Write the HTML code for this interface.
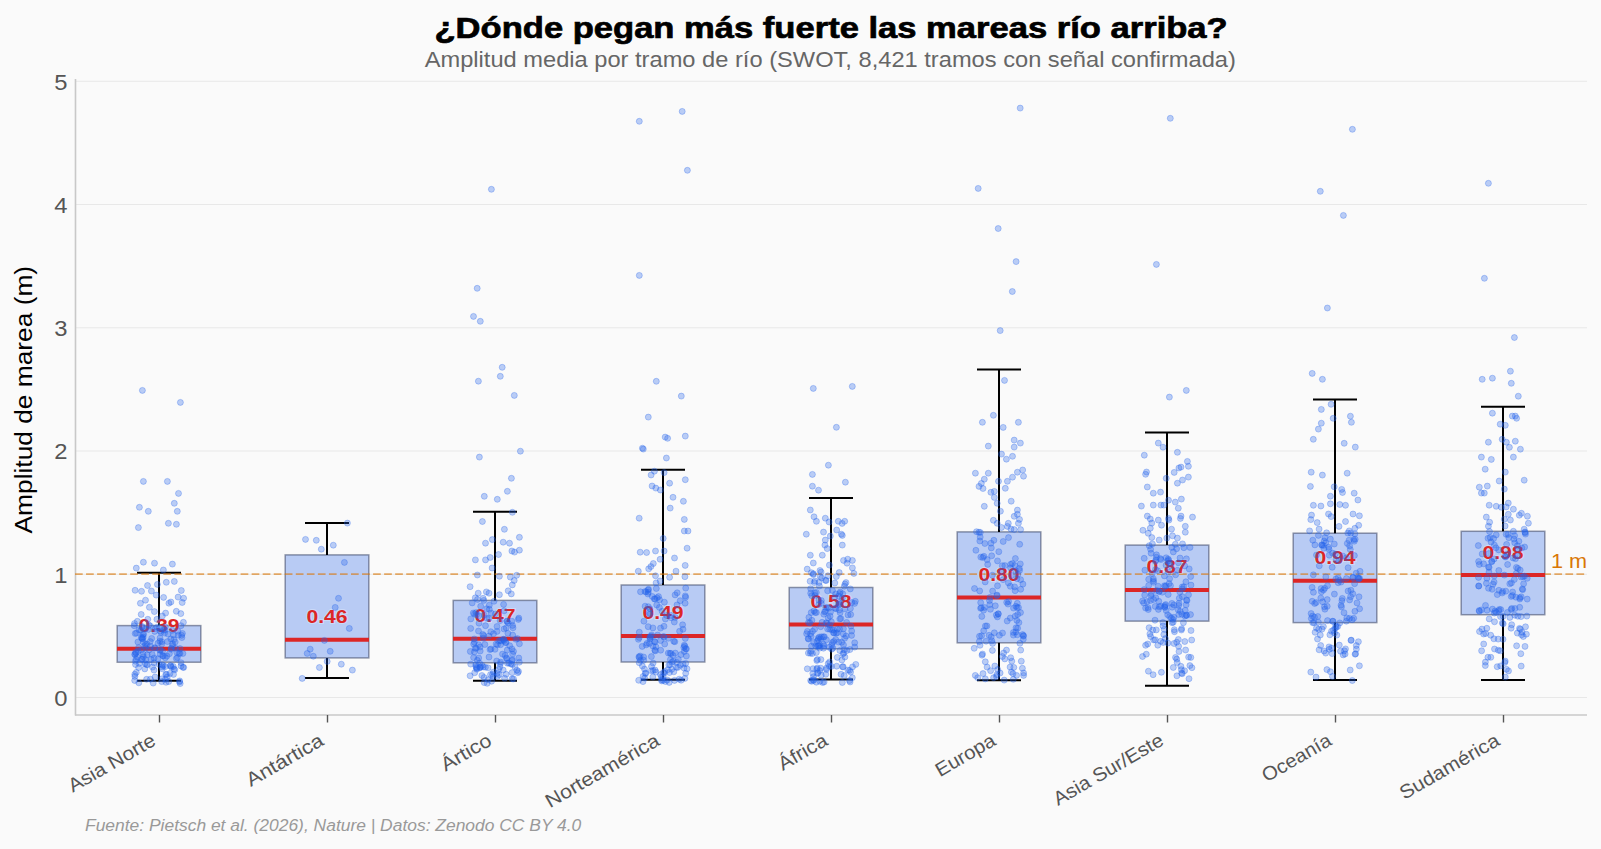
<!DOCTYPE html><html><head><meta charset="utf-8"><style>html,body{margin:0;padding:0;background:#fafafa;overflow:hidden}svg{display:block}</style></head><body><svg width="1601" height="849" viewBox="0 0 1601 849">
<rect x="0" y="0" width="1601" height="849" fill="#fafafa"/>
<line x1="75" y1="697.5" x2="1587" y2="697.5" stroke="#e8e8e8" stroke-width="1"/>
<line x1="75" y1="574.25" x2="1587" y2="574.25" stroke="#e8e8e8" stroke-width="1"/>
<line x1="75" y1="451.0" x2="1587" y2="451.0" stroke="#e8e8e8" stroke-width="1"/>
<line x1="75" y1="327.75" x2="1587" y2="327.75" stroke="#e8e8e8" stroke-width="1"/>
<line x1="75" y1="204.5" x2="1587" y2="204.5" stroke="#e8e8e8" stroke-width="1"/>
<line x1="75" y1="81.25" x2="1587" y2="81.25" stroke="#e8e8e8" stroke-width="1"/>
<line x1="75.5" y1="79" x2="75.5" y2="715.5" stroke="#c8c8c8" stroke-width="1.6"/>
<line x1="75" y1="715" x2="1587" y2="715" stroke="#c8c8c8" stroke-width="1.6"/>
<text x="67.50" y="705.80" text-anchor="end" font-family="Liberation Sans" font-size="21.45" font-weight="normal" font-style="normal" fill="#555"  textLength="13.25" lengthAdjust="spacingAndGlyphs">0</text>
<text x="67.50" y="582.55" text-anchor="end" font-family="Liberation Sans" font-size="21.45" font-weight="normal" font-style="normal" fill="#555"  textLength="13.25" lengthAdjust="spacingAndGlyphs">1</text>
<text x="67.50" y="459.30" text-anchor="end" font-family="Liberation Sans" font-size="21.45" font-weight="normal" font-style="normal" fill="#555"  textLength="13.25" lengthAdjust="spacingAndGlyphs">2</text>
<text x="67.50" y="336.05" text-anchor="end" font-family="Liberation Sans" font-size="21.45" font-weight="normal" font-style="normal" fill="#555"  textLength="13.25" lengthAdjust="spacingAndGlyphs">3</text>
<text x="67.50" y="212.80" text-anchor="end" font-family="Liberation Sans" font-size="21.45" font-weight="normal" font-style="normal" fill="#555"  textLength="13.25" lengthAdjust="spacingAndGlyphs">4</text>
<text x="67.50" y="89.55" text-anchor="end" font-family="Liberation Sans" font-size="21.45" font-weight="normal" font-style="normal" fill="#555"  textLength="13.25" lengthAdjust="spacingAndGlyphs">5</text>
<text x="1551.00" y="567.90" text-anchor="start" font-family="Liberation Sans" font-size="19.31" font-weight="normal" font-style="normal" fill="#d97706"  textLength="36.15" lengthAdjust="spacingAndGlyphs">1 m</text>
<rect x="117.2" y="625.6" width="83.6" height="36.60000000000002" fill="#b8cbf4" stroke="#46506e" stroke-opacity="0.6" stroke-width="1.5"/>
<line x1="159.5" y1="715" x2="159.5" y2="722.5" stroke="#555" stroke-width="1.4"/>
<text transform="translate(157,744.2) rotate(-30)" text-anchor="end" font-family="Liberation Sans" font-size="19.31" font-weight="normal" font-style="normal" fill="#555"  textLength="97.35" lengthAdjust="spacingAndGlyphs">Asia Norte</text>
<rect x="285.2" y="554.9" width="83.6" height="103.0" fill="#b8cbf4" stroke="#46506e" stroke-opacity="0.6" stroke-width="1.5"/>
<line x1="327.5" y1="715" x2="327.5" y2="722.5" stroke="#555" stroke-width="1.4"/>
<text transform="translate(325,744.2) rotate(-30)" text-anchor="end" font-family="Liberation Sans" font-size="19.31" font-weight="normal" font-style="normal" fill="#555"  textLength="85.62" lengthAdjust="spacingAndGlyphs">Antártica</text>
<rect x="453.2" y="600.4" width="83.6" height="62.39999999999998" fill="#b8cbf4" stroke="#46506e" stroke-opacity="0.6" stroke-width="1.5"/>
<line x1="495.5" y1="715" x2="495.5" y2="722.5" stroke="#555" stroke-width="1.4"/>
<text transform="translate(493,744.2) rotate(-30)" text-anchor="end" font-family="Liberation Sans" font-size="19.31" font-weight="normal" font-style="normal" fill="#555"  textLength="54.88" lengthAdjust="spacingAndGlyphs">Ártico</text>
<rect x="621.2" y="585.0" width="83.6" height="77.0" fill="#b8cbf4" stroke="#46506e" stroke-opacity="0.6" stroke-width="1.5"/>
<line x1="663.5" y1="715" x2="663.5" y2="722.5" stroke="#555" stroke-width="1.4"/>
<text transform="translate(661,744.2) rotate(-30)" text-anchor="end" font-family="Liberation Sans" font-size="19.31" font-weight="normal" font-style="normal" fill="#555"  textLength="128.10" lengthAdjust="spacingAndGlyphs">Norteamérica</text>
<rect x="789.2" y="587.5" width="83.6" height="61.299999999999955" fill="#b8cbf4" stroke="#46506e" stroke-opacity="0.6" stroke-width="1.5"/>
<line x1="831.5" y1="715" x2="831.5" y2="722.5" stroke="#555" stroke-width="1.4"/>
<text transform="translate(829,744.2) rotate(-30)" text-anchor="end" font-family="Liberation Sans" font-size="19.31" font-weight="normal" font-style="normal" fill="#555"  textLength="53.48" lengthAdjust="spacingAndGlyphs">África</text>
<rect x="957.2" y="531.9" width="83.6" height="110.89999999999998" fill="#b8cbf4" stroke="#46506e" stroke-opacity="0.6" stroke-width="1.5"/>
<line x1="999.5" y1="715" x2="999.5" y2="722.5" stroke="#555" stroke-width="1.4"/>
<text transform="translate(997,744.2) rotate(-30)" text-anchor="end" font-family="Liberation Sans" font-size="19.31" font-weight="normal" font-style="normal" fill="#555"  textLength="65.89" lengthAdjust="spacingAndGlyphs">Europa</text>
<rect x="1125.2" y="545.1" width="83.6" height="76.0" fill="#b8cbf4" stroke="#46506e" stroke-opacity="0.6" stroke-width="1.5"/>
<line x1="1167.5" y1="715" x2="1167.5" y2="722.5" stroke="#555" stroke-width="1.4"/>
<text transform="translate(1165,744.2) rotate(-30)" text-anchor="end" font-family="Liberation Sans" font-size="19.31" font-weight="normal" font-style="normal" fill="#555"  textLength="123.57" lengthAdjust="spacingAndGlyphs">Asia Sur/Este</text>
<rect x="1293.2" y="533.2" width="83.6" height="89.39999999999998" fill="#b8cbf4" stroke="#46506e" stroke-opacity="0.6" stroke-width="1.5"/>
<line x1="1335.5" y1="715" x2="1335.5" y2="722.5" stroke="#555" stroke-width="1.4"/>
<text transform="translate(1333,744.2) rotate(-30)" text-anchor="end" font-family="Liberation Sans" font-size="19.31" font-weight="normal" font-style="normal" fill="#555"  textLength="76.68" lengthAdjust="spacingAndGlyphs">Oceanía</text>
<rect x="1461.2" y="531.3" width="83.6" height="83.40000000000009" fill="#b8cbf4" stroke="#46506e" stroke-opacity="0.6" stroke-width="1.5"/>
<line x1="1503.5" y1="715" x2="1503.5" y2="722.5" stroke="#555" stroke-width="1.4"/>
<text transform="translate(1501,744.2) rotate(-30)" text-anchor="end" font-family="Liberation Sans" font-size="19.31" font-weight="normal" font-style="normal" fill="#555"  textLength="111.69" lengthAdjust="spacingAndGlyphs">Sudamérica</text>
<line x1="159" y1="625.6" x2="159" y2="572.7" stroke="#000" stroke-width="2"/>
<line x1="159" y1="662.2" x2="159" y2="680.8" stroke="#000" stroke-width="2"/>
<line x1="137" y1="572.7" x2="181" y2="572.7" stroke="#000" stroke-width="2"/>
<line x1="137" y1="680.8" x2="181" y2="680.8" stroke="#000" stroke-width="2"/>
<line x1="327" y1="554.9" x2="327" y2="522.9" stroke="#000" stroke-width="2"/>
<line x1="327" y1="657.9" x2="327" y2="677.9" stroke="#000" stroke-width="2"/>
<line x1="305" y1="522.9" x2="349" y2="522.9" stroke="#000" stroke-width="2"/>
<line x1="305" y1="677.9" x2="349" y2="677.9" stroke="#000" stroke-width="2"/>
<line x1="495" y1="600.4" x2="495" y2="511.8" stroke="#000" stroke-width="2"/>
<line x1="495" y1="662.8" x2="495" y2="680.7" stroke="#000" stroke-width="2"/>
<line x1="473" y1="511.8" x2="517" y2="511.8" stroke="#000" stroke-width="2"/>
<line x1="473" y1="680.7" x2="517" y2="680.7" stroke="#000" stroke-width="2"/>
<line x1="663" y1="585.0" x2="663" y2="469.7" stroke="#000" stroke-width="2"/>
<line x1="663" y1="662.0" x2="663" y2="679.7" stroke="#000" stroke-width="2"/>
<line x1="641" y1="469.7" x2="685" y2="469.7" stroke="#000" stroke-width="2"/>
<line x1="641" y1="679.7" x2="685" y2="679.7" stroke="#000" stroke-width="2"/>
<line x1="831" y1="587.5" x2="831" y2="497.9" stroke="#000" stroke-width="2"/>
<line x1="831" y1="648.8" x2="831" y2="679.6" stroke="#000" stroke-width="2"/>
<line x1="809" y1="497.9" x2="853" y2="497.9" stroke="#000" stroke-width="2"/>
<line x1="809" y1="679.6" x2="853" y2="679.6" stroke="#000" stroke-width="2"/>
<line x1="999" y1="531.9" x2="999" y2="369.4" stroke="#000" stroke-width="2"/>
<line x1="999" y1="642.8" x2="999" y2="680.2" stroke="#000" stroke-width="2"/>
<line x1="977" y1="369.4" x2="1021" y2="369.4" stroke="#000" stroke-width="2"/>
<line x1="977" y1="680.2" x2="1021" y2="680.2" stroke="#000" stroke-width="2"/>
<line x1="1167" y1="545.1" x2="1167" y2="432.5" stroke="#000" stroke-width="2"/>
<line x1="1167" y1="621.1" x2="1167" y2="685.8" stroke="#000" stroke-width="2"/>
<line x1="1145" y1="432.5" x2="1189" y2="432.5" stroke="#000" stroke-width="2"/>
<line x1="1145" y1="685.8" x2="1189" y2="685.8" stroke="#000" stroke-width="2"/>
<line x1="1335" y1="533.2" x2="1335" y2="399.6" stroke="#000" stroke-width="2"/>
<line x1="1335" y1="622.6" x2="1335" y2="680.0" stroke="#000" stroke-width="2"/>
<line x1="1313" y1="399.6" x2="1357" y2="399.6" stroke="#000" stroke-width="2"/>
<line x1="1313" y1="680.0" x2="1357" y2="680.0" stroke="#000" stroke-width="2"/>
<line x1="1503" y1="531.3" x2="1503" y2="406.8" stroke="#000" stroke-width="2"/>
<line x1="1503" y1="614.7" x2="1503" y2="680.0" stroke="#000" stroke-width="2"/>
<line x1="1481" y1="406.8" x2="1525" y2="406.8" stroke="#000" stroke-width="2"/>
<line x1="1481" y1="680.0" x2="1525" y2="680.0" stroke="#000" stroke-width="2"/>
<line x1="75" y1="574.1" x2="1587" y2="574.1" stroke="#d97706" stroke-opacity="0.6" stroke-width="1.9" stroke-dasharray="7.71 3.33"/>
<line x1="117" y1="648.7" x2="201" y2="648.7" stroke="#dc2626" stroke-width="4"/>
<text x="159.00" y="632.10" text-anchor="middle" font-family="Liberation Sans" font-size="18.00" font-weight="bold" font-style="normal" fill="#dc2626" stroke="#ffffff" stroke-opacity="0.3" stroke-width="2" paint-order="stroke" textLength="41.13" lengthAdjust="spacingAndGlyphs">0.39</text>
<line x1="285" y1="639.7" x2="369" y2="639.7" stroke="#dc2626" stroke-width="4"/>
<text x="327.00" y="623.10" text-anchor="middle" font-family="Liberation Sans" font-size="18.00" font-weight="bold" font-style="normal" fill="#dc2626" stroke="#ffffff" stroke-opacity="0.3" stroke-width="2" paint-order="stroke" textLength="41.13" lengthAdjust="spacingAndGlyphs">0.46</text>
<line x1="453" y1="638.7" x2="537" y2="638.7" stroke="#dc2626" stroke-width="4"/>
<text x="495.00" y="622.10" text-anchor="middle" font-family="Liberation Sans" font-size="18.00" font-weight="bold" font-style="normal" fill="#dc2626" stroke="#ffffff" stroke-opacity="0.3" stroke-width="2" paint-order="stroke" textLength="41.13" lengthAdjust="spacingAndGlyphs">0.47</text>
<line x1="621" y1="635.9" x2="705" y2="635.9" stroke="#dc2626" stroke-width="4"/>
<text x="663.00" y="619.30" text-anchor="middle" font-family="Liberation Sans" font-size="18.00" font-weight="bold" font-style="normal" fill="#dc2626" stroke="#ffffff" stroke-opacity="0.3" stroke-width="2" paint-order="stroke" textLength="41.13" lengthAdjust="spacingAndGlyphs">0.49</text>
<line x1="789" y1="624.5" x2="873" y2="624.5" stroke="#dc2626" stroke-width="4"/>
<text x="831.00" y="607.90" text-anchor="middle" font-family="Liberation Sans" font-size="18.00" font-weight="bold" font-style="normal" fill="#dc2626" stroke="#ffffff" stroke-opacity="0.3" stroke-width="2" paint-order="stroke" textLength="41.13" lengthAdjust="spacingAndGlyphs">0.58</text>
<line x1="957" y1="597.6" x2="1041" y2="597.6" stroke="#dc2626" stroke-width="4"/>
<text x="999.00" y="581.00" text-anchor="middle" font-family="Liberation Sans" font-size="18.00" font-weight="bold" font-style="normal" fill="#dc2626" stroke="#ffffff" stroke-opacity="0.3" stroke-width="2" paint-order="stroke" textLength="41.13" lengthAdjust="spacingAndGlyphs">0.80</text>
<line x1="1125" y1="590.0" x2="1209" y2="590.0" stroke="#dc2626" stroke-width="4"/>
<text x="1167.00" y="573.40" text-anchor="middle" font-family="Liberation Sans" font-size="18.00" font-weight="bold" font-style="normal" fill="#dc2626" stroke="#ffffff" stroke-opacity="0.3" stroke-width="2" paint-order="stroke" textLength="41.13" lengthAdjust="spacingAndGlyphs">0.87</text>
<line x1="1293" y1="580.8" x2="1377" y2="580.8" stroke="#dc2626" stroke-width="4"/>
<text x="1335.00" y="564.20" text-anchor="middle" font-family="Liberation Sans" font-size="18.00" font-weight="bold" font-style="normal" fill="#dc2626" stroke="#ffffff" stroke-opacity="0.3" stroke-width="2" paint-order="stroke" textLength="41.13" lengthAdjust="spacingAndGlyphs">0.94</text>
<line x1="1461" y1="575.1" x2="1545" y2="575.1" stroke="#dc2626" stroke-width="4"/>
<text x="1503.00" y="558.50" text-anchor="middle" font-family="Liberation Sans" font-size="18.00" font-weight="bold" font-style="normal" fill="#dc2626" stroke="#ffffff" stroke-opacity="0.3" stroke-width="2" paint-order="stroke" textLength="41.13" lengthAdjust="spacingAndGlyphs">0.98</text>
<circle cx="142.4" cy="390.4" r="3" fill="#2563eb" fill-opacity="0.3" stroke="#2563eb" stroke-opacity="0.3" stroke-width="1"/>
<circle cx="180.4" cy="402.4" r="3" fill="#2563eb" fill-opacity="0.3" stroke="#2563eb" stroke-opacity="0.3" stroke-width="1"/>
<circle cx="143.4" cy="481.4" r="3" fill="#2563eb" fill-opacity="0.3" stroke="#2563eb" stroke-opacity="0.3" stroke-width="1"/>
<circle cx="167.4" cy="481.4" r="3" fill="#2563eb" fill-opacity="0.3" stroke="#2563eb" stroke-opacity="0.3" stroke-width="1"/>
<circle cx="178.5" cy="493.4" r="3" fill="#2563eb" fill-opacity="0.3" stroke="#2563eb" stroke-opacity="0.3" stroke-width="1"/>
<circle cx="174.3" cy="503.3" r="3" fill="#2563eb" fill-opacity="0.3" stroke="#2563eb" stroke-opacity="0.3" stroke-width="1"/>
<circle cx="139.4" cy="507.3" r="3" fill="#2563eb" fill-opacity="0.3" stroke="#2563eb" stroke-opacity="0.3" stroke-width="1"/>
<circle cx="148.3" cy="511.3" r="3" fill="#2563eb" fill-opacity="0.3" stroke="#2563eb" stroke-opacity="0.3" stroke-width="1"/>
<circle cx="177.3" cy="511.3" r="3" fill="#2563eb" fill-opacity="0.3" stroke="#2563eb" stroke-opacity="0.3" stroke-width="1"/>
<circle cx="138.4" cy="527.6" r="3" fill="#2563eb" fill-opacity="0.3" stroke="#2563eb" stroke-opacity="0.3" stroke-width="1"/>
<circle cx="168.4" cy="523.3" r="3" fill="#2563eb" fill-opacity="0.3" stroke="#2563eb" stroke-opacity="0.3" stroke-width="1"/>
<circle cx="176.4" cy="524.3" r="3" fill="#2563eb" fill-opacity="0.3" stroke="#2563eb" stroke-opacity="0.3" stroke-width="1"/>
<circle cx="143.4" cy="562.2" r="3" fill="#2563eb" fill-opacity="0.3" stroke="#2563eb" stroke-opacity="0.3" stroke-width="1"/>
<circle cx="154.5" cy="563.2" r="3" fill="#2563eb" fill-opacity="0.3" stroke="#2563eb" stroke-opacity="0.3" stroke-width="1"/>
<circle cx="172.4" cy="564.1" r="3" fill="#2563eb" fill-opacity="0.3" stroke="#2563eb" stroke-opacity="0.3" stroke-width="1"/>
<circle cx="136.3" cy="568.1" r="3" fill="#2563eb" fill-opacity="0.3" stroke="#2563eb" stroke-opacity="0.3" stroke-width="1"/>
<circle cx="163.4" cy="570.0" r="3" fill="#2563eb" fill-opacity="0.3" stroke="#2563eb" stroke-opacity="0.3" stroke-width="1"/>
<circle cx="166.3" cy="582.3" r="3" fill="#2563eb" fill-opacity="0.3" stroke="#2563eb" stroke-opacity="0.3" stroke-width="1"/>
<circle cx="174.3" cy="581.4" r="3" fill="#2563eb" fill-opacity="0.3" stroke="#2563eb" stroke-opacity="0.3" stroke-width="1"/>
<circle cx="157.4" cy="584.4" r="3" fill="#2563eb" fill-opacity="0.3" stroke="#2563eb" stroke-opacity="0.3" stroke-width="1"/>
<circle cx="147.5" cy="585.5" r="3" fill="#2563eb" fill-opacity="0.3" stroke="#2563eb" stroke-opacity="0.3" stroke-width="1"/>
<circle cx="135.1" cy="590.3" r="3" fill="#2563eb" fill-opacity="0.3" stroke="#2563eb" stroke-opacity="0.3" stroke-width="1"/>
<circle cx="141.5" cy="591.3" r="3" fill="#2563eb" fill-opacity="0.3" stroke="#2563eb" stroke-opacity="0.3" stroke-width="1"/>
<circle cx="151.4" cy="591.0" r="3" fill="#2563eb" fill-opacity="0.3" stroke="#2563eb" stroke-opacity="0.3" stroke-width="1"/>
<circle cx="181.3" cy="590.5" r="3" fill="#2563eb" fill-opacity="0.3" stroke="#2563eb" stroke-opacity="0.3" stroke-width="1"/>
<circle cx="156.2" cy="595.1" r="3" fill="#2563eb" fill-opacity="0.3" stroke="#2563eb" stroke-opacity="0.3" stroke-width="1"/>
<circle cx="163.6" cy="597.4" r="3" fill="#2563eb" fill-opacity="0.3" stroke="#2563eb" stroke-opacity="0.3" stroke-width="1"/>
<circle cx="145.5" cy="600.2" r="3" fill="#2563eb" fill-opacity="0.3" stroke="#2563eb" stroke-opacity="0.3" stroke-width="1"/>
<circle cx="178.1" cy="597.1" r="3" fill="#2563eb" fill-opacity="0.3" stroke="#2563eb" stroke-opacity="0.3" stroke-width="1"/>
<circle cx="183.6" cy="598.2" r="3" fill="#2563eb" fill-opacity="0.3" stroke="#2563eb" stroke-opacity="0.3" stroke-width="1"/>
<circle cx="140.4" cy="603.3" r="3" fill="#2563eb" fill-opacity="0.3" stroke="#2563eb" stroke-opacity="0.3" stroke-width="1"/>
<circle cx="168.9" cy="603.2" r="3" fill="#2563eb" fill-opacity="0.3" stroke="#2563eb" stroke-opacity="0.3" stroke-width="1"/>
<circle cx="170.9" cy="602.0" r="3" fill="#2563eb" fill-opacity="0.3" stroke="#2563eb" stroke-opacity="0.3" stroke-width="1"/>
<circle cx="182.2" cy="602.5" r="3" fill="#2563eb" fill-opacity="0.3" stroke="#2563eb" stroke-opacity="0.3" stroke-width="1"/>
<circle cx="149.4" cy="607.3" r="3" fill="#2563eb" fill-opacity="0.3" stroke="#2563eb" stroke-opacity="0.3" stroke-width="1"/>
<circle cx="154.4" cy="611.6" r="3" fill="#2563eb" fill-opacity="0.3" stroke="#2563eb" stroke-opacity="0.3" stroke-width="1"/>
<circle cx="176.3" cy="611.3" r="3" fill="#2563eb" fill-opacity="0.3" stroke="#2563eb" stroke-opacity="0.3" stroke-width="1"/>
<circle cx="180.8" cy="613.6" r="3" fill="#2563eb" fill-opacity="0.3" stroke="#2563eb" stroke-opacity="0.3" stroke-width="1"/>
<circle cx="141.2" cy="614.4" r="3" fill="#2563eb" fill-opacity="0.3" stroke="#2563eb" stroke-opacity="0.3" stroke-width="1"/>
<circle cx="165.6" cy="613.1" r="3" fill="#2563eb" fill-opacity="0.3" stroke="#2563eb" stroke-opacity="0.3" stroke-width="1"/>
<circle cx="162.3" cy="616.0" r="3" fill="#2563eb" fill-opacity="0.3" stroke="#2563eb" stroke-opacity="0.3" stroke-width="1"/>
<circle cx="137.4" cy="621.3" r="3" fill="#2563eb" fill-opacity="0.3" stroke="#2563eb" stroke-opacity="0.3" stroke-width="1"/>
<circle cx="183.4" cy="622.3" r="3" fill="#2563eb" fill-opacity="0.3" stroke="#2563eb" stroke-opacity="0.3" stroke-width="1"/>
<circle cx="156.9" cy="619.3" r="3" fill="#2563eb" fill-opacity="0.3" stroke="#2563eb" stroke-opacity="0.3" stroke-width="1"/>
<circle cx="147.8" cy="619.3" r="3" fill="#2563eb" fill-opacity="0.3" stroke="#2563eb" stroke-opacity="0.3" stroke-width="1"/>
<circle cx="134.5" cy="623.5" r="3" fill="#2563eb" fill-opacity="0.3" stroke="#2563eb" stroke-opacity="0.3" stroke-width="1"/>
<circle cx="148.9" cy="625.0" r="3" fill="#2563eb" fill-opacity="0.3" stroke="#2563eb" stroke-opacity="0.3" stroke-width="1"/>
<circle cx="143.7" cy="634.1" r="3" fill="#2563eb" fill-opacity="0.3" stroke="#2563eb" stroke-opacity="0.3" stroke-width="1"/>
<circle cx="142.1" cy="638.7" r="3" fill="#2563eb" fill-opacity="0.3" stroke="#2563eb" stroke-opacity="0.3" stroke-width="1"/>
<circle cx="155.6" cy="628.5" r="3" fill="#2563eb" fill-opacity="0.3" stroke="#2563eb" stroke-opacity="0.3" stroke-width="1"/>
<circle cx="142.7" cy="638.6" r="3" fill="#2563eb" fill-opacity="0.3" stroke="#2563eb" stroke-opacity="0.3" stroke-width="1"/>
<circle cx="151.7" cy="638.4" r="3" fill="#2563eb" fill-opacity="0.3" stroke="#2563eb" stroke-opacity="0.3" stroke-width="1"/>
<circle cx="138.6" cy="647.7" r="3" fill="#2563eb" fill-opacity="0.3" stroke="#2563eb" stroke-opacity="0.3" stroke-width="1"/>
<circle cx="154.6" cy="648.2" r="3" fill="#2563eb" fill-opacity="0.3" stroke="#2563eb" stroke-opacity="0.3" stroke-width="1"/>
<circle cx="141.4" cy="637.2" r="3" fill="#2563eb" fill-opacity="0.3" stroke="#2563eb" stroke-opacity="0.3" stroke-width="1"/>
<circle cx="143.5" cy="642.2" r="3" fill="#2563eb" fill-opacity="0.3" stroke="#2563eb" stroke-opacity="0.3" stroke-width="1"/>
<circle cx="135.2" cy="633.5" r="3" fill="#2563eb" fill-opacity="0.3" stroke="#2563eb" stroke-opacity="0.3" stroke-width="1"/>
<circle cx="182.4" cy="633.4" r="3" fill="#2563eb" fill-opacity="0.3" stroke="#2563eb" stroke-opacity="0.3" stroke-width="1"/>
<circle cx="171.2" cy="648.2" r="3" fill="#2563eb" fill-opacity="0.3" stroke="#2563eb" stroke-opacity="0.3" stroke-width="1"/>
<circle cx="181.0" cy="625.7" r="3" fill="#2563eb" fill-opacity="0.3" stroke="#2563eb" stroke-opacity="0.3" stroke-width="1"/>
<circle cx="172.5" cy="645.7" r="3" fill="#2563eb" fill-opacity="0.3" stroke="#2563eb" stroke-opacity="0.3" stroke-width="1"/>
<circle cx="139.0" cy="629.7" r="3" fill="#2563eb" fill-opacity="0.3" stroke="#2563eb" stroke-opacity="0.3" stroke-width="1"/>
<circle cx="178.3" cy="635.2" r="3" fill="#2563eb" fill-opacity="0.3" stroke="#2563eb" stroke-opacity="0.3" stroke-width="1"/>
<circle cx="170.8" cy="639.0" r="3" fill="#2563eb" fill-opacity="0.3" stroke="#2563eb" stroke-opacity="0.3" stroke-width="1"/>
<circle cx="160.2" cy="631.0" r="3" fill="#2563eb" fill-opacity="0.3" stroke="#2563eb" stroke-opacity="0.3" stroke-width="1"/>
<circle cx="175.2" cy="642.0" r="3" fill="#2563eb" fill-opacity="0.3" stroke="#2563eb" stroke-opacity="0.3" stroke-width="1"/>
<circle cx="145.6" cy="644.2" r="3" fill="#2563eb" fill-opacity="0.3" stroke="#2563eb" stroke-opacity="0.3" stroke-width="1"/>
<circle cx="144.8" cy="645.8" r="3" fill="#2563eb" fill-opacity="0.3" stroke="#2563eb" stroke-opacity="0.3" stroke-width="1"/>
<circle cx="161.8" cy="644.1" r="3" fill="#2563eb" fill-opacity="0.3" stroke="#2563eb" stroke-opacity="0.3" stroke-width="1"/>
<circle cx="163.4" cy="629.9" r="3" fill="#2563eb" fill-opacity="0.3" stroke="#2563eb" stroke-opacity="0.3" stroke-width="1"/>
<circle cx="181.9" cy="637.6" r="3" fill="#2563eb" fill-opacity="0.3" stroke="#2563eb" stroke-opacity="0.3" stroke-width="1"/>
<circle cx="142.2" cy="626.6" r="3" fill="#2563eb" fill-opacity="0.3" stroke="#2563eb" stroke-opacity="0.3" stroke-width="1"/>
<circle cx="175.6" cy="648.3" r="3" fill="#2563eb" fill-opacity="0.3" stroke="#2563eb" stroke-opacity="0.3" stroke-width="1"/>
<circle cx="145.5" cy="629.1" r="3" fill="#2563eb" fill-opacity="0.3" stroke="#2563eb" stroke-opacity="0.3" stroke-width="1"/>
<circle cx="141.8" cy="638.1" r="3" fill="#2563eb" fill-opacity="0.3" stroke="#2563eb" stroke-opacity="0.3" stroke-width="1"/>
<circle cx="136.5" cy="633.1" r="3" fill="#2563eb" fill-opacity="0.3" stroke="#2563eb" stroke-opacity="0.3" stroke-width="1"/>
<circle cx="137.9" cy="642.0" r="3" fill="#2563eb" fill-opacity="0.3" stroke="#2563eb" stroke-opacity="0.3" stroke-width="1"/>
<circle cx="180.0" cy="648.6" r="3" fill="#2563eb" fill-opacity="0.3" stroke="#2563eb" stroke-opacity="0.3" stroke-width="1"/>
<circle cx="172.6" cy="643.8" r="3" fill="#2563eb" fill-opacity="0.3" stroke="#2563eb" stroke-opacity="0.3" stroke-width="1"/>
<circle cx="167.9" cy="634.1" r="3" fill="#2563eb" fill-opacity="0.3" stroke="#2563eb" stroke-opacity="0.3" stroke-width="1"/>
<circle cx="158.0" cy="643.2" r="3" fill="#2563eb" fill-opacity="0.3" stroke="#2563eb" stroke-opacity="0.3" stroke-width="1"/>
<circle cx="165.3" cy="627.0" r="3" fill="#2563eb" fill-opacity="0.3" stroke="#2563eb" stroke-opacity="0.3" stroke-width="1"/>
<circle cx="164.5" cy="633.1" r="3" fill="#2563eb" fill-opacity="0.3" stroke="#2563eb" stroke-opacity="0.3" stroke-width="1"/>
<circle cx="181.6" cy="635.3" r="3" fill="#2563eb" fill-opacity="0.3" stroke="#2563eb" stroke-opacity="0.3" stroke-width="1"/>
<circle cx="172.4" cy="630.3" r="3" fill="#2563eb" fill-opacity="0.3" stroke="#2563eb" stroke-opacity="0.3" stroke-width="1"/>
<circle cx="161.8" cy="641.7" r="3" fill="#2563eb" fill-opacity="0.3" stroke="#2563eb" stroke-opacity="0.3" stroke-width="1"/>
<circle cx="142.2" cy="627.4" r="3" fill="#2563eb" fill-opacity="0.3" stroke="#2563eb" stroke-opacity="0.3" stroke-width="1"/>
<circle cx="145.5" cy="647.9" r="3" fill="#2563eb" fill-opacity="0.3" stroke="#2563eb" stroke-opacity="0.3" stroke-width="1"/>
<circle cx="148.4" cy="629.4" r="3" fill="#2563eb" fill-opacity="0.3" stroke="#2563eb" stroke-opacity="0.3" stroke-width="1"/>
<circle cx="160.0" cy="638.0" r="3" fill="#2563eb" fill-opacity="0.3" stroke="#2563eb" stroke-opacity="0.3" stroke-width="1"/>
<circle cx="134.2" cy="625.7" r="3" fill="#2563eb" fill-opacity="0.3" stroke="#2563eb" stroke-opacity="0.3" stroke-width="1"/>
<circle cx="143.2" cy="637.1" r="3" fill="#2563eb" fill-opacity="0.3" stroke="#2563eb" stroke-opacity="0.3" stroke-width="1"/>
<circle cx="173.9" cy="639.6" r="3" fill="#2563eb" fill-opacity="0.3" stroke="#2563eb" stroke-opacity="0.3" stroke-width="1"/>
<circle cx="159.3" cy="627.8" r="3" fill="#2563eb" fill-opacity="0.3" stroke="#2563eb" stroke-opacity="0.3" stroke-width="1"/>
<circle cx="173.5" cy="635.0" r="3" fill="#2563eb" fill-opacity="0.3" stroke="#2563eb" stroke-opacity="0.3" stroke-width="1"/>
<circle cx="154.8" cy="647.7" r="3" fill="#2563eb" fill-opacity="0.3" stroke="#2563eb" stroke-opacity="0.3" stroke-width="1"/>
<circle cx="177.9" cy="631.2" r="3" fill="#2563eb" fill-opacity="0.3" stroke="#2563eb" stroke-opacity="0.3" stroke-width="1"/>
<circle cx="150.5" cy="626.2" r="3" fill="#2563eb" fill-opacity="0.3" stroke="#2563eb" stroke-opacity="0.3" stroke-width="1"/>
<circle cx="142.9" cy="634.7" r="3" fill="#2563eb" fill-opacity="0.3" stroke="#2563eb" stroke-opacity="0.3" stroke-width="1"/>
<circle cx="159.9" cy="641.3" r="3" fill="#2563eb" fill-opacity="0.3" stroke="#2563eb" stroke-opacity="0.3" stroke-width="1"/>
<circle cx="154.7" cy="631.4" r="3" fill="#2563eb" fill-opacity="0.3" stroke="#2563eb" stroke-opacity="0.3" stroke-width="1"/>
<circle cx="150.2" cy="641.6" r="3" fill="#2563eb" fill-opacity="0.3" stroke="#2563eb" stroke-opacity="0.3" stroke-width="1"/>
<circle cx="157.0" cy="627.2" r="3" fill="#2563eb" fill-opacity="0.3" stroke="#2563eb" stroke-opacity="0.3" stroke-width="1"/>
<circle cx="165.1" cy="630.1" r="3" fill="#2563eb" fill-opacity="0.3" stroke="#2563eb" stroke-opacity="0.3" stroke-width="1"/>
<circle cx="140.8" cy="630.3" r="3" fill="#2563eb" fill-opacity="0.3" stroke="#2563eb" stroke-opacity="0.3" stroke-width="1"/>
<circle cx="150.5" cy="646.3" r="3" fill="#2563eb" fill-opacity="0.3" stroke="#2563eb" stroke-opacity="0.3" stroke-width="1"/>
<circle cx="160.9" cy="632.4" r="3" fill="#2563eb" fill-opacity="0.3" stroke="#2563eb" stroke-opacity="0.3" stroke-width="1"/>
<circle cx="167.5" cy="641.6" r="3" fill="#2563eb" fill-opacity="0.3" stroke="#2563eb" stroke-opacity="0.3" stroke-width="1"/>
<circle cx="147.0" cy="644.0" r="3" fill="#2563eb" fill-opacity="0.3" stroke="#2563eb" stroke-opacity="0.3" stroke-width="1"/>
<circle cx="152.2" cy="654.5" r="3" fill="#2563eb" fill-opacity="0.3" stroke="#2563eb" stroke-opacity="0.3" stroke-width="1"/>
<circle cx="162.7" cy="655.7" r="3" fill="#2563eb" fill-opacity="0.3" stroke="#2563eb" stroke-opacity="0.3" stroke-width="1"/>
<circle cx="137.4" cy="657.2" r="3" fill="#2563eb" fill-opacity="0.3" stroke="#2563eb" stroke-opacity="0.3" stroke-width="1"/>
<circle cx="169.4" cy="653.7" r="3" fill="#2563eb" fill-opacity="0.3" stroke="#2563eb" stroke-opacity="0.3" stroke-width="1"/>
<circle cx="171.3" cy="649.2" r="3" fill="#2563eb" fill-opacity="0.3" stroke="#2563eb" stroke-opacity="0.3" stroke-width="1"/>
<circle cx="154.1" cy="658.0" r="3" fill="#2563eb" fill-opacity="0.3" stroke="#2563eb" stroke-opacity="0.3" stroke-width="1"/>
<circle cx="147.2" cy="654.8" r="3" fill="#2563eb" fill-opacity="0.3" stroke="#2563eb" stroke-opacity="0.3" stroke-width="1"/>
<circle cx="158.0" cy="658.7" r="3" fill="#2563eb" fill-opacity="0.3" stroke="#2563eb" stroke-opacity="0.3" stroke-width="1"/>
<circle cx="135.5" cy="652.3" r="3" fill="#2563eb" fill-opacity="0.3" stroke="#2563eb" stroke-opacity="0.3" stroke-width="1"/>
<circle cx="180.0" cy="653.4" r="3" fill="#2563eb" fill-opacity="0.3" stroke="#2563eb" stroke-opacity="0.3" stroke-width="1"/>
<circle cx="165.3" cy="657.8" r="3" fill="#2563eb" fill-opacity="0.3" stroke="#2563eb" stroke-opacity="0.3" stroke-width="1"/>
<circle cx="135.5" cy="661.3" r="3" fill="#2563eb" fill-opacity="0.3" stroke="#2563eb" stroke-opacity="0.3" stroke-width="1"/>
<circle cx="143.4" cy="656.8" r="3" fill="#2563eb" fill-opacity="0.3" stroke="#2563eb" stroke-opacity="0.3" stroke-width="1"/>
<circle cx="143.1" cy="654.1" r="3" fill="#2563eb" fill-opacity="0.3" stroke="#2563eb" stroke-opacity="0.3" stroke-width="1"/>
<circle cx="179.1" cy="653.4" r="3" fill="#2563eb" fill-opacity="0.3" stroke="#2563eb" stroke-opacity="0.3" stroke-width="1"/>
<circle cx="176.3" cy="658.5" r="3" fill="#2563eb" fill-opacity="0.3" stroke="#2563eb" stroke-opacity="0.3" stroke-width="1"/>
<circle cx="149.0" cy="649.7" r="3" fill="#2563eb" fill-opacity="0.3" stroke="#2563eb" stroke-opacity="0.3" stroke-width="1"/>
<circle cx="136.0" cy="659.3" r="3" fill="#2563eb" fill-opacity="0.3" stroke="#2563eb" stroke-opacity="0.3" stroke-width="1"/>
<circle cx="138.1" cy="651.3" r="3" fill="#2563eb" fill-opacity="0.3" stroke="#2563eb" stroke-opacity="0.3" stroke-width="1"/>
<circle cx="145.6" cy="659.7" r="3" fill="#2563eb" fill-opacity="0.3" stroke="#2563eb" stroke-opacity="0.3" stroke-width="1"/>
<circle cx="134.7" cy="654.4" r="3" fill="#2563eb" fill-opacity="0.3" stroke="#2563eb" stroke-opacity="0.3" stroke-width="1"/>
<circle cx="159.7" cy="650.2" r="3" fill="#2563eb" fill-opacity="0.3" stroke="#2563eb" stroke-opacity="0.3" stroke-width="1"/>
<circle cx="151.1" cy="659.4" r="3" fill="#2563eb" fill-opacity="0.3" stroke="#2563eb" stroke-opacity="0.3" stroke-width="1"/>
<circle cx="136.0" cy="653.0" r="3" fill="#2563eb" fill-opacity="0.3" stroke="#2563eb" stroke-opacity="0.3" stroke-width="1"/>
<circle cx="141.4" cy="650.0" r="3" fill="#2563eb" fill-opacity="0.3" stroke="#2563eb" stroke-opacity="0.3" stroke-width="1"/>
<circle cx="162.5" cy="651.5" r="3" fill="#2563eb" fill-opacity="0.3" stroke="#2563eb" stroke-opacity="0.3" stroke-width="1"/>
<circle cx="182.9" cy="653.5" r="3" fill="#2563eb" fill-opacity="0.3" stroke="#2563eb" stroke-opacity="0.3" stroke-width="1"/>
<circle cx="176.8" cy="652.5" r="3" fill="#2563eb" fill-opacity="0.3" stroke="#2563eb" stroke-opacity="0.3" stroke-width="1"/>
<circle cx="160.4" cy="649.9" r="3" fill="#2563eb" fill-opacity="0.3" stroke="#2563eb" stroke-opacity="0.3" stroke-width="1"/>
<circle cx="166.9" cy="656.1" r="3" fill="#2563eb" fill-opacity="0.3" stroke="#2563eb" stroke-opacity="0.3" stroke-width="1"/>
<circle cx="160.2" cy="654.2" r="3" fill="#2563eb" fill-opacity="0.3" stroke="#2563eb" stroke-opacity="0.3" stroke-width="1"/>
<circle cx="141.6" cy="659.2" r="3" fill="#2563eb" fill-opacity="0.3" stroke="#2563eb" stroke-opacity="0.3" stroke-width="1"/>
<circle cx="163.4" cy="655.9" r="3" fill="#2563eb" fill-opacity="0.3" stroke="#2563eb" stroke-opacity="0.3" stroke-width="1"/>
<circle cx="142.2" cy="659.3" r="3" fill="#2563eb" fill-opacity="0.3" stroke="#2563eb" stroke-opacity="0.3" stroke-width="1"/>
<circle cx="135.2" cy="654.3" r="3" fill="#2563eb" fill-opacity="0.3" stroke="#2563eb" stroke-opacity="0.3" stroke-width="1"/>
<circle cx="177.4" cy="657.6" r="3" fill="#2563eb" fill-opacity="0.3" stroke="#2563eb" stroke-opacity="0.3" stroke-width="1"/>
<circle cx="174.8" cy="669.8" r="3" fill="#2563eb" fill-opacity="0.3" stroke="#2563eb" stroke-opacity="0.3" stroke-width="1"/>
<circle cx="134.9" cy="676.4" r="3" fill="#2563eb" fill-opacity="0.3" stroke="#2563eb" stroke-opacity="0.3" stroke-width="1"/>
<circle cx="136.3" cy="672.4" r="3" fill="#2563eb" fill-opacity="0.3" stroke="#2563eb" stroke-opacity="0.3" stroke-width="1"/>
<circle cx="174.0" cy="669.0" r="3" fill="#2563eb" fill-opacity="0.3" stroke="#2563eb" stroke-opacity="0.3" stroke-width="1"/>
<circle cx="162.3" cy="664.9" r="3" fill="#2563eb" fill-opacity="0.3" stroke="#2563eb" stroke-opacity="0.3" stroke-width="1"/>
<circle cx="139.5" cy="663.4" r="3" fill="#2563eb" fill-opacity="0.3" stroke="#2563eb" stroke-opacity="0.3" stroke-width="1"/>
<circle cx="138.8" cy="682.8" r="3" fill="#2563eb" fill-opacity="0.3" stroke="#2563eb" stroke-opacity="0.3" stroke-width="1"/>
<circle cx="181.0" cy="666.0" r="3" fill="#2563eb" fill-opacity="0.3" stroke="#2563eb" stroke-opacity="0.3" stroke-width="1"/>
<circle cx="144.8" cy="668.9" r="3" fill="#2563eb" fill-opacity="0.3" stroke="#2563eb" stroke-opacity="0.3" stroke-width="1"/>
<circle cx="159.0" cy="664.3" r="3" fill="#2563eb" fill-opacity="0.3" stroke="#2563eb" stroke-opacity="0.3" stroke-width="1"/>
<circle cx="145.0" cy="663.5" r="3" fill="#2563eb" fill-opacity="0.3" stroke="#2563eb" stroke-opacity="0.3" stroke-width="1"/>
<circle cx="171.3" cy="667.0" r="3" fill="#2563eb" fill-opacity="0.3" stroke="#2563eb" stroke-opacity="0.3" stroke-width="1"/>
<circle cx="163.4" cy="665.7" r="3" fill="#2563eb" fill-opacity="0.3" stroke="#2563eb" stroke-opacity="0.3" stroke-width="1"/>
<circle cx="183.7" cy="667.4" r="3" fill="#2563eb" fill-opacity="0.3" stroke="#2563eb" stroke-opacity="0.3" stroke-width="1"/>
<circle cx="180.2" cy="683.6" r="3" fill="#2563eb" fill-opacity="0.3" stroke="#2563eb" stroke-opacity="0.3" stroke-width="1"/>
<circle cx="161.7" cy="681.6" r="3" fill="#2563eb" fill-opacity="0.3" stroke="#2563eb" stroke-opacity="0.3" stroke-width="1"/>
<circle cx="166.0" cy="682.3" r="3" fill="#2563eb" fill-opacity="0.3" stroke="#2563eb" stroke-opacity="0.3" stroke-width="1"/>
<circle cx="170.6" cy="665.6" r="3" fill="#2563eb" fill-opacity="0.3" stroke="#2563eb" stroke-opacity="0.3" stroke-width="1"/>
<circle cx="134.7" cy="680.5" r="3" fill="#2563eb" fill-opacity="0.3" stroke="#2563eb" stroke-opacity="0.3" stroke-width="1"/>
<circle cx="173.2" cy="666.4" r="3" fill="#2563eb" fill-opacity="0.3" stroke="#2563eb" stroke-opacity="0.3" stroke-width="1"/>
<circle cx="162.0" cy="678.8" r="3" fill="#2563eb" fill-opacity="0.3" stroke="#2563eb" stroke-opacity="0.3" stroke-width="1"/>
<circle cx="147.3" cy="664.8" r="3" fill="#2563eb" fill-opacity="0.3" stroke="#2563eb" stroke-opacity="0.3" stroke-width="1"/>
<circle cx="183.0" cy="667.3" r="3" fill="#2563eb" fill-opacity="0.3" stroke="#2563eb" stroke-opacity="0.3" stroke-width="1"/>
<circle cx="152.5" cy="667.1" r="3" fill="#2563eb" fill-opacity="0.3" stroke="#2563eb" stroke-opacity="0.3" stroke-width="1"/>
<circle cx="167.2" cy="677.1" r="3" fill="#2563eb" fill-opacity="0.3" stroke="#2563eb" stroke-opacity="0.3" stroke-width="1"/>
<circle cx="166.5" cy="674.3" r="3" fill="#2563eb" fill-opacity="0.3" stroke="#2563eb" stroke-opacity="0.3" stroke-width="1"/>
<circle cx="179.7" cy="680.9" r="3" fill="#2563eb" fill-opacity="0.3" stroke="#2563eb" stroke-opacity="0.3" stroke-width="1"/>
<circle cx="135.5" cy="664.5" r="3" fill="#2563eb" fill-opacity="0.3" stroke="#2563eb" stroke-opacity="0.3" stroke-width="1"/>
<circle cx="179.5" cy="681.9" r="3" fill="#2563eb" fill-opacity="0.3" stroke="#2563eb" stroke-opacity="0.3" stroke-width="1"/>
<circle cx="154.0" cy="670.1" r="3" fill="#2563eb" fill-opacity="0.3" stroke="#2563eb" stroke-opacity="0.3" stroke-width="1"/>
<circle cx="155.1" cy="677.0" r="3" fill="#2563eb" fill-opacity="0.3" stroke="#2563eb" stroke-opacity="0.3" stroke-width="1"/>
<circle cx="146.5" cy="664.6" r="3" fill="#2563eb" fill-opacity="0.3" stroke="#2563eb" stroke-opacity="0.3" stroke-width="1"/>
<circle cx="162.3" cy="668.8" r="3" fill="#2563eb" fill-opacity="0.3" stroke="#2563eb" stroke-opacity="0.3" stroke-width="1"/>
<circle cx="170.4" cy="665.9" r="3" fill="#2563eb" fill-opacity="0.3" stroke="#2563eb" stroke-opacity="0.3" stroke-width="1"/>
<circle cx="153.2" cy="683.1" r="3" fill="#2563eb" fill-opacity="0.3" stroke="#2563eb" stroke-opacity="0.3" stroke-width="1"/>
<circle cx="165.8" cy="674.5" r="3" fill="#2563eb" fill-opacity="0.3" stroke="#2563eb" stroke-opacity="0.3" stroke-width="1"/>
<circle cx="165.5" cy="679.4" r="3" fill="#2563eb" fill-opacity="0.3" stroke="#2563eb" stroke-opacity="0.3" stroke-width="1"/>
<circle cx="170.0" cy="673.4" r="3" fill="#2563eb" fill-opacity="0.3" stroke="#2563eb" stroke-opacity="0.3" stroke-width="1"/>
<circle cx="181.0" cy="662.7" r="3" fill="#2563eb" fill-opacity="0.3" stroke="#2563eb" stroke-opacity="0.3" stroke-width="1"/>
<circle cx="168.7" cy="681.6" r="3" fill="#2563eb" fill-opacity="0.3" stroke="#2563eb" stroke-opacity="0.3" stroke-width="1"/>
<circle cx="165.3" cy="666.6" r="3" fill="#2563eb" fill-opacity="0.3" stroke="#2563eb" stroke-opacity="0.3" stroke-width="1"/>
<circle cx="153.9" cy="662.8" r="3" fill="#2563eb" fill-opacity="0.3" stroke="#2563eb" stroke-opacity="0.3" stroke-width="1"/>
<circle cx="162.1" cy="666.9" r="3" fill="#2563eb" fill-opacity="0.3" stroke="#2563eb" stroke-opacity="0.3" stroke-width="1"/>
<circle cx="138.6" cy="667.6" r="3" fill="#2563eb" fill-opacity="0.3" stroke="#2563eb" stroke-opacity="0.3" stroke-width="1"/>
<circle cx="146.6" cy="679.3" r="3" fill="#2563eb" fill-opacity="0.3" stroke="#2563eb" stroke-opacity="0.3" stroke-width="1"/>
<circle cx="134.8" cy="674.3" r="3" fill="#2563eb" fill-opacity="0.3" stroke="#2563eb" stroke-opacity="0.3" stroke-width="1"/>
<circle cx="173.5" cy="674.4" r="3" fill="#2563eb" fill-opacity="0.3" stroke="#2563eb" stroke-opacity="0.3" stroke-width="1"/>
<circle cx="150.4" cy="679.2" r="3" fill="#2563eb" fill-opacity="0.3" stroke="#2563eb" stroke-opacity="0.3" stroke-width="1"/>
<circle cx="305.5" cy="539.4" r="3" fill="#2563eb" fill-opacity="0.3" stroke="#2563eb" stroke-opacity="0.3" stroke-width="1"/>
<circle cx="316.3" cy="540.3" r="3" fill="#2563eb" fill-opacity="0.3" stroke="#2563eb" stroke-opacity="0.3" stroke-width="1"/>
<circle cx="321.3" cy="549.2" r="3" fill="#2563eb" fill-opacity="0.3" stroke="#2563eb" stroke-opacity="0.3" stroke-width="1"/>
<circle cx="333.3" cy="545.2" r="3" fill="#2563eb" fill-opacity="0.3" stroke="#2563eb" stroke-opacity="0.3" stroke-width="1"/>
<circle cx="347.4" cy="523.1" r="3" fill="#2563eb" fill-opacity="0.3" stroke="#2563eb" stroke-opacity="0.3" stroke-width="1"/>
<circle cx="344.4" cy="562.4" r="3" fill="#2563eb" fill-opacity="0.3" stroke="#2563eb" stroke-opacity="0.3" stroke-width="1"/>
<circle cx="338.5" cy="598.3" r="3" fill="#2563eb" fill-opacity="0.3" stroke="#2563eb" stroke-opacity="0.3" stroke-width="1"/>
<circle cx="335.2" cy="607.4" r="3" fill="#2563eb" fill-opacity="0.3" stroke="#2563eb" stroke-opacity="0.3" stroke-width="1"/>
<circle cx="349.3" cy="628.4" r="3" fill="#2563eb" fill-opacity="0.3" stroke="#2563eb" stroke-opacity="0.3" stroke-width="1"/>
<circle cx="324.4" cy="640.4" r="3" fill="#2563eb" fill-opacity="0.3" stroke="#2563eb" stroke-opacity="0.3" stroke-width="1"/>
<circle cx="310.2" cy="649.2" r="3" fill="#2563eb" fill-opacity="0.3" stroke="#2563eb" stroke-opacity="0.3" stroke-width="1"/>
<circle cx="307.2" cy="653.4" r="3" fill="#2563eb" fill-opacity="0.3" stroke="#2563eb" stroke-opacity="0.3" stroke-width="1"/>
<circle cx="313.3" cy="656.2" r="3" fill="#2563eb" fill-opacity="0.3" stroke="#2563eb" stroke-opacity="0.3" stroke-width="1"/>
<circle cx="330.2" cy="651.3" r="3" fill="#2563eb" fill-opacity="0.3" stroke="#2563eb" stroke-opacity="0.3" stroke-width="1"/>
<circle cx="327.2" cy="661.4" r="3" fill="#2563eb" fill-opacity="0.3" stroke="#2563eb" stroke-opacity="0.3" stroke-width="1"/>
<circle cx="319.4" cy="667.5" r="3" fill="#2563eb" fill-opacity="0.3" stroke="#2563eb" stroke-opacity="0.3" stroke-width="1"/>
<circle cx="341.3" cy="664.2" r="3" fill="#2563eb" fill-opacity="0.3" stroke="#2563eb" stroke-opacity="0.3" stroke-width="1"/>
<circle cx="352.4" cy="670.1" r="3" fill="#2563eb" fill-opacity="0.3" stroke="#2563eb" stroke-opacity="0.3" stroke-width="1"/>
<circle cx="302.2" cy="678.4" r="3" fill="#2563eb" fill-opacity="0.3" stroke="#2563eb" stroke-opacity="0.3" stroke-width="1"/>
<circle cx="491.4" cy="189.3" r="3" fill="#2563eb" fill-opacity="0.3" stroke="#2563eb" stroke-opacity="0.3" stroke-width="1"/>
<circle cx="477.2" cy="288.3" r="3" fill="#2563eb" fill-opacity="0.3" stroke="#2563eb" stroke-opacity="0.3" stroke-width="1"/>
<circle cx="473.5" cy="316.4" r="3" fill="#2563eb" fill-opacity="0.3" stroke="#2563eb" stroke-opacity="0.3" stroke-width="1"/>
<circle cx="480.3" cy="321.3" r="3" fill="#2563eb" fill-opacity="0.3" stroke="#2563eb" stroke-opacity="0.3" stroke-width="1"/>
<circle cx="502.2" cy="367.3" r="3" fill="#2563eb" fill-opacity="0.3" stroke="#2563eb" stroke-opacity="0.3" stroke-width="1"/>
<circle cx="500.3" cy="376.3" r="3" fill="#2563eb" fill-opacity="0.3" stroke="#2563eb" stroke-opacity="0.3" stroke-width="1"/>
<circle cx="478.4" cy="381.2" r="3" fill="#2563eb" fill-opacity="0.3" stroke="#2563eb" stroke-opacity="0.3" stroke-width="1"/>
<circle cx="514.3" cy="395.4" r="3" fill="#2563eb" fill-opacity="0.3" stroke="#2563eb" stroke-opacity="0.3" stroke-width="1"/>
<circle cx="520.4" cy="451.2" r="3" fill="#2563eb" fill-opacity="0.3" stroke="#2563eb" stroke-opacity="0.3" stroke-width="1"/>
<circle cx="479.4" cy="457.1" r="3" fill="#2563eb" fill-opacity="0.3" stroke="#2563eb" stroke-opacity="0.3" stroke-width="1"/>
<circle cx="511.4" cy="478.3" r="3" fill="#2563eb" fill-opacity="0.3" stroke="#2563eb" stroke-opacity="0.3" stroke-width="1"/>
<circle cx="507.4" cy="491.3" r="3" fill="#2563eb" fill-opacity="0.3" stroke="#2563eb" stroke-opacity="0.3" stroke-width="1"/>
<circle cx="484.3" cy="496.3" r="3" fill="#2563eb" fill-opacity="0.3" stroke="#2563eb" stroke-opacity="0.3" stroke-width="1"/>
<circle cx="497.3" cy="499.3" r="3" fill="#2563eb" fill-opacity="0.3" stroke="#2563eb" stroke-opacity="0.3" stroke-width="1"/>
<circle cx="512.4" cy="512.3" r="3" fill="#2563eb" fill-opacity="0.3" stroke="#2563eb" stroke-opacity="0.3" stroke-width="1"/>
<circle cx="482.4" cy="521.5" r="3" fill="#2563eb" fill-opacity="0.3" stroke="#2563eb" stroke-opacity="0.3" stroke-width="1"/>
<circle cx="504.4" cy="529.3" r="3" fill="#2563eb" fill-opacity="0.3" stroke="#2563eb" stroke-opacity="0.3" stroke-width="1"/>
<circle cx="519.4" cy="537.3" r="3" fill="#2563eb" fill-opacity="0.3" stroke="#2563eb" stroke-opacity="0.3" stroke-width="1"/>
<circle cx="485.5" cy="543.2" r="3" fill="#2563eb" fill-opacity="0.3" stroke="#2563eb" stroke-opacity="0.3" stroke-width="1"/>
<circle cx="492.3" cy="539.6" r="3" fill="#2563eb" fill-opacity="0.3" stroke="#2563eb" stroke-opacity="0.3" stroke-width="1"/>
<circle cx="503.2" cy="542.2" r="3" fill="#2563eb" fill-opacity="0.3" stroke="#2563eb" stroke-opacity="0.3" stroke-width="1"/>
<circle cx="509.5" cy="543.2" r="3" fill="#2563eb" fill-opacity="0.3" stroke="#2563eb" stroke-opacity="0.3" stroke-width="1"/>
<circle cx="511.9" cy="551.0" r="3" fill="#2563eb" fill-opacity="0.3" stroke="#2563eb" stroke-opacity="0.3" stroke-width="1"/>
<circle cx="514.5" cy="552.1" r="3" fill="#2563eb" fill-opacity="0.3" stroke="#2563eb" stroke-opacity="0.3" stroke-width="1"/>
<circle cx="519.4" cy="550.2" r="3" fill="#2563eb" fill-opacity="0.3" stroke="#2563eb" stroke-opacity="0.3" stroke-width="1"/>
<circle cx="498.5" cy="554.5" r="3" fill="#2563eb" fill-opacity="0.3" stroke="#2563eb" stroke-opacity="0.3" stroke-width="1"/>
<circle cx="475.4" cy="559.9" r="3" fill="#2563eb" fill-opacity="0.3" stroke="#2563eb" stroke-opacity="0.3" stroke-width="1"/>
<circle cx="485.5" cy="559.9" r="3" fill="#2563eb" fill-opacity="0.3" stroke="#2563eb" stroke-opacity="0.3" stroke-width="1"/>
<circle cx="490.2" cy="557.5" r="3" fill="#2563eb" fill-opacity="0.3" stroke="#2563eb" stroke-opacity="0.3" stroke-width="1"/>
<circle cx="492.1" cy="568.0" r="3" fill="#2563eb" fill-opacity="0.3" stroke="#2563eb" stroke-opacity="0.3" stroke-width="1"/>
<circle cx="477.4" cy="575.0" r="3" fill="#2563eb" fill-opacity="0.3" stroke="#2563eb" stroke-opacity="0.3" stroke-width="1"/>
<circle cx="499.4" cy="576.3" r="3" fill="#2563eb" fill-opacity="0.3" stroke="#2563eb" stroke-opacity="0.3" stroke-width="1"/>
<circle cx="510.3" cy="577.1" r="3" fill="#2563eb" fill-opacity="0.3" stroke="#2563eb" stroke-opacity="0.3" stroke-width="1"/>
<circle cx="516.7" cy="575.3" r="3" fill="#2563eb" fill-opacity="0.3" stroke="#2563eb" stroke-opacity="0.3" stroke-width="1"/>
<circle cx="514.2" cy="580.5" r="3" fill="#2563eb" fill-opacity="0.3" stroke="#2563eb" stroke-opacity="0.3" stroke-width="1"/>
<circle cx="512.3" cy="584.9" r="3" fill="#2563eb" fill-opacity="0.3" stroke="#2563eb" stroke-opacity="0.3" stroke-width="1"/>
<circle cx="470.1" cy="586.7" r="3" fill="#2563eb" fill-opacity="0.3" stroke="#2563eb" stroke-opacity="0.3" stroke-width="1"/>
<circle cx="478.2" cy="593.2" r="3" fill="#2563eb" fill-opacity="0.3" stroke="#2563eb" stroke-opacity="0.3" stroke-width="1"/>
<circle cx="486.4" cy="591.9" r="3" fill="#2563eb" fill-opacity="0.3" stroke="#2563eb" stroke-opacity="0.3" stroke-width="1"/>
<circle cx="489.0" cy="593.2" r="3" fill="#2563eb" fill-opacity="0.3" stroke="#2563eb" stroke-opacity="0.3" stroke-width="1"/>
<circle cx="499.4" cy="594.7" r="3" fill="#2563eb" fill-opacity="0.3" stroke="#2563eb" stroke-opacity="0.3" stroke-width="1"/>
<circle cx="508.2" cy="590.8" r="3" fill="#2563eb" fill-opacity="0.3" stroke="#2563eb" stroke-opacity="0.3" stroke-width="1"/>
<circle cx="511.3" cy="593.9" r="3" fill="#2563eb" fill-opacity="0.3" stroke="#2563eb" stroke-opacity="0.3" stroke-width="1"/>
<circle cx="475.3" cy="597.8" r="3" fill="#2563eb" fill-opacity="0.3" stroke="#2563eb" stroke-opacity="0.3" stroke-width="1"/>
<circle cx="483.1" cy="598.3" r="3" fill="#2563eb" fill-opacity="0.3" stroke="#2563eb" stroke-opacity="0.3" stroke-width="1"/>
<circle cx="477.5" cy="599.4" r="3" fill="#2563eb" fill-opacity="0.3" stroke="#2563eb" stroke-opacity="0.3" stroke-width="1"/>
<circle cx="483.8" cy="600.4" r="3" fill="#2563eb" fill-opacity="0.3" stroke="#2563eb" stroke-opacity="0.3" stroke-width="1"/>
<circle cx="489.0" cy="618.5" r="3" fill="#2563eb" fill-opacity="0.3" stroke="#2563eb" stroke-opacity="0.3" stroke-width="1"/>
<circle cx="512.5" cy="625.4" r="3" fill="#2563eb" fill-opacity="0.3" stroke="#2563eb" stroke-opacity="0.3" stroke-width="1"/>
<circle cx="518.4" cy="619.4" r="3" fill="#2563eb" fill-opacity="0.3" stroke="#2563eb" stroke-opacity="0.3" stroke-width="1"/>
<circle cx="476.3" cy="612.5" r="3" fill="#2563eb" fill-opacity="0.3" stroke="#2563eb" stroke-opacity="0.3" stroke-width="1"/>
<circle cx="478.9" cy="615.8" r="3" fill="#2563eb" fill-opacity="0.3" stroke="#2563eb" stroke-opacity="0.3" stroke-width="1"/>
<circle cx="483.6" cy="635.6" r="3" fill="#2563eb" fill-opacity="0.3" stroke="#2563eb" stroke-opacity="0.3" stroke-width="1"/>
<circle cx="511.8" cy="621.2" r="3" fill="#2563eb" fill-opacity="0.3" stroke="#2563eb" stroke-opacity="0.3" stroke-width="1"/>
<circle cx="517.4" cy="638.6" r="3" fill="#2563eb" fill-opacity="0.3" stroke="#2563eb" stroke-opacity="0.3" stroke-width="1"/>
<circle cx="500.1" cy="620.5" r="3" fill="#2563eb" fill-opacity="0.3" stroke="#2563eb" stroke-opacity="0.3" stroke-width="1"/>
<circle cx="503.6" cy="604.4" r="3" fill="#2563eb" fill-opacity="0.3" stroke="#2563eb" stroke-opacity="0.3" stroke-width="1"/>
<circle cx="476.5" cy="614.9" r="3" fill="#2563eb" fill-opacity="0.3" stroke="#2563eb" stroke-opacity="0.3" stroke-width="1"/>
<circle cx="491.1" cy="613.1" r="3" fill="#2563eb" fill-opacity="0.3" stroke="#2563eb" stroke-opacity="0.3" stroke-width="1"/>
<circle cx="486.9" cy="618.3" r="3" fill="#2563eb" fill-opacity="0.3" stroke="#2563eb" stroke-opacity="0.3" stroke-width="1"/>
<circle cx="507.9" cy="633.4" r="3" fill="#2563eb" fill-opacity="0.3" stroke="#2563eb" stroke-opacity="0.3" stroke-width="1"/>
<circle cx="482.8" cy="634.4" r="3" fill="#2563eb" fill-opacity="0.3" stroke="#2563eb" stroke-opacity="0.3" stroke-width="1"/>
<circle cx="508.2" cy="623.1" r="3" fill="#2563eb" fill-opacity="0.3" stroke="#2563eb" stroke-opacity="0.3" stroke-width="1"/>
<circle cx="474.5" cy="613.9" r="3" fill="#2563eb" fill-opacity="0.3" stroke="#2563eb" stroke-opacity="0.3" stroke-width="1"/>
<circle cx="488.9" cy="636.0" r="3" fill="#2563eb" fill-opacity="0.3" stroke="#2563eb" stroke-opacity="0.3" stroke-width="1"/>
<circle cx="513.0" cy="627.8" r="3" fill="#2563eb" fill-opacity="0.3" stroke="#2563eb" stroke-opacity="0.3" stroke-width="1"/>
<circle cx="489.3" cy="609.3" r="3" fill="#2563eb" fill-opacity="0.3" stroke="#2563eb" stroke-opacity="0.3" stroke-width="1"/>
<circle cx="518.8" cy="618.1" r="3" fill="#2563eb" fill-opacity="0.3" stroke="#2563eb" stroke-opacity="0.3" stroke-width="1"/>
<circle cx="470.7" cy="628.4" r="3" fill="#2563eb" fill-opacity="0.3" stroke="#2563eb" stroke-opacity="0.3" stroke-width="1"/>
<circle cx="495.4" cy="614.0" r="3" fill="#2563eb" fill-opacity="0.3" stroke="#2563eb" stroke-opacity="0.3" stroke-width="1"/>
<circle cx="512.7" cy="635.1" r="3" fill="#2563eb" fill-opacity="0.3" stroke="#2563eb" stroke-opacity="0.3" stroke-width="1"/>
<circle cx="489.3" cy="605.2" r="3" fill="#2563eb" fill-opacity="0.3" stroke="#2563eb" stroke-opacity="0.3" stroke-width="1"/>
<circle cx="478.5" cy="631.0" r="3" fill="#2563eb" fill-opacity="0.3" stroke="#2563eb" stroke-opacity="0.3" stroke-width="1"/>
<circle cx="494.0" cy="601.3" r="3" fill="#2563eb" fill-opacity="0.3" stroke="#2563eb" stroke-opacity="0.3" stroke-width="1"/>
<circle cx="493.5" cy="633.8" r="3" fill="#2563eb" fill-opacity="0.3" stroke="#2563eb" stroke-opacity="0.3" stroke-width="1"/>
<circle cx="479.0" cy="623.2" r="3" fill="#2563eb" fill-opacity="0.3" stroke="#2563eb" stroke-opacity="0.3" stroke-width="1"/>
<circle cx="472.2" cy="602.9" r="3" fill="#2563eb" fill-opacity="0.3" stroke="#2563eb" stroke-opacity="0.3" stroke-width="1"/>
<circle cx="506.9" cy="621.1" r="3" fill="#2563eb" fill-opacity="0.3" stroke="#2563eb" stroke-opacity="0.3" stroke-width="1"/>
<circle cx="470.8" cy="618.9" r="3" fill="#2563eb" fill-opacity="0.3" stroke="#2563eb" stroke-opacity="0.3" stroke-width="1"/>
<circle cx="485.5" cy="625.7" r="3" fill="#2563eb" fill-opacity="0.3" stroke="#2563eb" stroke-opacity="0.3" stroke-width="1"/>
<circle cx="490.8" cy="631.7" r="3" fill="#2563eb" fill-opacity="0.3" stroke="#2563eb" stroke-opacity="0.3" stroke-width="1"/>
<circle cx="506.2" cy="627.9" r="3" fill="#2563eb" fill-opacity="0.3" stroke="#2563eb" stroke-opacity="0.3" stroke-width="1"/>
<circle cx="507.1" cy="621.5" r="3" fill="#2563eb" fill-opacity="0.3" stroke="#2563eb" stroke-opacity="0.3" stroke-width="1"/>
<circle cx="504.1" cy="610.8" r="3" fill="#2563eb" fill-opacity="0.3" stroke="#2563eb" stroke-opacity="0.3" stroke-width="1"/>
<circle cx="497.1" cy="631.4" r="3" fill="#2563eb" fill-opacity="0.3" stroke="#2563eb" stroke-opacity="0.3" stroke-width="1"/>
<circle cx="483.2" cy="638.2" r="3" fill="#2563eb" fill-opacity="0.3" stroke="#2563eb" stroke-opacity="0.3" stroke-width="1"/>
<circle cx="480.7" cy="606.2" r="3" fill="#2563eb" fill-opacity="0.3" stroke="#2563eb" stroke-opacity="0.3" stroke-width="1"/>
<circle cx="473.3" cy="613.0" r="3" fill="#2563eb" fill-opacity="0.3" stroke="#2563eb" stroke-opacity="0.3" stroke-width="1"/>
<circle cx="497.0" cy="626.5" r="3" fill="#2563eb" fill-opacity="0.3" stroke="#2563eb" stroke-opacity="0.3" stroke-width="1"/>
<circle cx="486.7" cy="608.8" r="3" fill="#2563eb" fill-opacity="0.3" stroke="#2563eb" stroke-opacity="0.3" stroke-width="1"/>
<circle cx="504.0" cy="629.0" r="3" fill="#2563eb" fill-opacity="0.3" stroke="#2563eb" stroke-opacity="0.3" stroke-width="1"/>
<circle cx="484.1" cy="614.9" r="3" fill="#2563eb" fill-opacity="0.3" stroke="#2563eb" stroke-opacity="0.3" stroke-width="1"/>
<circle cx="519.3" cy="662.2" r="3" fill="#2563eb" fill-opacity="0.3" stroke="#2563eb" stroke-opacity="0.3" stroke-width="1"/>
<circle cx="519.4" cy="643.8" r="3" fill="#2563eb" fill-opacity="0.3" stroke="#2563eb" stroke-opacity="0.3" stroke-width="1"/>
<circle cx="473.7" cy="644.1" r="3" fill="#2563eb" fill-opacity="0.3" stroke="#2563eb" stroke-opacity="0.3" stroke-width="1"/>
<circle cx="470.3" cy="651.5" r="3" fill="#2563eb" fill-opacity="0.3" stroke="#2563eb" stroke-opacity="0.3" stroke-width="1"/>
<circle cx="505.1" cy="655.4" r="3" fill="#2563eb" fill-opacity="0.3" stroke="#2563eb" stroke-opacity="0.3" stroke-width="1"/>
<circle cx="480.2" cy="651.0" r="3" fill="#2563eb" fill-opacity="0.3" stroke="#2563eb" stroke-opacity="0.3" stroke-width="1"/>
<circle cx="478.7" cy="644.7" r="3" fill="#2563eb" fill-opacity="0.3" stroke="#2563eb" stroke-opacity="0.3" stroke-width="1"/>
<circle cx="500.6" cy="644.7" r="3" fill="#2563eb" fill-opacity="0.3" stroke="#2563eb" stroke-opacity="0.3" stroke-width="1"/>
<circle cx="473.6" cy="657.6" r="3" fill="#2563eb" fill-opacity="0.3" stroke="#2563eb" stroke-opacity="0.3" stroke-width="1"/>
<circle cx="511.9" cy="648.9" r="3" fill="#2563eb" fill-opacity="0.3" stroke="#2563eb" stroke-opacity="0.3" stroke-width="1"/>
<circle cx="476.2" cy="648.3" r="3" fill="#2563eb" fill-opacity="0.3" stroke="#2563eb" stroke-opacity="0.3" stroke-width="1"/>
<circle cx="480.1" cy="647.0" r="3" fill="#2563eb" fill-opacity="0.3" stroke="#2563eb" stroke-opacity="0.3" stroke-width="1"/>
<circle cx="503.5" cy="639.3" r="3" fill="#2563eb" fill-opacity="0.3" stroke="#2563eb" stroke-opacity="0.3" stroke-width="1"/>
<circle cx="512.1" cy="660.5" r="3" fill="#2563eb" fill-opacity="0.3" stroke="#2563eb" stroke-opacity="0.3" stroke-width="1"/>
<circle cx="501.7" cy="641.0" r="3" fill="#2563eb" fill-opacity="0.3" stroke="#2563eb" stroke-opacity="0.3" stroke-width="1"/>
<circle cx="496.7" cy="661.0" r="3" fill="#2563eb" fill-opacity="0.3" stroke="#2563eb" stroke-opacity="0.3" stroke-width="1"/>
<circle cx="509.7" cy="645.7" r="3" fill="#2563eb" fill-opacity="0.3" stroke="#2563eb" stroke-opacity="0.3" stroke-width="1"/>
<circle cx="477.3" cy="660.3" r="3" fill="#2563eb" fill-opacity="0.3" stroke="#2563eb" stroke-opacity="0.3" stroke-width="1"/>
<circle cx="496.1" cy="644.0" r="3" fill="#2563eb" fill-opacity="0.3" stroke="#2563eb" stroke-opacity="0.3" stroke-width="1"/>
<circle cx="478.7" cy="658.0" r="3" fill="#2563eb" fill-opacity="0.3" stroke="#2563eb" stroke-opacity="0.3" stroke-width="1"/>
<circle cx="502.5" cy="654.1" r="3" fill="#2563eb" fill-opacity="0.3" stroke="#2563eb" stroke-opacity="0.3" stroke-width="1"/>
<circle cx="513.5" cy="651.4" r="3" fill="#2563eb" fill-opacity="0.3" stroke="#2563eb" stroke-opacity="0.3" stroke-width="1"/>
<circle cx="506.5" cy="657.9" r="3" fill="#2563eb" fill-opacity="0.3" stroke="#2563eb" stroke-opacity="0.3" stroke-width="1"/>
<circle cx="506.8" cy="658.7" r="3" fill="#2563eb" fill-opacity="0.3" stroke="#2563eb" stroke-opacity="0.3" stroke-width="1"/>
<circle cx="500.3" cy="640.5" r="3" fill="#2563eb" fill-opacity="0.3" stroke="#2563eb" stroke-opacity="0.3" stroke-width="1"/>
<circle cx="495.0" cy="649.3" r="3" fill="#2563eb" fill-opacity="0.3" stroke="#2563eb" stroke-opacity="0.3" stroke-width="1"/>
<circle cx="489.0" cy="657.1" r="3" fill="#2563eb" fill-opacity="0.3" stroke="#2563eb" stroke-opacity="0.3" stroke-width="1"/>
<circle cx="484.9" cy="644.5" r="3" fill="#2563eb" fill-opacity="0.3" stroke="#2563eb" stroke-opacity="0.3" stroke-width="1"/>
<circle cx="512.6" cy="654.1" r="3" fill="#2563eb" fill-opacity="0.3" stroke="#2563eb" stroke-opacity="0.3" stroke-width="1"/>
<circle cx="500.6" cy="662.1" r="3" fill="#2563eb" fill-opacity="0.3" stroke="#2563eb" stroke-opacity="0.3" stroke-width="1"/>
<circle cx="474.4" cy="652.0" r="3" fill="#2563eb" fill-opacity="0.3" stroke="#2563eb" stroke-opacity="0.3" stroke-width="1"/>
<circle cx="512.4" cy="659.8" r="3" fill="#2563eb" fill-opacity="0.3" stroke="#2563eb" stroke-opacity="0.3" stroke-width="1"/>
<circle cx="518.8" cy="658.0" r="3" fill="#2563eb" fill-opacity="0.3" stroke="#2563eb" stroke-opacity="0.3" stroke-width="1"/>
<circle cx="515.9" cy="639.3" r="3" fill="#2563eb" fill-opacity="0.3" stroke="#2563eb" stroke-opacity="0.3" stroke-width="1"/>
<circle cx="506.0" cy="642.6" r="3" fill="#2563eb" fill-opacity="0.3" stroke="#2563eb" stroke-opacity="0.3" stroke-width="1"/>
<circle cx="507.3" cy="650.0" r="3" fill="#2563eb" fill-opacity="0.3" stroke="#2563eb" stroke-opacity="0.3" stroke-width="1"/>
<circle cx="504.1" cy="640.5" r="3" fill="#2563eb" fill-opacity="0.3" stroke="#2563eb" stroke-opacity="0.3" stroke-width="1"/>
<circle cx="497.5" cy="644.8" r="3" fill="#2563eb" fill-opacity="0.3" stroke="#2563eb" stroke-opacity="0.3" stroke-width="1"/>
<circle cx="491.0" cy="648.9" r="3" fill="#2563eb" fill-opacity="0.3" stroke="#2563eb" stroke-opacity="0.3" stroke-width="1"/>
<circle cx="505.5" cy="642.6" r="3" fill="#2563eb" fill-opacity="0.3" stroke="#2563eb" stroke-opacity="0.3" stroke-width="1"/>
<circle cx="498.7" cy="640.9" r="3" fill="#2563eb" fill-opacity="0.3" stroke="#2563eb" stroke-opacity="0.3" stroke-width="1"/>
<circle cx="503.7" cy="639.3" r="3" fill="#2563eb" fill-opacity="0.3" stroke="#2563eb" stroke-opacity="0.3" stroke-width="1"/>
<circle cx="490.0" cy="649.6" r="3" fill="#2563eb" fill-opacity="0.3" stroke="#2563eb" stroke-opacity="0.3" stroke-width="1"/>
<circle cx="474.4" cy="642.2" r="3" fill="#2563eb" fill-opacity="0.3" stroke="#2563eb" stroke-opacity="0.3" stroke-width="1"/>
<circle cx="475.2" cy="648.2" r="3" fill="#2563eb" fill-opacity="0.3" stroke="#2563eb" stroke-opacity="0.3" stroke-width="1"/>
<circle cx="474.3" cy="639.0" r="3" fill="#2563eb" fill-opacity="0.3" stroke="#2563eb" stroke-opacity="0.3" stroke-width="1"/>
<circle cx="480.1" cy="667.2" r="3" fill="#2563eb" fill-opacity="0.3" stroke="#2563eb" stroke-opacity="0.3" stroke-width="1"/>
<circle cx="507.4" cy="663.2" r="3" fill="#2563eb" fill-opacity="0.3" stroke="#2563eb" stroke-opacity="0.3" stroke-width="1"/>
<circle cx="476.5" cy="667.4" r="3" fill="#2563eb" fill-opacity="0.3" stroke="#2563eb" stroke-opacity="0.3" stroke-width="1"/>
<circle cx="491.6" cy="681.2" r="3" fill="#2563eb" fill-opacity="0.3" stroke="#2563eb" stroke-opacity="0.3" stroke-width="1"/>
<circle cx="518.5" cy="671.4" r="3" fill="#2563eb" fill-opacity="0.3" stroke="#2563eb" stroke-opacity="0.3" stroke-width="1"/>
<circle cx="499.8" cy="667.0" r="3" fill="#2563eb" fill-opacity="0.3" stroke="#2563eb" stroke-opacity="0.3" stroke-width="1"/>
<circle cx="484.1" cy="677.5" r="3" fill="#2563eb" fill-opacity="0.3" stroke="#2563eb" stroke-opacity="0.3" stroke-width="1"/>
<circle cx="485.4" cy="667.2" r="3" fill="#2563eb" fill-opacity="0.3" stroke="#2563eb" stroke-opacity="0.3" stroke-width="1"/>
<circle cx="497.2" cy="673.3" r="3" fill="#2563eb" fill-opacity="0.3" stroke="#2563eb" stroke-opacity="0.3" stroke-width="1"/>
<circle cx="476.8" cy="669.2" r="3" fill="#2563eb" fill-opacity="0.3" stroke="#2563eb" stroke-opacity="0.3" stroke-width="1"/>
<circle cx="483.3" cy="667.0" r="3" fill="#2563eb" fill-opacity="0.3" stroke="#2563eb" stroke-opacity="0.3" stroke-width="1"/>
<circle cx="479.7" cy="667.9" r="3" fill="#2563eb" fill-opacity="0.3" stroke="#2563eb" stroke-opacity="0.3" stroke-width="1"/>
<circle cx="470.7" cy="664.1" r="3" fill="#2563eb" fill-opacity="0.3" stroke="#2563eb" stroke-opacity="0.3" stroke-width="1"/>
<circle cx="488.1" cy="667.8" r="3" fill="#2563eb" fill-opacity="0.3" stroke="#2563eb" stroke-opacity="0.3" stroke-width="1"/>
<circle cx="493.3" cy="676.6" r="3" fill="#2563eb" fill-opacity="0.3" stroke="#2563eb" stroke-opacity="0.3" stroke-width="1"/>
<circle cx="510.8" cy="663.9" r="3" fill="#2563eb" fill-opacity="0.3" stroke="#2563eb" stroke-opacity="0.3" stroke-width="1"/>
<circle cx="476.0" cy="666.6" r="3" fill="#2563eb" fill-opacity="0.3" stroke="#2563eb" stroke-opacity="0.3" stroke-width="1"/>
<circle cx="490.5" cy="674.6" r="3" fill="#2563eb" fill-opacity="0.3" stroke="#2563eb" stroke-opacity="0.3" stroke-width="1"/>
<circle cx="516.9" cy="670.2" r="3" fill="#2563eb" fill-opacity="0.3" stroke="#2563eb" stroke-opacity="0.3" stroke-width="1"/>
<circle cx="488.1" cy="679.7" r="3" fill="#2563eb" fill-opacity="0.3" stroke="#2563eb" stroke-opacity="0.3" stroke-width="1"/>
<circle cx="503.2" cy="670.1" r="3" fill="#2563eb" fill-opacity="0.3" stroke="#2563eb" stroke-opacity="0.3" stroke-width="1"/>
<circle cx="482.2" cy="665.5" r="3" fill="#2563eb" fill-opacity="0.3" stroke="#2563eb" stroke-opacity="0.3" stroke-width="1"/>
<circle cx="479.6" cy="663.2" r="3" fill="#2563eb" fill-opacity="0.3" stroke="#2563eb" stroke-opacity="0.3" stroke-width="1"/>
<circle cx="506.1" cy="674.3" r="3" fill="#2563eb" fill-opacity="0.3" stroke="#2563eb" stroke-opacity="0.3" stroke-width="1"/>
<circle cx="481.9" cy="675.5" r="3" fill="#2563eb" fill-opacity="0.3" stroke="#2563eb" stroke-opacity="0.3" stroke-width="1"/>
<circle cx="484.2" cy="682.6" r="3" fill="#2563eb" fill-opacity="0.3" stroke="#2563eb" stroke-opacity="0.3" stroke-width="1"/>
<circle cx="476.7" cy="668.3" r="3" fill="#2563eb" fill-opacity="0.3" stroke="#2563eb" stroke-opacity="0.3" stroke-width="1"/>
<circle cx="487.2" cy="683.3" r="3" fill="#2563eb" fill-opacity="0.3" stroke="#2563eb" stroke-opacity="0.3" stroke-width="1"/>
<circle cx="500.4" cy="663.7" r="3" fill="#2563eb" fill-opacity="0.3" stroke="#2563eb" stroke-opacity="0.3" stroke-width="1"/>
<circle cx="470.1" cy="675.8" r="3" fill="#2563eb" fill-opacity="0.3" stroke="#2563eb" stroke-opacity="0.3" stroke-width="1"/>
<circle cx="508.9" cy="663.0" r="3" fill="#2563eb" fill-opacity="0.3" stroke="#2563eb" stroke-opacity="0.3" stroke-width="1"/>
<circle cx="493.5" cy="672.0" r="3" fill="#2563eb" fill-opacity="0.3" stroke="#2563eb" stroke-opacity="0.3" stroke-width="1"/>
<circle cx="480.5" cy="667.0" r="3" fill="#2563eb" fill-opacity="0.3" stroke="#2563eb" stroke-opacity="0.3" stroke-width="1"/>
<circle cx="492.5" cy="674.5" r="3" fill="#2563eb" fill-opacity="0.3" stroke="#2563eb" stroke-opacity="0.3" stroke-width="1"/>
<circle cx="497.4" cy="676.4" r="3" fill="#2563eb" fill-opacity="0.3" stroke="#2563eb" stroke-opacity="0.3" stroke-width="1"/>
<circle cx="512.1" cy="672.6" r="3" fill="#2563eb" fill-opacity="0.3" stroke="#2563eb" stroke-opacity="0.3" stroke-width="1"/>
<circle cx="475.8" cy="664.7" r="3" fill="#2563eb" fill-opacity="0.3" stroke="#2563eb" stroke-opacity="0.3" stroke-width="1"/>
<circle cx="512.1" cy="678.8" r="3" fill="#2563eb" fill-opacity="0.3" stroke="#2563eb" stroke-opacity="0.3" stroke-width="1"/>
<circle cx="512.2" cy="664.4" r="3" fill="#2563eb" fill-opacity="0.3" stroke="#2563eb" stroke-opacity="0.3" stroke-width="1"/>
<circle cx="513.5" cy="678.9" r="3" fill="#2563eb" fill-opacity="0.3" stroke="#2563eb" stroke-opacity="0.3" stroke-width="1"/>
<circle cx="474.7" cy="672.7" r="3" fill="#2563eb" fill-opacity="0.3" stroke="#2563eb" stroke-opacity="0.3" stroke-width="1"/>
<circle cx="514.9" cy="666.9" r="3" fill="#2563eb" fill-opacity="0.3" stroke="#2563eb" stroke-opacity="0.3" stroke-width="1"/>
<circle cx="499.2" cy="674.7" r="3" fill="#2563eb" fill-opacity="0.3" stroke="#2563eb" stroke-opacity="0.3" stroke-width="1"/>
<circle cx="498.7" cy="669.5" r="3" fill="#2563eb" fill-opacity="0.3" stroke="#2563eb" stroke-opacity="0.3" stroke-width="1"/>
<circle cx="517.8" cy="672.7" r="3" fill="#2563eb" fill-opacity="0.3" stroke="#2563eb" stroke-opacity="0.3" stroke-width="1"/>
<circle cx="504.6" cy="678.3" r="3" fill="#2563eb" fill-opacity="0.3" stroke="#2563eb" stroke-opacity="0.3" stroke-width="1"/>
<circle cx="682.2" cy="111.4" r="3" fill="#2563eb" fill-opacity="0.3" stroke="#2563eb" stroke-opacity="0.3" stroke-width="1"/>
<circle cx="639.3" cy="121.3" r="3" fill="#2563eb" fill-opacity="0.3" stroke="#2563eb" stroke-opacity="0.3" stroke-width="1"/>
<circle cx="687.4" cy="170.3" r="3" fill="#2563eb" fill-opacity="0.3" stroke="#2563eb" stroke-opacity="0.3" stroke-width="1"/>
<circle cx="639.3" cy="275.4" r="3" fill="#2563eb" fill-opacity="0.3" stroke="#2563eb" stroke-opacity="0.3" stroke-width="1"/>
<circle cx="656.3" cy="381.3" r="3" fill="#2563eb" fill-opacity="0.3" stroke="#2563eb" stroke-opacity="0.3" stroke-width="1"/>
<circle cx="681.3" cy="396.1" r="3" fill="#2563eb" fill-opacity="0.3" stroke="#2563eb" stroke-opacity="0.3" stroke-width="1"/>
<circle cx="648.3" cy="417.1" r="3" fill="#2563eb" fill-opacity="0.3" stroke="#2563eb" stroke-opacity="0.3" stroke-width="1"/>
<circle cx="665.2" cy="437.1" r="3" fill="#2563eb" fill-opacity="0.3" stroke="#2563eb" stroke-opacity="0.3" stroke-width="1"/>
<circle cx="667.6" cy="438.3" r="3" fill="#2563eb" fill-opacity="0.3" stroke="#2563eb" stroke-opacity="0.3" stroke-width="1"/>
<circle cx="685.3" cy="436.1" r="3" fill="#2563eb" fill-opacity="0.3" stroke="#2563eb" stroke-opacity="0.3" stroke-width="1"/>
<circle cx="642.4" cy="448.2" r="3" fill="#2563eb" fill-opacity="0.3" stroke="#2563eb" stroke-opacity="0.3" stroke-width="1"/>
<circle cx="643.3" cy="449.1" r="3" fill="#2563eb" fill-opacity="0.3" stroke="#2563eb" stroke-opacity="0.3" stroke-width="1"/>
<circle cx="666.4" cy="458.0" r="3" fill="#2563eb" fill-opacity="0.3" stroke="#2563eb" stroke-opacity="0.3" stroke-width="1"/>
<circle cx="654.4" cy="471.2" r="3" fill="#2563eb" fill-opacity="0.3" stroke="#2563eb" stroke-opacity="0.3" stroke-width="1"/>
<circle cx="651.1" cy="475.0" r="3" fill="#2563eb" fill-opacity="0.3" stroke="#2563eb" stroke-opacity="0.3" stroke-width="1"/>
<circle cx="664.1" cy="472.6" r="3" fill="#2563eb" fill-opacity="0.3" stroke="#2563eb" stroke-opacity="0.3" stroke-width="1"/>
<circle cx="685.3" cy="479.7" r="3" fill="#2563eb" fill-opacity="0.3" stroke="#2563eb" stroke-opacity="0.3" stroke-width="1"/>
<circle cx="669.6" cy="483.2" r="3" fill="#2563eb" fill-opacity="0.3" stroke="#2563eb" stroke-opacity="0.3" stroke-width="1"/>
<circle cx="652.1" cy="486.0" r="3" fill="#2563eb" fill-opacity="0.3" stroke="#2563eb" stroke-opacity="0.3" stroke-width="1"/>
<circle cx="655.8" cy="488.1" r="3" fill="#2563eb" fill-opacity="0.3" stroke="#2563eb" stroke-opacity="0.3" stroke-width="1"/>
<circle cx="660.4" cy="490.0" r="3" fill="#2563eb" fill-opacity="0.3" stroke="#2563eb" stroke-opacity="0.3" stroke-width="1"/>
<circle cx="683.4" cy="501.3" r="3" fill="#2563eb" fill-opacity="0.3" stroke="#2563eb" stroke-opacity="0.3" stroke-width="1"/>
<circle cx="673.0" cy="497.3" r="3" fill="#2563eb" fill-opacity="0.3" stroke="#2563eb" stroke-opacity="0.3" stroke-width="1"/>
<circle cx="670.2" cy="508.1" r="3" fill="#2563eb" fill-opacity="0.3" stroke="#2563eb" stroke-opacity="0.3" stroke-width="1"/>
<circle cx="639.2" cy="518.2" r="3" fill="#2563eb" fill-opacity="0.3" stroke="#2563eb" stroke-opacity="0.3" stroke-width="1"/>
<circle cx="684.3" cy="519.4" r="3" fill="#2563eb" fill-opacity="0.3" stroke="#2563eb" stroke-opacity="0.3" stroke-width="1"/>
<circle cx="684.3" cy="531.0" r="3" fill="#2563eb" fill-opacity="0.3" stroke="#2563eb" stroke-opacity="0.3" stroke-width="1"/>
<circle cx="688.0" cy="531.0" r="3" fill="#2563eb" fill-opacity="0.3" stroke="#2563eb" stroke-opacity="0.3" stroke-width="1"/>
<circle cx="663.2" cy="538.4" r="3" fill="#2563eb" fill-opacity="0.3" stroke="#2563eb" stroke-opacity="0.3" stroke-width="1"/>
<circle cx="687.1" cy="548.2" r="3" fill="#2563eb" fill-opacity="0.3" stroke="#2563eb" stroke-opacity="0.3" stroke-width="1"/>
<circle cx="640.2" cy="552.2" r="3" fill="#2563eb" fill-opacity="0.3" stroke="#2563eb" stroke-opacity="0.3" stroke-width="1"/>
<circle cx="646.6" cy="552.5" r="3" fill="#2563eb" fill-opacity="0.3" stroke="#2563eb" stroke-opacity="0.3" stroke-width="1"/>
<circle cx="655.5" cy="551.0" r="3" fill="#2563eb" fill-opacity="0.3" stroke="#2563eb" stroke-opacity="0.3" stroke-width="1"/>
<circle cx="664.1" cy="551.0" r="3" fill="#2563eb" fill-opacity="0.3" stroke="#2563eb" stroke-opacity="0.3" stroke-width="1"/>
<circle cx="674.5" cy="558.0" r="3" fill="#2563eb" fill-opacity="0.3" stroke="#2563eb" stroke-opacity="0.3" stroke-width="1"/>
<circle cx="660.1" cy="559.3" r="3" fill="#2563eb" fill-opacity="0.3" stroke="#2563eb" stroke-opacity="0.3" stroke-width="1"/>
<circle cx="653.3" cy="563.5" r="3" fill="#2563eb" fill-opacity="0.3" stroke="#2563eb" stroke-opacity="0.3" stroke-width="1"/>
<circle cx="650.9" cy="566.6" r="3" fill="#2563eb" fill-opacity="0.3" stroke="#2563eb" stroke-opacity="0.3" stroke-width="1"/>
<circle cx="685.2" cy="565.4" r="3" fill="#2563eb" fill-opacity="0.3" stroke="#2563eb" stroke-opacity="0.3" stroke-width="1"/>
<circle cx="638.3" cy="571.2" r="3" fill="#2563eb" fill-opacity="0.3" stroke="#2563eb" stroke-opacity="0.3" stroke-width="1"/>
<circle cx="648.7" cy="568.8" r="3" fill="#2563eb" fill-opacity="0.3" stroke="#2563eb" stroke-opacity="0.3" stroke-width="1"/>
<circle cx="676.0" cy="571.2" r="3" fill="#2563eb" fill-opacity="0.3" stroke="#2563eb" stroke-opacity="0.3" stroke-width="1"/>
<circle cx="655.5" cy="575.8" r="3" fill="#2563eb" fill-opacity="0.3" stroke="#2563eb" stroke-opacity="0.3" stroke-width="1"/>
<circle cx="669.6" cy="577.3" r="3" fill="#2563eb" fill-opacity="0.3" stroke="#2563eb" stroke-opacity="0.3" stroke-width="1"/>
<circle cx="684.9" cy="576.7" r="3" fill="#2563eb" fill-opacity="0.3" stroke="#2563eb" stroke-opacity="0.3" stroke-width="1"/>
<circle cx="656.1" cy="582.9" r="3" fill="#2563eb" fill-opacity="0.3" stroke="#2563eb" stroke-opacity="0.3" stroke-width="1"/>
<circle cx="660.1" cy="581.0" r="3" fill="#2563eb" fill-opacity="0.3" stroke="#2563eb" stroke-opacity="0.3" stroke-width="1"/>
<circle cx="680.2" cy="600.7" r="3" fill="#2563eb" fill-opacity="0.3" stroke="#2563eb" stroke-opacity="0.3" stroke-width="1"/>
<circle cx="664.4" cy="602.2" r="3" fill="#2563eb" fill-opacity="0.3" stroke="#2563eb" stroke-opacity="0.3" stroke-width="1"/>
<circle cx="659.5" cy="599.7" r="3" fill="#2563eb" fill-opacity="0.3" stroke="#2563eb" stroke-opacity="0.3" stroke-width="1"/>
<circle cx="654.3" cy="598.9" r="3" fill="#2563eb" fill-opacity="0.3" stroke="#2563eb" stroke-opacity="0.3" stroke-width="1"/>
<circle cx="671.3" cy="615.5" r="3" fill="#2563eb" fill-opacity="0.3" stroke="#2563eb" stroke-opacity="0.3" stroke-width="1"/>
<circle cx="652.2" cy="596.4" r="3" fill="#2563eb" fill-opacity="0.3" stroke="#2563eb" stroke-opacity="0.3" stroke-width="1"/>
<circle cx="657.0" cy="597.8" r="3" fill="#2563eb" fill-opacity="0.3" stroke="#2563eb" stroke-opacity="0.3" stroke-width="1"/>
<circle cx="656.3" cy="588.5" r="3" fill="#2563eb" fill-opacity="0.3" stroke="#2563eb" stroke-opacity="0.3" stroke-width="1"/>
<circle cx="648.2" cy="626.7" r="3" fill="#2563eb" fill-opacity="0.3" stroke="#2563eb" stroke-opacity="0.3" stroke-width="1"/>
<circle cx="664.0" cy="626.3" r="3" fill="#2563eb" fill-opacity="0.3" stroke="#2563eb" stroke-opacity="0.3" stroke-width="1"/>
<circle cx="674.3" cy="622.0" r="3" fill="#2563eb" fill-opacity="0.3" stroke="#2563eb" stroke-opacity="0.3" stroke-width="1"/>
<circle cx="657.6" cy="635.0" r="3" fill="#2563eb" fill-opacity="0.3" stroke="#2563eb" stroke-opacity="0.3" stroke-width="1"/>
<circle cx="675.1" cy="617.4" r="3" fill="#2563eb" fill-opacity="0.3" stroke="#2563eb" stroke-opacity="0.3" stroke-width="1"/>
<circle cx="639.3" cy="632.2" r="3" fill="#2563eb" fill-opacity="0.3" stroke="#2563eb" stroke-opacity="0.3" stroke-width="1"/>
<circle cx="645.1" cy="606.2" r="3" fill="#2563eb" fill-opacity="0.3" stroke="#2563eb" stroke-opacity="0.3" stroke-width="1"/>
<circle cx="648.3" cy="592.2" r="3" fill="#2563eb" fill-opacity="0.3" stroke="#2563eb" stroke-opacity="0.3" stroke-width="1"/>
<circle cx="655.1" cy="599.0" r="3" fill="#2563eb" fill-opacity="0.3" stroke="#2563eb" stroke-opacity="0.3" stroke-width="1"/>
<circle cx="679.6" cy="631.2" r="3" fill="#2563eb" fill-opacity="0.3" stroke="#2563eb" stroke-opacity="0.3" stroke-width="1"/>
<circle cx="662.1" cy="611.3" r="3" fill="#2563eb" fill-opacity="0.3" stroke="#2563eb" stroke-opacity="0.3" stroke-width="1"/>
<circle cx="648.5" cy="589.2" r="3" fill="#2563eb" fill-opacity="0.3" stroke="#2563eb" stroke-opacity="0.3" stroke-width="1"/>
<circle cx="660.5" cy="628.1" r="3" fill="#2563eb" fill-opacity="0.3" stroke="#2563eb" stroke-opacity="0.3" stroke-width="1"/>
<circle cx="651.5" cy="634.9" r="3" fill="#2563eb" fill-opacity="0.3" stroke="#2563eb" stroke-opacity="0.3" stroke-width="1"/>
<circle cx="640.5" cy="591.8" r="3" fill="#2563eb" fill-opacity="0.3" stroke="#2563eb" stroke-opacity="0.3" stroke-width="1"/>
<circle cx="682.6" cy="624.8" r="3" fill="#2563eb" fill-opacity="0.3" stroke="#2563eb" stroke-opacity="0.3" stroke-width="1"/>
<circle cx="652.9" cy="627.9" r="3" fill="#2563eb" fill-opacity="0.3" stroke="#2563eb" stroke-opacity="0.3" stroke-width="1"/>
<circle cx="658.5" cy="596.6" r="3" fill="#2563eb" fill-opacity="0.3" stroke="#2563eb" stroke-opacity="0.3" stroke-width="1"/>
<circle cx="650.0" cy="608.7" r="3" fill="#2563eb" fill-opacity="0.3" stroke="#2563eb" stroke-opacity="0.3" stroke-width="1"/>
<circle cx="656.7" cy="605.0" r="3" fill="#2563eb" fill-opacity="0.3" stroke="#2563eb" stroke-opacity="0.3" stroke-width="1"/>
<circle cx="648.2" cy="590.0" r="3" fill="#2563eb" fill-opacity="0.3" stroke="#2563eb" stroke-opacity="0.3" stroke-width="1"/>
<circle cx="665.4" cy="619.0" r="3" fill="#2563eb" fill-opacity="0.3" stroke="#2563eb" stroke-opacity="0.3" stroke-width="1"/>
<circle cx="683.0" cy="629.3" r="3" fill="#2563eb" fill-opacity="0.3" stroke="#2563eb" stroke-opacity="0.3" stroke-width="1"/>
<circle cx="685.6" cy="597.2" r="3" fill="#2563eb" fill-opacity="0.3" stroke="#2563eb" stroke-opacity="0.3" stroke-width="1"/>
<circle cx="643.9" cy="621.2" r="3" fill="#2563eb" fill-opacity="0.3" stroke="#2563eb" stroke-opacity="0.3" stroke-width="1"/>
<circle cx="677.2" cy="592.8" r="3" fill="#2563eb" fill-opacity="0.3" stroke="#2563eb" stroke-opacity="0.3" stroke-width="1"/>
<circle cx="649.3" cy="612.7" r="3" fill="#2563eb" fill-opacity="0.3" stroke="#2563eb" stroke-opacity="0.3" stroke-width="1"/>
<circle cx="649.9" cy="614.2" r="3" fill="#2563eb" fill-opacity="0.3" stroke="#2563eb" stroke-opacity="0.3" stroke-width="1"/>
<circle cx="647.9" cy="594.0" r="3" fill="#2563eb" fill-opacity="0.3" stroke="#2563eb" stroke-opacity="0.3" stroke-width="1"/>
<circle cx="648.3" cy="606.7" r="3" fill="#2563eb" fill-opacity="0.3" stroke="#2563eb" stroke-opacity="0.3" stroke-width="1"/>
<circle cx="645.0" cy="591.6" r="3" fill="#2563eb" fill-opacity="0.3" stroke="#2563eb" stroke-opacity="0.3" stroke-width="1"/>
<circle cx="659.4" cy="607.4" r="3" fill="#2563eb" fill-opacity="0.3" stroke="#2563eb" stroke-opacity="0.3" stroke-width="1"/>
<circle cx="677.0" cy="604.9" r="3" fill="#2563eb" fill-opacity="0.3" stroke="#2563eb" stroke-opacity="0.3" stroke-width="1"/>
<circle cx="685.7" cy="588.1" r="3" fill="#2563eb" fill-opacity="0.3" stroke="#2563eb" stroke-opacity="0.3" stroke-width="1"/>
<circle cx="685.3" cy="595.9" r="3" fill="#2563eb" fill-opacity="0.3" stroke="#2563eb" stroke-opacity="0.3" stroke-width="1"/>
<circle cx="685.1" cy="603.2" r="3" fill="#2563eb" fill-opacity="0.3" stroke="#2563eb" stroke-opacity="0.3" stroke-width="1"/>
<circle cx="671.2" cy="617.7" r="3" fill="#2563eb" fill-opacity="0.3" stroke="#2563eb" stroke-opacity="0.3" stroke-width="1"/>
<circle cx="646.0" cy="591.8" r="3" fill="#2563eb" fill-opacity="0.3" stroke="#2563eb" stroke-opacity="0.3" stroke-width="1"/>
<circle cx="666.7" cy="615.5" r="3" fill="#2563eb" fill-opacity="0.3" stroke="#2563eb" stroke-opacity="0.3" stroke-width="1"/>
<circle cx="675.1" cy="594.9" r="3" fill="#2563eb" fill-opacity="0.3" stroke="#2563eb" stroke-opacity="0.3" stroke-width="1"/>
<circle cx="684.8" cy="646.2" r="3" fill="#2563eb" fill-opacity="0.3" stroke="#2563eb" stroke-opacity="0.3" stroke-width="1"/>
<circle cx="660.7" cy="650.2" r="3" fill="#2563eb" fill-opacity="0.3" stroke="#2563eb" stroke-opacity="0.3" stroke-width="1"/>
<circle cx="642.2" cy="646.4" r="3" fill="#2563eb" fill-opacity="0.3" stroke="#2563eb" stroke-opacity="0.3" stroke-width="1"/>
<circle cx="670.0" cy="653.3" r="3" fill="#2563eb" fill-opacity="0.3" stroke="#2563eb" stroke-opacity="0.3" stroke-width="1"/>
<circle cx="670.4" cy="659.5" r="3" fill="#2563eb" fill-opacity="0.3" stroke="#2563eb" stroke-opacity="0.3" stroke-width="1"/>
<circle cx="651.4" cy="656.6" r="3" fill="#2563eb" fill-opacity="0.3" stroke="#2563eb" stroke-opacity="0.3" stroke-width="1"/>
<circle cx="668.3" cy="653.1" r="3" fill="#2563eb" fill-opacity="0.3" stroke="#2563eb" stroke-opacity="0.3" stroke-width="1"/>
<circle cx="647.1" cy="643.3" r="3" fill="#2563eb" fill-opacity="0.3" stroke="#2563eb" stroke-opacity="0.3" stroke-width="1"/>
<circle cx="650.2" cy="637.5" r="3" fill="#2563eb" fill-opacity="0.3" stroke="#2563eb" stroke-opacity="0.3" stroke-width="1"/>
<circle cx="640.4" cy="660.3" r="3" fill="#2563eb" fill-opacity="0.3" stroke="#2563eb" stroke-opacity="0.3" stroke-width="1"/>
<circle cx="664.7" cy="644.0" r="3" fill="#2563eb" fill-opacity="0.3" stroke="#2563eb" stroke-opacity="0.3" stroke-width="1"/>
<circle cx="638.4" cy="639.3" r="3" fill="#2563eb" fill-opacity="0.3" stroke="#2563eb" stroke-opacity="0.3" stroke-width="1"/>
<circle cx="684.3" cy="651.6" r="3" fill="#2563eb" fill-opacity="0.3" stroke="#2563eb" stroke-opacity="0.3" stroke-width="1"/>
<circle cx="639.1" cy="657.4" r="3" fill="#2563eb" fill-opacity="0.3" stroke="#2563eb" stroke-opacity="0.3" stroke-width="1"/>
<circle cx="663.6" cy="636.5" r="3" fill="#2563eb" fill-opacity="0.3" stroke="#2563eb" stroke-opacity="0.3" stroke-width="1"/>
<circle cx="685.3" cy="638.4" r="3" fill="#2563eb" fill-opacity="0.3" stroke="#2563eb" stroke-opacity="0.3" stroke-width="1"/>
<circle cx="652.8" cy="646.0" r="3" fill="#2563eb" fill-opacity="0.3" stroke="#2563eb" stroke-opacity="0.3" stroke-width="1"/>
<circle cx="656.0" cy="647.0" r="3" fill="#2563eb" fill-opacity="0.3" stroke="#2563eb" stroke-opacity="0.3" stroke-width="1"/>
<circle cx="686.4" cy="648.9" r="3" fill="#2563eb" fill-opacity="0.3" stroke="#2563eb" stroke-opacity="0.3" stroke-width="1"/>
<circle cx="654.4" cy="641.5" r="3" fill="#2563eb" fill-opacity="0.3" stroke="#2563eb" stroke-opacity="0.3" stroke-width="1"/>
<circle cx="654.8" cy="650.2" r="3" fill="#2563eb" fill-opacity="0.3" stroke="#2563eb" stroke-opacity="0.3" stroke-width="1"/>
<circle cx="646.2" cy="644.9" r="3" fill="#2563eb" fill-opacity="0.3" stroke="#2563eb" stroke-opacity="0.3" stroke-width="1"/>
<circle cx="668.3" cy="638.3" r="3" fill="#2563eb" fill-opacity="0.3" stroke="#2563eb" stroke-opacity="0.3" stroke-width="1"/>
<circle cx="643.6" cy="657.0" r="3" fill="#2563eb" fill-opacity="0.3" stroke="#2563eb" stroke-opacity="0.3" stroke-width="1"/>
<circle cx="649.4" cy="643.5" r="3" fill="#2563eb" fill-opacity="0.3" stroke="#2563eb" stroke-opacity="0.3" stroke-width="1"/>
<circle cx="673.8" cy="641.3" r="3" fill="#2563eb" fill-opacity="0.3" stroke="#2563eb" stroke-opacity="0.3" stroke-width="1"/>
<circle cx="643.7" cy="660.3" r="3" fill="#2563eb" fill-opacity="0.3" stroke="#2563eb" stroke-opacity="0.3" stroke-width="1"/>
<circle cx="655.3" cy="650.9" r="3" fill="#2563eb" fill-opacity="0.3" stroke="#2563eb" stroke-opacity="0.3" stroke-width="1"/>
<circle cx="684.3" cy="645.2" r="3" fill="#2563eb" fill-opacity="0.3" stroke="#2563eb" stroke-opacity="0.3" stroke-width="1"/>
<circle cx="673.3" cy="661.3" r="3" fill="#2563eb" fill-opacity="0.3" stroke="#2563eb" stroke-opacity="0.3" stroke-width="1"/>
<circle cx="673.0" cy="655.4" r="3" fill="#2563eb" fill-opacity="0.3" stroke="#2563eb" stroke-opacity="0.3" stroke-width="1"/>
<circle cx="651.2" cy="636.1" r="3" fill="#2563eb" fill-opacity="0.3" stroke="#2563eb" stroke-opacity="0.3" stroke-width="1"/>
<circle cx="640.2" cy="656.0" r="3" fill="#2563eb" fill-opacity="0.3" stroke="#2563eb" stroke-opacity="0.3" stroke-width="1"/>
<circle cx="660.5" cy="640.6" r="3" fill="#2563eb" fill-opacity="0.3" stroke="#2563eb" stroke-opacity="0.3" stroke-width="1"/>
<circle cx="675.3" cy="653.1" r="3" fill="#2563eb" fill-opacity="0.3" stroke="#2563eb" stroke-opacity="0.3" stroke-width="1"/>
<circle cx="649.7" cy="637.1" r="3" fill="#2563eb" fill-opacity="0.3" stroke="#2563eb" stroke-opacity="0.3" stroke-width="1"/>
<circle cx="655.0" cy="641.9" r="3" fill="#2563eb" fill-opacity="0.3" stroke="#2563eb" stroke-opacity="0.3" stroke-width="1"/>
<circle cx="681.0" cy="654.6" r="3" fill="#2563eb" fill-opacity="0.3" stroke="#2563eb" stroke-opacity="0.3" stroke-width="1"/>
<circle cx="639.2" cy="637.6" r="3" fill="#2563eb" fill-opacity="0.3" stroke="#2563eb" stroke-opacity="0.3" stroke-width="1"/>
<circle cx="678.3" cy="659.4" r="3" fill="#2563eb" fill-opacity="0.3" stroke="#2563eb" stroke-opacity="0.3" stroke-width="1"/>
<circle cx="683.8" cy="647.5" r="3" fill="#2563eb" fill-opacity="0.3" stroke="#2563eb" stroke-opacity="0.3" stroke-width="1"/>
<circle cx="674.8" cy="641.7" r="3" fill="#2563eb" fill-opacity="0.3" stroke="#2563eb" stroke-opacity="0.3" stroke-width="1"/>
<circle cx="664.1" cy="637.3" r="3" fill="#2563eb" fill-opacity="0.3" stroke="#2563eb" stroke-opacity="0.3" stroke-width="1"/>
<circle cx="650.0" cy="639.1" r="3" fill="#2563eb" fill-opacity="0.3" stroke="#2563eb" stroke-opacity="0.3" stroke-width="1"/>
<circle cx="686.4" cy="656.0" r="3" fill="#2563eb" fill-opacity="0.3" stroke="#2563eb" stroke-opacity="0.3" stroke-width="1"/>
<circle cx="639.0" cy="656.7" r="3" fill="#2563eb" fill-opacity="0.3" stroke="#2563eb" stroke-opacity="0.3" stroke-width="1"/>
<circle cx="685.7" cy="648.7" r="3" fill="#2563eb" fill-opacity="0.3" stroke="#2563eb" stroke-opacity="0.3" stroke-width="1"/>
<circle cx="671.1" cy="653.4" r="3" fill="#2563eb" fill-opacity="0.3" stroke="#2563eb" stroke-opacity="0.3" stroke-width="1"/>
<circle cx="655.0" cy="670.0" r="3" fill="#2563eb" fill-opacity="0.3" stroke="#2563eb" stroke-opacity="0.3" stroke-width="1"/>
<circle cx="673.8" cy="671.8" r="3" fill="#2563eb" fill-opacity="0.3" stroke="#2563eb" stroke-opacity="0.3" stroke-width="1"/>
<circle cx="643.0" cy="681.6" r="3" fill="#2563eb" fill-opacity="0.3" stroke="#2563eb" stroke-opacity="0.3" stroke-width="1"/>
<circle cx="680.3" cy="665.3" r="3" fill="#2563eb" fill-opacity="0.3" stroke="#2563eb" stroke-opacity="0.3" stroke-width="1"/>
<circle cx="644.6" cy="678.1" r="3" fill="#2563eb" fill-opacity="0.3" stroke="#2563eb" stroke-opacity="0.3" stroke-width="1"/>
<circle cx="671.8" cy="669.3" r="3" fill="#2563eb" fill-opacity="0.3" stroke="#2563eb" stroke-opacity="0.3" stroke-width="1"/>
<circle cx="681.1" cy="680.2" r="3" fill="#2563eb" fill-opacity="0.3" stroke="#2563eb" stroke-opacity="0.3" stroke-width="1"/>
<circle cx="651.3" cy="670.8" r="3" fill="#2563eb" fill-opacity="0.3" stroke="#2563eb" stroke-opacity="0.3" stroke-width="1"/>
<circle cx="651.5" cy="666.5" r="3" fill="#2563eb" fill-opacity="0.3" stroke="#2563eb" stroke-opacity="0.3" stroke-width="1"/>
<circle cx="667.7" cy="669.8" r="3" fill="#2563eb" fill-opacity="0.3" stroke="#2563eb" stroke-opacity="0.3" stroke-width="1"/>
<circle cx="653.1" cy="670.6" r="3" fill="#2563eb" fill-opacity="0.3" stroke="#2563eb" stroke-opacity="0.3" stroke-width="1"/>
<circle cx="664.3" cy="673.1" r="3" fill="#2563eb" fill-opacity="0.3" stroke="#2563eb" stroke-opacity="0.3" stroke-width="1"/>
<circle cx="674.5" cy="680.4" r="3" fill="#2563eb" fill-opacity="0.3" stroke="#2563eb" stroke-opacity="0.3" stroke-width="1"/>
<circle cx="669.5" cy="672.5" r="3" fill="#2563eb" fill-opacity="0.3" stroke="#2563eb" stroke-opacity="0.3" stroke-width="1"/>
<circle cx="652.8" cy="677.0" r="3" fill="#2563eb" fill-opacity="0.3" stroke="#2563eb" stroke-opacity="0.3" stroke-width="1"/>
<circle cx="638.7" cy="680.3" r="3" fill="#2563eb" fill-opacity="0.3" stroke="#2563eb" stroke-opacity="0.3" stroke-width="1"/>
<circle cx="661.7" cy="680.9" r="3" fill="#2563eb" fill-opacity="0.3" stroke="#2563eb" stroke-opacity="0.3" stroke-width="1"/>
<circle cx="685.7" cy="673.3" r="3" fill="#2563eb" fill-opacity="0.3" stroke="#2563eb" stroke-opacity="0.3" stroke-width="1"/>
<circle cx="642.4" cy="666.1" r="3" fill="#2563eb" fill-opacity="0.3" stroke="#2563eb" stroke-opacity="0.3" stroke-width="1"/>
<circle cx="665.4" cy="681.5" r="3" fill="#2563eb" fill-opacity="0.3" stroke="#2563eb" stroke-opacity="0.3" stroke-width="1"/>
<circle cx="663.3" cy="672.5" r="3" fill="#2563eb" fill-opacity="0.3" stroke="#2563eb" stroke-opacity="0.3" stroke-width="1"/>
<circle cx="669.2" cy="682.4" r="3" fill="#2563eb" fill-opacity="0.3" stroke="#2563eb" stroke-opacity="0.3" stroke-width="1"/>
<circle cx="670.1" cy="664.7" r="3" fill="#2563eb" fill-opacity="0.3" stroke="#2563eb" stroke-opacity="0.3" stroke-width="1"/>
<circle cx="645.5" cy="672.9" r="3" fill="#2563eb" fill-opacity="0.3" stroke="#2563eb" stroke-opacity="0.3" stroke-width="1"/>
<circle cx="653.1" cy="663.1" r="3" fill="#2563eb" fill-opacity="0.3" stroke="#2563eb" stroke-opacity="0.3" stroke-width="1"/>
<circle cx="661.6" cy="679.7" r="3" fill="#2563eb" fill-opacity="0.3" stroke="#2563eb" stroke-opacity="0.3" stroke-width="1"/>
<circle cx="676.8" cy="662.4" r="3" fill="#2563eb" fill-opacity="0.3" stroke="#2563eb" stroke-opacity="0.3" stroke-width="1"/>
<circle cx="639.2" cy="662.7" r="3" fill="#2563eb" fill-opacity="0.3" stroke="#2563eb" stroke-opacity="0.3" stroke-width="1"/>
<circle cx="679.2" cy="679.2" r="3" fill="#2563eb" fill-opacity="0.3" stroke="#2563eb" stroke-opacity="0.3" stroke-width="1"/>
<circle cx="645.6" cy="673.6" r="3" fill="#2563eb" fill-opacity="0.3" stroke="#2563eb" stroke-opacity="0.3" stroke-width="1"/>
<circle cx="687.0" cy="668.8" r="3" fill="#2563eb" fill-opacity="0.3" stroke="#2563eb" stroke-opacity="0.3" stroke-width="1"/>
<circle cx="663.3" cy="680.3" r="3" fill="#2563eb" fill-opacity="0.3" stroke="#2563eb" stroke-opacity="0.3" stroke-width="1"/>
<circle cx="676.4" cy="667.3" r="3" fill="#2563eb" fill-opacity="0.3" stroke="#2563eb" stroke-opacity="0.3" stroke-width="1"/>
<circle cx="643.1" cy="676.4" r="3" fill="#2563eb" fill-opacity="0.3" stroke="#2563eb" stroke-opacity="0.3" stroke-width="1"/>
<circle cx="684.0" cy="668.0" r="3" fill="#2563eb" fill-opacity="0.3" stroke="#2563eb" stroke-opacity="0.3" stroke-width="1"/>
<circle cx="664.9" cy="671.4" r="3" fill="#2563eb" fill-opacity="0.3" stroke="#2563eb" stroke-opacity="0.3" stroke-width="1"/>
<circle cx="667.3" cy="680.0" r="3" fill="#2563eb" fill-opacity="0.3" stroke="#2563eb" stroke-opacity="0.3" stroke-width="1"/>
<circle cx="677.9" cy="667.4" r="3" fill="#2563eb" fill-opacity="0.3" stroke="#2563eb" stroke-opacity="0.3" stroke-width="1"/>
<circle cx="656.1" cy="672.1" r="3" fill="#2563eb" fill-opacity="0.3" stroke="#2563eb" stroke-opacity="0.3" stroke-width="1"/>
<circle cx="660.4" cy="674.5" r="3" fill="#2563eb" fill-opacity="0.3" stroke="#2563eb" stroke-opacity="0.3" stroke-width="1"/>
<circle cx="683.1" cy="664.0" r="3" fill="#2563eb" fill-opacity="0.3" stroke="#2563eb" stroke-opacity="0.3" stroke-width="1"/>
<circle cx="661.4" cy="677.1" r="3" fill="#2563eb" fill-opacity="0.3" stroke="#2563eb" stroke-opacity="0.3" stroke-width="1"/>
<circle cx="671.9" cy="662.2" r="3" fill="#2563eb" fill-opacity="0.3" stroke="#2563eb" stroke-opacity="0.3" stroke-width="1"/>
<circle cx="663.1" cy="676.9" r="3" fill="#2563eb" fill-opacity="0.3" stroke="#2563eb" stroke-opacity="0.3" stroke-width="1"/>
<circle cx="685.7" cy="663.4" r="3" fill="#2563eb" fill-opacity="0.3" stroke="#2563eb" stroke-opacity="0.3" stroke-width="1"/>
<circle cx="644.5" cy="669.1" r="3" fill="#2563eb" fill-opacity="0.3" stroke="#2563eb" stroke-opacity="0.3" stroke-width="1"/>
<circle cx="668.8" cy="665.0" r="3" fill="#2563eb" fill-opacity="0.3" stroke="#2563eb" stroke-opacity="0.3" stroke-width="1"/>
<circle cx="684.9" cy="678.4" r="3" fill="#2563eb" fill-opacity="0.3" stroke="#2563eb" stroke-opacity="0.3" stroke-width="1"/>
<circle cx="813.3" cy="388.4" r="3" fill="#2563eb" fill-opacity="0.3" stroke="#2563eb" stroke-opacity="0.3" stroke-width="1"/>
<circle cx="852.3" cy="386.4" r="3" fill="#2563eb" fill-opacity="0.3" stroke="#2563eb" stroke-opacity="0.3" stroke-width="1"/>
<circle cx="836.4" cy="427.3" r="3" fill="#2563eb" fill-opacity="0.3" stroke="#2563eb" stroke-opacity="0.3" stroke-width="1"/>
<circle cx="828.4" cy="465.2" r="3" fill="#2563eb" fill-opacity="0.3" stroke="#2563eb" stroke-opacity="0.3" stroke-width="1"/>
<circle cx="812.4" cy="474.4" r="3" fill="#2563eb" fill-opacity="0.3" stroke="#2563eb" stroke-opacity="0.3" stroke-width="1"/>
<circle cx="845.4" cy="482.2" r="3" fill="#2563eb" fill-opacity="0.3" stroke="#2563eb" stroke-opacity="0.3" stroke-width="1"/>
<circle cx="812.4" cy="486.2" r="3" fill="#2563eb" fill-opacity="0.3" stroke="#2563eb" stroke-opacity="0.3" stroke-width="1"/>
<circle cx="818.5" cy="490.2" r="3" fill="#2563eb" fill-opacity="0.3" stroke="#2563eb" stroke-opacity="0.3" stroke-width="1"/>
<circle cx="810.3" cy="510.0" r="3" fill="#2563eb" fill-opacity="0.3" stroke="#2563eb" stroke-opacity="0.3" stroke-width="1"/>
<circle cx="814.0" cy="516.8" r="3" fill="#2563eb" fill-opacity="0.3" stroke="#2563eb" stroke-opacity="0.3" stroke-width="1"/>
<circle cx="816.4" cy="521.3" r="3" fill="#2563eb" fill-opacity="0.3" stroke="#2563eb" stroke-opacity="0.3" stroke-width="1"/>
<circle cx="825.3" cy="518.2" r="3" fill="#2563eb" fill-opacity="0.3" stroke="#2563eb" stroke-opacity="0.3" stroke-width="1"/>
<circle cx="829.1" cy="522.0" r="3" fill="#2563eb" fill-opacity="0.3" stroke="#2563eb" stroke-opacity="0.3" stroke-width="1"/>
<circle cx="838.3" cy="521.3" r="3" fill="#2563eb" fill-opacity="0.3" stroke="#2563eb" stroke-opacity="0.3" stroke-width="1"/>
<circle cx="842.1" cy="523.4" r="3" fill="#2563eb" fill-opacity="0.3" stroke="#2563eb" stroke-opacity="0.3" stroke-width="1"/>
<circle cx="844.7" cy="521.3" r="3" fill="#2563eb" fill-opacity="0.3" stroke="#2563eb" stroke-opacity="0.3" stroke-width="1"/>
<circle cx="806.3" cy="534.2" r="3" fill="#2563eb" fill-opacity="0.3" stroke="#2563eb" stroke-opacity="0.3" stroke-width="1"/>
<circle cx="823.5" cy="532.1" r="3" fill="#2563eb" fill-opacity="0.3" stroke="#2563eb" stroke-opacity="0.3" stroke-width="1"/>
<circle cx="836.7" cy="530.0" r="3" fill="#2563eb" fill-opacity="0.3" stroke="#2563eb" stroke-opacity="0.3" stroke-width="1"/>
<circle cx="830.3" cy="536.1" r="3" fill="#2563eb" fill-opacity="0.3" stroke="#2563eb" stroke-opacity="0.3" stroke-width="1"/>
<circle cx="841.4" cy="534.2" r="3" fill="#2563eb" fill-opacity="0.3" stroke="#2563eb" stroke-opacity="0.3" stroke-width="1"/>
<circle cx="842.3" cy="535.4" r="3" fill="#2563eb" fill-opacity="0.3" stroke="#2563eb" stroke-opacity="0.3" stroke-width="1"/>
<circle cx="825.3" cy="540.1" r="3" fill="#2563eb" fill-opacity="0.3" stroke="#2563eb" stroke-opacity="0.3" stroke-width="1"/>
<circle cx="824.9" cy="545.1" r="3" fill="#2563eb" fill-opacity="0.3" stroke="#2563eb" stroke-opacity="0.3" stroke-width="1"/>
<circle cx="827.2" cy="548.6" r="3" fill="#2563eb" fill-opacity="0.3" stroke="#2563eb" stroke-opacity="0.3" stroke-width="1"/>
<circle cx="842.3" cy="545.1" r="3" fill="#2563eb" fill-opacity="0.3" stroke="#2563eb" stroke-opacity="0.3" stroke-width="1"/>
<circle cx="810.3" cy="555.2" r="3" fill="#2563eb" fill-opacity="0.3" stroke="#2563eb" stroke-opacity="0.3" stroke-width="1"/>
<circle cx="822.3" cy="555.2" r="3" fill="#2563eb" fill-opacity="0.3" stroke="#2563eb" stroke-opacity="0.3" stroke-width="1"/>
<circle cx="813.3" cy="563.0" r="3" fill="#2563eb" fill-opacity="0.3" stroke="#2563eb" stroke-opacity="0.3" stroke-width="1"/>
<circle cx="829.4" cy="565.1" r="3" fill="#2563eb" fill-opacity="0.3" stroke="#2563eb" stroke-opacity="0.3" stroke-width="1"/>
<circle cx="843.5" cy="560.4" r="3" fill="#2563eb" fill-opacity="0.3" stroke="#2563eb" stroke-opacity="0.3" stroke-width="1"/>
<circle cx="847.7" cy="559.2" r="3" fill="#2563eb" fill-opacity="0.3" stroke="#2563eb" stroke-opacity="0.3" stroke-width="1"/>
<circle cx="852.4" cy="560.4" r="3" fill="#2563eb" fill-opacity="0.3" stroke="#2563eb" stroke-opacity="0.3" stroke-width="1"/>
<circle cx="847.0" cy="563.2" r="3" fill="#2563eb" fill-opacity="0.3" stroke="#2563eb" stroke-opacity="0.3" stroke-width="1"/>
<circle cx="807.2" cy="569.1" r="3" fill="#2563eb" fill-opacity="0.3" stroke="#2563eb" stroke-opacity="0.3" stroke-width="1"/>
<circle cx="852.4" cy="567.9" r="3" fill="#2563eb" fill-opacity="0.3" stroke="#2563eb" stroke-opacity="0.3" stroke-width="1"/>
<circle cx="813.4" cy="573.7" r="3" fill="#2563eb" fill-opacity="0.3" stroke="#2563eb" stroke-opacity="0.3" stroke-width="1"/>
<circle cx="839.2" cy="572.5" r="3" fill="#2563eb" fill-opacity="0.3" stroke="#2563eb" stroke-opacity="0.3" stroke-width="1"/>
<circle cx="821.1" cy="572.1" r="3" fill="#2563eb" fill-opacity="0.3" stroke="#2563eb" stroke-opacity="0.3" stroke-width="1"/>
<circle cx="826.1" cy="580.6" r="3" fill="#2563eb" fill-opacity="0.3" stroke="#2563eb" stroke-opacity="0.3" stroke-width="1"/>
<circle cx="813.3" cy="574.6" r="3" fill="#2563eb" fill-opacity="0.3" stroke="#2563eb" stroke-opacity="0.3" stroke-width="1"/>
<circle cx="820.0" cy="570.5" r="3" fill="#2563eb" fill-opacity="0.3" stroke="#2563eb" stroke-opacity="0.3" stroke-width="1"/>
<circle cx="810.1" cy="581.3" r="3" fill="#2563eb" fill-opacity="0.3" stroke="#2563eb" stroke-opacity="0.3" stroke-width="1"/>
<circle cx="811.4" cy="572.7" r="3" fill="#2563eb" fill-opacity="0.3" stroke="#2563eb" stroke-opacity="0.3" stroke-width="1"/>
<circle cx="836.3" cy="576.6" r="3" fill="#2563eb" fill-opacity="0.3" stroke="#2563eb" stroke-opacity="0.3" stroke-width="1"/>
<circle cx="819.4" cy="586.0" r="3" fill="#2563eb" fill-opacity="0.3" stroke="#2563eb" stroke-opacity="0.3" stroke-width="1"/>
<circle cx="845.0" cy="584.0" r="3" fill="#2563eb" fill-opacity="0.3" stroke="#2563eb" stroke-opacity="0.3" stroke-width="1"/>
<circle cx="834.8" cy="583.0" r="3" fill="#2563eb" fill-opacity="0.3" stroke="#2563eb" stroke-opacity="0.3" stroke-width="1"/>
<circle cx="853.9" cy="573.4" r="3" fill="#2563eb" fill-opacity="0.3" stroke="#2563eb" stroke-opacity="0.3" stroke-width="1"/>
<circle cx="825.5" cy="580.3" r="3" fill="#2563eb" fill-opacity="0.3" stroke="#2563eb" stroke-opacity="0.3" stroke-width="1"/>
<circle cx="820.2" cy="576.7" r="3" fill="#2563eb" fill-opacity="0.3" stroke="#2563eb" stroke-opacity="0.3" stroke-width="1"/>
<circle cx="814.3" cy="582.6" r="3" fill="#2563eb" fill-opacity="0.3" stroke="#2563eb" stroke-opacity="0.3" stroke-width="1"/>
<circle cx="846.0" cy="582.6" r="3" fill="#2563eb" fill-opacity="0.3" stroke="#2563eb" stroke-opacity="0.3" stroke-width="1"/>
<circle cx="827.9" cy="575.8" r="3" fill="#2563eb" fill-opacity="0.3" stroke="#2563eb" stroke-opacity="0.3" stroke-width="1"/>
<circle cx="821.7" cy="578.0" r="3" fill="#2563eb" fill-opacity="0.3" stroke="#2563eb" stroke-opacity="0.3" stroke-width="1"/>
<circle cx="819.1" cy="582.5" r="3" fill="#2563eb" fill-opacity="0.3" stroke="#2563eb" stroke-opacity="0.3" stroke-width="1"/>
<circle cx="844.3" cy="586.2" r="3" fill="#2563eb" fill-opacity="0.3" stroke="#2563eb" stroke-opacity="0.3" stroke-width="1"/>
<circle cx="814.9" cy="581.0" r="3" fill="#2563eb" fill-opacity="0.3" stroke="#2563eb" stroke-opacity="0.3" stroke-width="1"/>
<circle cx="840.1" cy="612.7" r="3" fill="#2563eb" fill-opacity="0.3" stroke="#2563eb" stroke-opacity="0.3" stroke-width="1"/>
<circle cx="811.2" cy="612.6" r="3" fill="#2563eb" fill-opacity="0.3" stroke="#2563eb" stroke-opacity="0.3" stroke-width="1"/>
<circle cx="839.7" cy="593.6" r="3" fill="#2563eb" fill-opacity="0.3" stroke="#2563eb" stroke-opacity="0.3" stroke-width="1"/>
<circle cx="835.2" cy="608.2" r="3" fill="#2563eb" fill-opacity="0.3" stroke="#2563eb" stroke-opacity="0.3" stroke-width="1"/>
<circle cx="831.3" cy="621.8" r="3" fill="#2563eb" fill-opacity="0.3" stroke="#2563eb" stroke-opacity="0.3" stroke-width="1"/>
<circle cx="822.1" cy="622.3" r="3" fill="#2563eb" fill-opacity="0.3" stroke="#2563eb" stroke-opacity="0.3" stroke-width="1"/>
<circle cx="850.3" cy="588.9" r="3" fill="#2563eb" fill-opacity="0.3" stroke="#2563eb" stroke-opacity="0.3" stroke-width="1"/>
<circle cx="810.7" cy="593.2" r="3" fill="#2563eb" fill-opacity="0.3" stroke="#2563eb" stroke-opacity="0.3" stroke-width="1"/>
<circle cx="850.7" cy="614.6" r="3" fill="#2563eb" fill-opacity="0.3" stroke="#2563eb" stroke-opacity="0.3" stroke-width="1"/>
<circle cx="810.7" cy="588.7" r="3" fill="#2563eb" fill-opacity="0.3" stroke="#2563eb" stroke-opacity="0.3" stroke-width="1"/>
<circle cx="835.7" cy="593.9" r="3" fill="#2563eb" fill-opacity="0.3" stroke="#2563eb" stroke-opacity="0.3" stroke-width="1"/>
<circle cx="809.9" cy="622.9" r="3" fill="#2563eb" fill-opacity="0.3" stroke="#2563eb" stroke-opacity="0.3" stroke-width="1"/>
<circle cx="814.0" cy="610.9" r="3" fill="#2563eb" fill-opacity="0.3" stroke="#2563eb" stroke-opacity="0.3" stroke-width="1"/>
<circle cx="846.6" cy="622.4" r="3" fill="#2563eb" fill-opacity="0.3" stroke="#2563eb" stroke-opacity="0.3" stroke-width="1"/>
<circle cx="842.7" cy="593.7" r="3" fill="#2563eb" fill-opacity="0.3" stroke="#2563eb" stroke-opacity="0.3" stroke-width="1"/>
<circle cx="855.3" cy="601.3" r="3" fill="#2563eb" fill-opacity="0.3" stroke="#2563eb" stroke-opacity="0.3" stroke-width="1"/>
<circle cx="839.3" cy="610.0" r="3" fill="#2563eb" fill-opacity="0.3" stroke="#2563eb" stroke-opacity="0.3" stroke-width="1"/>
<circle cx="848.0" cy="614.9" r="3" fill="#2563eb" fill-opacity="0.3" stroke="#2563eb" stroke-opacity="0.3" stroke-width="1"/>
<circle cx="814.8" cy="592.9" r="3" fill="#2563eb" fill-opacity="0.3" stroke="#2563eb" stroke-opacity="0.3" stroke-width="1"/>
<circle cx="828.2" cy="617.9" r="3" fill="#2563eb" fill-opacity="0.3" stroke="#2563eb" stroke-opacity="0.3" stroke-width="1"/>
<circle cx="851.8" cy="602.6" r="3" fill="#2563eb" fill-opacity="0.3" stroke="#2563eb" stroke-opacity="0.3" stroke-width="1"/>
<circle cx="832.4" cy="590.4" r="3" fill="#2563eb" fill-opacity="0.3" stroke="#2563eb" stroke-opacity="0.3" stroke-width="1"/>
<circle cx="840.1" cy="603.9" r="3" fill="#2563eb" fill-opacity="0.3" stroke="#2563eb" stroke-opacity="0.3" stroke-width="1"/>
<circle cx="823.8" cy="614.2" r="3" fill="#2563eb" fill-opacity="0.3" stroke="#2563eb" stroke-opacity="0.3" stroke-width="1"/>
<circle cx="814.8" cy="595.5" r="3" fill="#2563eb" fill-opacity="0.3" stroke="#2563eb" stroke-opacity="0.3" stroke-width="1"/>
<circle cx="840.2" cy="592.1" r="3" fill="#2563eb" fill-opacity="0.3" stroke="#2563eb" stroke-opacity="0.3" stroke-width="1"/>
<circle cx="818.9" cy="600.1" r="3" fill="#2563eb" fill-opacity="0.3" stroke="#2563eb" stroke-opacity="0.3" stroke-width="1"/>
<circle cx="825.7" cy="607.5" r="3" fill="#2563eb" fill-opacity="0.3" stroke="#2563eb" stroke-opacity="0.3" stroke-width="1"/>
<circle cx="834.7" cy="597.0" r="3" fill="#2563eb" fill-opacity="0.3" stroke="#2563eb" stroke-opacity="0.3" stroke-width="1"/>
<circle cx="808.9" cy="617.4" r="3" fill="#2563eb" fill-opacity="0.3" stroke="#2563eb" stroke-opacity="0.3" stroke-width="1"/>
<circle cx="825.5" cy="611.3" r="3" fill="#2563eb" fill-opacity="0.3" stroke="#2563eb" stroke-opacity="0.3" stroke-width="1"/>
<circle cx="821.3" cy="603.3" r="3" fill="#2563eb" fill-opacity="0.3" stroke="#2563eb" stroke-opacity="0.3" stroke-width="1"/>
<circle cx="815.2" cy="612.5" r="3" fill="#2563eb" fill-opacity="0.3" stroke="#2563eb" stroke-opacity="0.3" stroke-width="1"/>
<circle cx="827.6" cy="590.8" r="3" fill="#2563eb" fill-opacity="0.3" stroke="#2563eb" stroke-opacity="0.3" stroke-width="1"/>
<circle cx="824.6" cy="611.9" r="3" fill="#2563eb" fill-opacity="0.3" stroke="#2563eb" stroke-opacity="0.3" stroke-width="1"/>
<circle cx="811.9" cy="620.3" r="3" fill="#2563eb" fill-opacity="0.3" stroke="#2563eb" stroke-opacity="0.3" stroke-width="1"/>
<circle cx="826.2" cy="622.8" r="3" fill="#2563eb" fill-opacity="0.3" stroke="#2563eb" stroke-opacity="0.3" stroke-width="1"/>
<circle cx="811.8" cy="595.7" r="3" fill="#2563eb" fill-opacity="0.3" stroke="#2563eb" stroke-opacity="0.3" stroke-width="1"/>
<circle cx="842.4" cy="598.0" r="3" fill="#2563eb" fill-opacity="0.3" stroke="#2563eb" stroke-opacity="0.3" stroke-width="1"/>
<circle cx="840.9" cy="618.6" r="3" fill="#2563eb" fill-opacity="0.3" stroke="#2563eb" stroke-opacity="0.3" stroke-width="1"/>
<circle cx="845.0" cy="608.9" r="3" fill="#2563eb" fill-opacity="0.3" stroke="#2563eb" stroke-opacity="0.3" stroke-width="1"/>
<circle cx="827.5" cy="607.5" r="3" fill="#2563eb" fill-opacity="0.3" stroke="#2563eb" stroke-opacity="0.3" stroke-width="1"/>
<circle cx="850.4" cy="608.5" r="3" fill="#2563eb" fill-opacity="0.3" stroke="#2563eb" stroke-opacity="0.3" stroke-width="1"/>
<circle cx="827.0" cy="623.4" r="3" fill="#2563eb" fill-opacity="0.3" stroke="#2563eb" stroke-opacity="0.3" stroke-width="1"/>
<circle cx="835.9" cy="608.7" r="3" fill="#2563eb" fill-opacity="0.3" stroke="#2563eb" stroke-opacity="0.3" stroke-width="1"/>
<circle cx="816.4" cy="612.6" r="3" fill="#2563eb" fill-opacity="0.3" stroke="#2563eb" stroke-opacity="0.3" stroke-width="1"/>
<circle cx="816.3" cy="592.4" r="3" fill="#2563eb" fill-opacity="0.3" stroke="#2563eb" stroke-opacity="0.3" stroke-width="1"/>
<circle cx="818.8" cy="604.6" r="3" fill="#2563eb" fill-opacity="0.3" stroke="#2563eb" stroke-opacity="0.3" stroke-width="1"/>
<circle cx="830.1" cy="616.2" r="3" fill="#2563eb" fill-opacity="0.3" stroke="#2563eb" stroke-opacity="0.3" stroke-width="1"/>
<circle cx="839.8" cy="618.9" r="3" fill="#2563eb" fill-opacity="0.3" stroke="#2563eb" stroke-opacity="0.3" stroke-width="1"/>
<circle cx="829.1" cy="608.1" r="3" fill="#2563eb" fill-opacity="0.3" stroke="#2563eb" stroke-opacity="0.3" stroke-width="1"/>
<circle cx="830.5" cy="612.0" r="3" fill="#2563eb" fill-opacity="0.3" stroke="#2563eb" stroke-opacity="0.3" stroke-width="1"/>
<circle cx="821.3" cy="600.5" r="3" fill="#2563eb" fill-opacity="0.3" stroke="#2563eb" stroke-opacity="0.3" stroke-width="1"/>
<circle cx="839.0" cy="602.4" r="3" fill="#2563eb" fill-opacity="0.3" stroke="#2563eb" stroke-opacity="0.3" stroke-width="1"/>
<circle cx="808.5" cy="622.6" r="3" fill="#2563eb" fill-opacity="0.3" stroke="#2563eb" stroke-opacity="0.3" stroke-width="1"/>
<circle cx="838.8" cy="596.1" r="3" fill="#2563eb" fill-opacity="0.3" stroke="#2563eb" stroke-opacity="0.3" stroke-width="1"/>
<circle cx="838.5" cy="604.4" r="3" fill="#2563eb" fill-opacity="0.3" stroke="#2563eb" stroke-opacity="0.3" stroke-width="1"/>
<circle cx="854.6" cy="603.4" r="3" fill="#2563eb" fill-opacity="0.3" stroke="#2563eb" stroke-opacity="0.3" stroke-width="1"/>
<circle cx="811.5" cy="646.1" r="3" fill="#2563eb" fill-opacity="0.3" stroke="#2563eb" stroke-opacity="0.3" stroke-width="1"/>
<circle cx="812.5" cy="631.3" r="3" fill="#2563eb" fill-opacity="0.3" stroke="#2563eb" stroke-opacity="0.3" stroke-width="1"/>
<circle cx="821.5" cy="636.7" r="3" fill="#2563eb" fill-opacity="0.3" stroke="#2563eb" stroke-opacity="0.3" stroke-width="1"/>
<circle cx="813.7" cy="642.4" r="3" fill="#2563eb" fill-opacity="0.3" stroke="#2563eb" stroke-opacity="0.3" stroke-width="1"/>
<circle cx="833.4" cy="629.9" r="3" fill="#2563eb" fill-opacity="0.3" stroke="#2563eb" stroke-opacity="0.3" stroke-width="1"/>
<circle cx="819.7" cy="644.9" r="3" fill="#2563eb" fill-opacity="0.3" stroke="#2563eb" stroke-opacity="0.3" stroke-width="1"/>
<circle cx="824.3" cy="636.8" r="3" fill="#2563eb" fill-opacity="0.3" stroke="#2563eb" stroke-opacity="0.3" stroke-width="1"/>
<circle cx="808.2" cy="638.5" r="3" fill="#2563eb" fill-opacity="0.3" stroke="#2563eb" stroke-opacity="0.3" stroke-width="1"/>
<circle cx="843.3" cy="634.0" r="3" fill="#2563eb" fill-opacity="0.3" stroke="#2563eb" stroke-opacity="0.3" stroke-width="1"/>
<circle cx="818.2" cy="638.2" r="3" fill="#2563eb" fill-opacity="0.3" stroke="#2563eb" stroke-opacity="0.3" stroke-width="1"/>
<circle cx="817.7" cy="646.3" r="3" fill="#2563eb" fill-opacity="0.3" stroke="#2563eb" stroke-opacity="0.3" stroke-width="1"/>
<circle cx="807.4" cy="631.4" r="3" fill="#2563eb" fill-opacity="0.3" stroke="#2563eb" stroke-opacity="0.3" stroke-width="1"/>
<circle cx="831.5" cy="629.6" r="3" fill="#2563eb" fill-opacity="0.3" stroke="#2563eb" stroke-opacity="0.3" stroke-width="1"/>
<circle cx="843.5" cy="644.9" r="3" fill="#2563eb" fill-opacity="0.3" stroke="#2563eb" stroke-opacity="0.3" stroke-width="1"/>
<circle cx="854.7" cy="642.8" r="3" fill="#2563eb" fill-opacity="0.3" stroke="#2563eb" stroke-opacity="0.3" stroke-width="1"/>
<circle cx="819.1" cy="646.1" r="3" fill="#2563eb" fill-opacity="0.3" stroke="#2563eb" stroke-opacity="0.3" stroke-width="1"/>
<circle cx="826.4" cy="639.8" r="3" fill="#2563eb" fill-opacity="0.3" stroke="#2563eb" stroke-opacity="0.3" stroke-width="1"/>
<circle cx="851.6" cy="635.4" r="3" fill="#2563eb" fill-opacity="0.3" stroke="#2563eb" stroke-opacity="0.3" stroke-width="1"/>
<circle cx="806.6" cy="633.7" r="3" fill="#2563eb" fill-opacity="0.3" stroke="#2563eb" stroke-opacity="0.3" stroke-width="1"/>
<circle cx="832.9" cy="648.2" r="3" fill="#2563eb" fill-opacity="0.3" stroke="#2563eb" stroke-opacity="0.3" stroke-width="1"/>
<circle cx="823.3" cy="644.3" r="3" fill="#2563eb" fill-opacity="0.3" stroke="#2563eb" stroke-opacity="0.3" stroke-width="1"/>
<circle cx="815.7" cy="646.0" r="3" fill="#2563eb" fill-opacity="0.3" stroke="#2563eb" stroke-opacity="0.3" stroke-width="1"/>
<circle cx="827.6" cy="628.9" r="3" fill="#2563eb" fill-opacity="0.3" stroke="#2563eb" stroke-opacity="0.3" stroke-width="1"/>
<circle cx="837.4" cy="632.7" r="3" fill="#2563eb" fill-opacity="0.3" stroke="#2563eb" stroke-opacity="0.3" stroke-width="1"/>
<circle cx="823.5" cy="636.9" r="3" fill="#2563eb" fill-opacity="0.3" stroke="#2563eb" stroke-opacity="0.3" stroke-width="1"/>
<circle cx="844.7" cy="638.3" r="3" fill="#2563eb" fill-opacity="0.3" stroke="#2563eb" stroke-opacity="0.3" stroke-width="1"/>
<circle cx="818.4" cy="639.6" r="3" fill="#2563eb" fill-opacity="0.3" stroke="#2563eb" stroke-opacity="0.3" stroke-width="1"/>
<circle cx="811.1" cy="636.4" r="3" fill="#2563eb" fill-opacity="0.3" stroke="#2563eb" stroke-opacity="0.3" stroke-width="1"/>
<circle cx="835.7" cy="639.6" r="3" fill="#2563eb" fill-opacity="0.3" stroke="#2563eb" stroke-opacity="0.3" stroke-width="1"/>
<circle cx="841.7" cy="642.3" r="3" fill="#2563eb" fill-opacity="0.3" stroke="#2563eb" stroke-opacity="0.3" stroke-width="1"/>
<circle cx="846.2" cy="636.0" r="3" fill="#2563eb" fill-opacity="0.3" stroke="#2563eb" stroke-opacity="0.3" stroke-width="1"/>
<circle cx="833.7" cy="641.5" r="3" fill="#2563eb" fill-opacity="0.3" stroke="#2563eb" stroke-opacity="0.3" stroke-width="1"/>
<circle cx="833.4" cy="632.7" r="3" fill="#2563eb" fill-opacity="0.3" stroke="#2563eb" stroke-opacity="0.3" stroke-width="1"/>
<circle cx="850.9" cy="626.1" r="3" fill="#2563eb" fill-opacity="0.3" stroke="#2563eb" stroke-opacity="0.3" stroke-width="1"/>
<circle cx="843.4" cy="628.8" r="3" fill="#2563eb" fill-opacity="0.3" stroke="#2563eb" stroke-opacity="0.3" stroke-width="1"/>
<circle cx="839.6" cy="629.1" r="3" fill="#2563eb" fill-opacity="0.3" stroke="#2563eb" stroke-opacity="0.3" stroke-width="1"/>
<circle cx="819.4" cy="637.1" r="3" fill="#2563eb" fill-opacity="0.3" stroke="#2563eb" stroke-opacity="0.3" stroke-width="1"/>
<circle cx="819.8" cy="648.1" r="3" fill="#2563eb" fill-opacity="0.3" stroke="#2563eb" stroke-opacity="0.3" stroke-width="1"/>
<circle cx="810.5" cy="633.8" r="3" fill="#2563eb" fill-opacity="0.3" stroke="#2563eb" stroke-opacity="0.3" stroke-width="1"/>
<circle cx="838.6" cy="642.1" r="3" fill="#2563eb" fill-opacity="0.3" stroke="#2563eb" stroke-opacity="0.3" stroke-width="1"/>
<circle cx="854.7" cy="647.1" r="3" fill="#2563eb" fill-opacity="0.3" stroke="#2563eb" stroke-opacity="0.3" stroke-width="1"/>
<circle cx="829.8" cy="624.9" r="3" fill="#2563eb" fill-opacity="0.3" stroke="#2563eb" stroke-opacity="0.3" stroke-width="1"/>
<circle cx="829.2" cy="647.3" r="3" fill="#2563eb" fill-opacity="0.3" stroke="#2563eb" stroke-opacity="0.3" stroke-width="1"/>
<circle cx="823.5" cy="648.2" r="3" fill="#2563eb" fill-opacity="0.3" stroke="#2563eb" stroke-opacity="0.3" stroke-width="1"/>
<circle cx="834.1" cy="632.9" r="3" fill="#2563eb" fill-opacity="0.3" stroke="#2563eb" stroke-opacity="0.3" stroke-width="1"/>
<circle cx="820.7" cy="626.7" r="3" fill="#2563eb" fill-opacity="0.3" stroke="#2563eb" stroke-opacity="0.3" stroke-width="1"/>
<circle cx="818.4" cy="645.7" r="3" fill="#2563eb" fill-opacity="0.3" stroke="#2563eb" stroke-opacity="0.3" stroke-width="1"/>
<circle cx="832.4" cy="642.5" r="3" fill="#2563eb" fill-opacity="0.3" stroke="#2563eb" stroke-opacity="0.3" stroke-width="1"/>
<circle cx="808.5" cy="639.0" r="3" fill="#2563eb" fill-opacity="0.3" stroke="#2563eb" stroke-opacity="0.3" stroke-width="1"/>
<circle cx="829.7" cy="629.2" r="3" fill="#2563eb" fill-opacity="0.3" stroke="#2563eb" stroke-opacity="0.3" stroke-width="1"/>
<circle cx="814.6" cy="629.2" r="3" fill="#2563eb" fill-opacity="0.3" stroke="#2563eb" stroke-opacity="0.3" stroke-width="1"/>
<circle cx="817.1" cy="641.1" r="3" fill="#2563eb" fill-opacity="0.3" stroke="#2563eb" stroke-opacity="0.3" stroke-width="1"/>
<circle cx="851.7" cy="631.0" r="3" fill="#2563eb" fill-opacity="0.3" stroke="#2563eb" stroke-opacity="0.3" stroke-width="1"/>
<circle cx="823.9" cy="645.9" r="3" fill="#2563eb" fill-opacity="0.3" stroke="#2563eb" stroke-opacity="0.3" stroke-width="1"/>
<circle cx="831.8" cy="644.8" r="3" fill="#2563eb" fill-opacity="0.3" stroke="#2563eb" stroke-opacity="0.3" stroke-width="1"/>
<circle cx="837.2" cy="629.2" r="3" fill="#2563eb" fill-opacity="0.3" stroke="#2563eb" stroke-opacity="0.3" stroke-width="1"/>
<circle cx="836.2" cy="633.2" r="3" fill="#2563eb" fill-opacity="0.3" stroke="#2563eb" stroke-opacity="0.3" stroke-width="1"/>
<circle cx="820.6" cy="638.7" r="3" fill="#2563eb" fill-opacity="0.3" stroke="#2563eb" stroke-opacity="0.3" stroke-width="1"/>
<circle cx="813.5" cy="676.8" r="3" fill="#2563eb" fill-opacity="0.3" stroke="#2563eb" stroke-opacity="0.3" stroke-width="1"/>
<circle cx="839.9" cy="650.6" r="3" fill="#2563eb" fill-opacity="0.3" stroke="#2563eb" stroke-opacity="0.3" stroke-width="1"/>
<circle cx="825.8" cy="674.3" r="3" fill="#2563eb" fill-opacity="0.3" stroke="#2563eb" stroke-opacity="0.3" stroke-width="1"/>
<circle cx="810.7" cy="651.2" r="3" fill="#2563eb" fill-opacity="0.3" stroke="#2563eb" stroke-opacity="0.3" stroke-width="1"/>
<circle cx="843.8" cy="653.2" r="3" fill="#2563eb" fill-opacity="0.3" stroke="#2563eb" stroke-opacity="0.3" stroke-width="1"/>
<circle cx="824.1" cy="682.0" r="3" fill="#2563eb" fill-opacity="0.3" stroke="#2563eb" stroke-opacity="0.3" stroke-width="1"/>
<circle cx="847.9" cy="670.1" r="3" fill="#2563eb" fill-opacity="0.3" stroke="#2563eb" stroke-opacity="0.3" stroke-width="1"/>
<circle cx="811.6" cy="681.3" r="3" fill="#2563eb" fill-opacity="0.3" stroke="#2563eb" stroke-opacity="0.3" stroke-width="1"/>
<circle cx="813.6" cy="679.8" r="3" fill="#2563eb" fill-opacity="0.3" stroke="#2563eb" stroke-opacity="0.3" stroke-width="1"/>
<circle cx="810.7" cy="680.6" r="3" fill="#2563eb" fill-opacity="0.3" stroke="#2563eb" stroke-opacity="0.3" stroke-width="1"/>
<circle cx="821.2" cy="675.2" r="3" fill="#2563eb" fill-opacity="0.3" stroke="#2563eb" stroke-opacity="0.3" stroke-width="1"/>
<circle cx="842.3" cy="682.5" r="3" fill="#2563eb" fill-opacity="0.3" stroke="#2563eb" stroke-opacity="0.3" stroke-width="1"/>
<circle cx="850.1" cy="682.0" r="3" fill="#2563eb" fill-opacity="0.3" stroke="#2563eb" stroke-opacity="0.3" stroke-width="1"/>
<circle cx="831.7" cy="649.2" r="3" fill="#2563eb" fill-opacity="0.3" stroke="#2563eb" stroke-opacity="0.3" stroke-width="1"/>
<circle cx="844.2" cy="675.6" r="3" fill="#2563eb" fill-opacity="0.3" stroke="#2563eb" stroke-opacity="0.3" stroke-width="1"/>
<circle cx="849.6" cy="670.4" r="3" fill="#2563eb" fill-opacity="0.3" stroke="#2563eb" stroke-opacity="0.3" stroke-width="1"/>
<circle cx="819.9" cy="681.3" r="3" fill="#2563eb" fill-opacity="0.3" stroke="#2563eb" stroke-opacity="0.3" stroke-width="1"/>
<circle cx="816.8" cy="660.5" r="3" fill="#2563eb" fill-opacity="0.3" stroke="#2563eb" stroke-opacity="0.3" stroke-width="1"/>
<circle cx="816.3" cy="682.2" r="3" fill="#2563eb" fill-opacity="0.3" stroke="#2563eb" stroke-opacity="0.3" stroke-width="1"/>
<circle cx="818.0" cy="672.7" r="3" fill="#2563eb" fill-opacity="0.3" stroke="#2563eb" stroke-opacity="0.3" stroke-width="1"/>
<circle cx="816.8" cy="669.2" r="3" fill="#2563eb" fill-opacity="0.3" stroke="#2563eb" stroke-opacity="0.3" stroke-width="1"/>
<circle cx="808.4" cy="653.0" r="3" fill="#2563eb" fill-opacity="0.3" stroke="#2563eb" stroke-opacity="0.3" stroke-width="1"/>
<circle cx="841.9" cy="660.0" r="3" fill="#2563eb" fill-opacity="0.3" stroke="#2563eb" stroke-opacity="0.3" stroke-width="1"/>
<circle cx="844.0" cy="649.7" r="3" fill="#2563eb" fill-opacity="0.3" stroke="#2563eb" stroke-opacity="0.3" stroke-width="1"/>
<circle cx="843.2" cy="666.8" r="3" fill="#2563eb" fill-opacity="0.3" stroke="#2563eb" stroke-opacity="0.3" stroke-width="1"/>
<circle cx="831.3" cy="666.4" r="3" fill="#2563eb" fill-opacity="0.3" stroke="#2563eb" stroke-opacity="0.3" stroke-width="1"/>
<circle cx="846.8" cy="650.5" r="3" fill="#2563eb" fill-opacity="0.3" stroke="#2563eb" stroke-opacity="0.3" stroke-width="1"/>
<circle cx="813.5" cy="680.5" r="3" fill="#2563eb" fill-opacity="0.3" stroke="#2563eb" stroke-opacity="0.3" stroke-width="1"/>
<circle cx="817.3" cy="668.0" r="3" fill="#2563eb" fill-opacity="0.3" stroke="#2563eb" stroke-opacity="0.3" stroke-width="1"/>
<circle cx="842.5" cy="666.8" r="3" fill="#2563eb" fill-opacity="0.3" stroke="#2563eb" stroke-opacity="0.3" stroke-width="1"/>
<circle cx="822.6" cy="682.5" r="3" fill="#2563eb" fill-opacity="0.3" stroke="#2563eb" stroke-opacity="0.3" stroke-width="1"/>
<circle cx="855.8" cy="664.4" r="3" fill="#2563eb" fill-opacity="0.3" stroke="#2563eb" stroke-opacity="0.3" stroke-width="1"/>
<circle cx="820.9" cy="659.6" r="3" fill="#2563eb" fill-opacity="0.3" stroke="#2563eb" stroke-opacity="0.3" stroke-width="1"/>
<circle cx="849.9" cy="649.6" r="3" fill="#2563eb" fill-opacity="0.3" stroke="#2563eb" stroke-opacity="0.3" stroke-width="1"/>
<circle cx="826.5" cy="669.5" r="3" fill="#2563eb" fill-opacity="0.3" stroke="#2563eb" stroke-opacity="0.3" stroke-width="1"/>
<circle cx="852.3" cy="677.7" r="3" fill="#2563eb" fill-opacity="0.3" stroke="#2563eb" stroke-opacity="0.3" stroke-width="1"/>
<circle cx="836.7" cy="666.2" r="3" fill="#2563eb" fill-opacity="0.3" stroke="#2563eb" stroke-opacity="0.3" stroke-width="1"/>
<circle cx="828.2" cy="663.6" r="3" fill="#2563eb" fill-opacity="0.3" stroke="#2563eb" stroke-opacity="0.3" stroke-width="1"/>
<circle cx="837.3" cy="657.4" r="3" fill="#2563eb" fill-opacity="0.3" stroke="#2563eb" stroke-opacity="0.3" stroke-width="1"/>
<circle cx="849.5" cy="680.6" r="3" fill="#2563eb" fill-opacity="0.3" stroke="#2563eb" stroke-opacity="0.3" stroke-width="1"/>
<circle cx="813.0" cy="668.7" r="3" fill="#2563eb" fill-opacity="0.3" stroke="#2563eb" stroke-opacity="0.3" stroke-width="1"/>
<circle cx="829.7" cy="661.9" r="3" fill="#2563eb" fill-opacity="0.3" stroke="#2563eb" stroke-opacity="0.3" stroke-width="1"/>
<circle cx="820.8" cy="668.2" r="3" fill="#2563eb" fill-opacity="0.3" stroke="#2563eb" stroke-opacity="0.3" stroke-width="1"/>
<circle cx="812.8" cy="673.4" r="3" fill="#2563eb" fill-opacity="0.3" stroke="#2563eb" stroke-opacity="0.3" stroke-width="1"/>
<circle cx="842.9" cy="653.7" r="3" fill="#2563eb" fill-opacity="0.3" stroke="#2563eb" stroke-opacity="0.3" stroke-width="1"/>
<circle cx="850.6" cy="672.0" r="3" fill="#2563eb" fill-opacity="0.3" stroke="#2563eb" stroke-opacity="0.3" stroke-width="1"/>
<circle cx="816.3" cy="652.6" r="3" fill="#2563eb" fill-opacity="0.3" stroke="#2563eb" stroke-opacity="0.3" stroke-width="1"/>
<circle cx="829.5" cy="666.2" r="3" fill="#2563eb" fill-opacity="0.3" stroke="#2563eb" stroke-opacity="0.3" stroke-width="1"/>
<circle cx="844.9" cy="657.0" r="3" fill="#2563eb" fill-opacity="0.3" stroke="#2563eb" stroke-opacity="0.3" stroke-width="1"/>
<circle cx="826.5" cy="668.1" r="3" fill="#2563eb" fill-opacity="0.3" stroke="#2563eb" stroke-opacity="0.3" stroke-width="1"/>
<circle cx="852.5" cy="666.9" r="3" fill="#2563eb" fill-opacity="0.3" stroke="#2563eb" stroke-opacity="0.3" stroke-width="1"/>
<circle cx="817.4" cy="659.5" r="3" fill="#2563eb" fill-opacity="0.3" stroke="#2563eb" stroke-opacity="0.3" stroke-width="1"/>
<circle cx="817.3" cy="673.4" r="3" fill="#2563eb" fill-opacity="0.3" stroke="#2563eb" stroke-opacity="0.3" stroke-width="1"/>
<circle cx="810.4" cy="653.3" r="3" fill="#2563eb" fill-opacity="0.3" stroke="#2563eb" stroke-opacity="0.3" stroke-width="1"/>
<circle cx="807.3" cy="668.8" r="3" fill="#2563eb" fill-opacity="0.3" stroke="#2563eb" stroke-opacity="0.3" stroke-width="1"/>
<circle cx="812.4" cy="653.5" r="3" fill="#2563eb" fill-opacity="0.3" stroke="#2563eb" stroke-opacity="0.3" stroke-width="1"/>
<circle cx="819.8" cy="670.6" r="3" fill="#2563eb" fill-opacity="0.3" stroke="#2563eb" stroke-opacity="0.3" stroke-width="1"/>
<circle cx="841.0" cy="674.3" r="3" fill="#2563eb" fill-opacity="0.3" stroke="#2563eb" stroke-opacity="0.3" stroke-width="1"/>
<circle cx="1020.2" cy="108.1" r="3" fill="#2563eb" fill-opacity="0.3" stroke="#2563eb" stroke-opacity="0.3" stroke-width="1"/>
<circle cx="978.2" cy="188.4" r="3" fill="#2563eb" fill-opacity="0.3" stroke="#2563eb" stroke-opacity="0.3" stroke-width="1"/>
<circle cx="998.2" cy="228.5" r="3" fill="#2563eb" fill-opacity="0.3" stroke="#2563eb" stroke-opacity="0.3" stroke-width="1"/>
<circle cx="1016.1" cy="261.6" r="3" fill="#2563eb" fill-opacity="0.3" stroke="#2563eb" stroke-opacity="0.3" stroke-width="1"/>
<circle cx="1012.3" cy="291.5" r="3" fill="#2563eb" fill-opacity="0.3" stroke="#2563eb" stroke-opacity="0.3" stroke-width="1"/>
<circle cx="1000.2" cy="330.6" r="3" fill="#2563eb" fill-opacity="0.3" stroke="#2563eb" stroke-opacity="0.3" stroke-width="1"/>
<circle cx="1004.5" cy="380.4" r="3" fill="#2563eb" fill-opacity="0.3" stroke="#2563eb" stroke-opacity="0.3" stroke-width="1"/>
<circle cx="993.4" cy="415.3" r="3" fill="#2563eb" fill-opacity="0.3" stroke="#2563eb" stroke-opacity="0.3" stroke-width="1"/>
<circle cx="982.4" cy="422.3" r="3" fill="#2563eb" fill-opacity="0.3" stroke="#2563eb" stroke-opacity="0.3" stroke-width="1"/>
<circle cx="1018.4" cy="422.3" r="3" fill="#2563eb" fill-opacity="0.3" stroke="#2563eb" stroke-opacity="0.3" stroke-width="1"/>
<circle cx="1003.2" cy="427.4" r="3" fill="#2563eb" fill-opacity="0.3" stroke="#2563eb" stroke-opacity="0.3" stroke-width="1"/>
<circle cx="1014.2" cy="440.1" r="3" fill="#2563eb" fill-opacity="0.3" stroke="#2563eb" stroke-opacity="0.3" stroke-width="1"/>
<circle cx="1020.4" cy="443.1" r="3" fill="#2563eb" fill-opacity="0.3" stroke="#2563eb" stroke-opacity="0.3" stroke-width="1"/>
<circle cx="988.3" cy="446.1" r="3" fill="#2563eb" fill-opacity="0.3" stroke="#2563eb" stroke-opacity="0.3" stroke-width="1"/>
<circle cx="1014.2" cy="447.1" r="3" fill="#2563eb" fill-opacity="0.3" stroke="#2563eb" stroke-opacity="0.3" stroke-width="1"/>
<circle cx="1001.5" cy="454.1" r="3" fill="#2563eb" fill-opacity="0.3" stroke="#2563eb" stroke-opacity="0.3" stroke-width="1"/>
<circle cx="1006.4" cy="459.2" r="3" fill="#2563eb" fill-opacity="0.3" stroke="#2563eb" stroke-opacity="0.3" stroke-width="1"/>
<circle cx="1012.5" cy="456.3" r="3" fill="#2563eb" fill-opacity="0.3" stroke="#2563eb" stroke-opacity="0.3" stroke-width="1"/>
<circle cx="975.4" cy="473.2" r="3" fill="#2563eb" fill-opacity="0.3" stroke="#2563eb" stroke-opacity="0.3" stroke-width="1"/>
<circle cx="988.3" cy="473.2" r="3" fill="#2563eb" fill-opacity="0.3" stroke="#2563eb" stroke-opacity="0.3" stroke-width="1"/>
<circle cx="1017.4" cy="472.2" r="3" fill="#2563eb" fill-opacity="0.3" stroke="#2563eb" stroke-opacity="0.3" stroke-width="1"/>
<circle cx="1022.7" cy="470.0" r="3" fill="#2563eb" fill-opacity="0.3" stroke="#2563eb" stroke-opacity="0.3" stroke-width="1"/>
<circle cx="1023.5" cy="476.2" r="3" fill="#2563eb" fill-opacity="0.3" stroke="#2563eb" stroke-opacity="0.3" stroke-width="1"/>
<circle cx="1012.5" cy="477.2" r="3" fill="#2563eb" fill-opacity="0.3" stroke="#2563eb" stroke-opacity="0.3" stroke-width="1"/>
<circle cx="984.3" cy="479.2" r="3" fill="#2563eb" fill-opacity="0.3" stroke="#2563eb" stroke-opacity="0.3" stroke-width="1"/>
<circle cx="1007.4" cy="481.3" r="3" fill="#2563eb" fill-opacity="0.3" stroke="#2563eb" stroke-opacity="0.3" stroke-width="1"/>
<circle cx="998.5" cy="481.3" r="3" fill="#2563eb" fill-opacity="0.3" stroke="#2563eb" stroke-opacity="0.3" stroke-width="1"/>
<circle cx="981.3" cy="483.4" r="3" fill="#2563eb" fill-opacity="0.3" stroke="#2563eb" stroke-opacity="0.3" stroke-width="1"/>
<circle cx="979.0" cy="486.4" r="3" fill="#2563eb" fill-opacity="0.3" stroke="#2563eb" stroke-opacity="0.3" stroke-width="1"/>
<circle cx="983.0" cy="488.5" r="3" fill="#2563eb" fill-opacity="0.3" stroke="#2563eb" stroke-opacity="0.3" stroke-width="1"/>
<circle cx="1005.3" cy="488.3" r="3" fill="#2563eb" fill-opacity="0.3" stroke="#2563eb" stroke-opacity="0.3" stroke-width="1"/>
<circle cx="990.9" cy="492.3" r="3" fill="#2563eb" fill-opacity="0.3" stroke="#2563eb" stroke-opacity="0.3" stroke-width="1"/>
<circle cx="994.3" cy="491.4" r="3" fill="#2563eb" fill-opacity="0.3" stroke="#2563eb" stroke-opacity="0.3" stroke-width="1"/>
<circle cx="994.3" cy="497.4" r="3" fill="#2563eb" fill-opacity="0.3" stroke="#2563eb" stroke-opacity="0.3" stroke-width="1"/>
<circle cx="1011.2" cy="501.2" r="3" fill="#2563eb" fill-opacity="0.3" stroke="#2563eb" stroke-opacity="0.3" stroke-width="1"/>
<circle cx="997.2" cy="503.3" r="3" fill="#2563eb" fill-opacity="0.3" stroke="#2563eb" stroke-opacity="0.3" stroke-width="1"/>
<circle cx="984.3" cy="506.3" r="3" fill="#2563eb" fill-opacity="0.3" stroke="#2563eb" stroke-opacity="0.3" stroke-width="1"/>
<circle cx="1000.4" cy="511.2" r="3" fill="#2563eb" fill-opacity="0.3" stroke="#2563eb" stroke-opacity="0.3" stroke-width="1"/>
<circle cx="1017.4" cy="510.1" r="3" fill="#2563eb" fill-opacity="0.3" stroke="#2563eb" stroke-opacity="0.3" stroke-width="1"/>
<circle cx="1014.2" cy="516.3" r="3" fill="#2563eb" fill-opacity="0.3" stroke="#2563eb" stroke-opacity="0.3" stroke-width="1"/>
<circle cx="1017.4" cy="514.3" r="3" fill="#2563eb" fill-opacity="0.3" stroke="#2563eb" stroke-opacity="0.3" stroke-width="1"/>
<circle cx="1019.5" cy="519.4" r="3" fill="#2563eb" fill-opacity="0.3" stroke="#2563eb" stroke-opacity="0.3" stroke-width="1"/>
<circle cx="1018.4" cy="523.3" r="3" fill="#2563eb" fill-opacity="0.3" stroke="#2563eb" stroke-opacity="0.3" stroke-width="1"/>
<circle cx="993.4" cy="520.3" r="3" fill="#2563eb" fill-opacity="0.3" stroke="#2563eb" stroke-opacity="0.3" stroke-width="1"/>
<circle cx="997.2" cy="523.3" r="3" fill="#2563eb" fill-opacity="0.3" stroke="#2563eb" stroke-opacity="0.3" stroke-width="1"/>
<circle cx="1008.3" cy="523.3" r="3" fill="#2563eb" fill-opacity="0.3" stroke="#2563eb" stroke-opacity="0.3" stroke-width="1"/>
<circle cx="1001.5" cy="527.5" r="3" fill="#2563eb" fill-opacity="0.3" stroke="#2563eb" stroke-opacity="0.3" stroke-width="1"/>
<circle cx="1007.4" cy="526.4" r="3" fill="#2563eb" fill-opacity="0.3" stroke="#2563eb" stroke-opacity="0.3" stroke-width="1"/>
<circle cx="1011.0" cy="529.0" r="3" fill="#2563eb" fill-opacity="0.3" stroke="#2563eb" stroke-opacity="0.3" stroke-width="1"/>
<circle cx="1014.2" cy="529.6" r="3" fill="#2563eb" fill-opacity="0.3" stroke="#2563eb" stroke-opacity="0.3" stroke-width="1"/>
<circle cx="1020.6" cy="529.6" r="3" fill="#2563eb" fill-opacity="0.3" stroke="#2563eb" stroke-opacity="0.3" stroke-width="1"/>
<circle cx="976.5" cy="531.7" r="3" fill="#2563eb" fill-opacity="0.3" stroke="#2563eb" stroke-opacity="0.3" stroke-width="1"/>
<circle cx="974.2" cy="648.3" r="3" fill="#2563eb" fill-opacity="0.3" stroke="#2563eb" stroke-opacity="0.3" stroke-width="1"/>
<circle cx="980.0" cy="645.3" r="3" fill="#2563eb" fill-opacity="0.3" stroke="#2563eb" stroke-opacity="0.3" stroke-width="1"/>
<circle cx="992.4" cy="650.4" r="3" fill="#2563eb" fill-opacity="0.3" stroke="#2563eb" stroke-opacity="0.3" stroke-width="1"/>
<circle cx="1006.5" cy="650.1" r="3" fill="#2563eb" fill-opacity="0.3" stroke="#2563eb" stroke-opacity="0.3" stroke-width="1"/>
<circle cx="1003.6" cy="653.0" r="3" fill="#2563eb" fill-opacity="0.3" stroke="#2563eb" stroke-opacity="0.3" stroke-width="1"/>
<circle cx="1002.4" cy="656.5" r="3" fill="#2563eb" fill-opacity="0.3" stroke="#2563eb" stroke-opacity="0.3" stroke-width="1"/>
<circle cx="1004.8" cy="658.9" r="3" fill="#2563eb" fill-opacity="0.3" stroke="#2563eb" stroke-opacity="0.3" stroke-width="1"/>
<circle cx="1010.7" cy="657.7" r="3" fill="#2563eb" fill-opacity="0.3" stroke="#2563eb" stroke-opacity="0.3" stroke-width="1"/>
<circle cx="1011.8" cy="661.2" r="3" fill="#2563eb" fill-opacity="0.3" stroke="#2563eb" stroke-opacity="0.3" stroke-width="1"/>
<circle cx="1020.7" cy="650.1" r="3" fill="#2563eb" fill-opacity="0.3" stroke="#2563eb" stroke-opacity="0.3" stroke-width="1"/>
<circle cx="1021.3" cy="661.2" r="3" fill="#2563eb" fill-opacity="0.3" stroke="#2563eb" stroke-opacity="0.3" stroke-width="1"/>
<circle cx="985.3" cy="661.8" r="3" fill="#2563eb" fill-opacity="0.3" stroke="#2563eb" stroke-opacity="0.3" stroke-width="1"/>
<circle cx="987.1" cy="667.1" r="3" fill="#2563eb" fill-opacity="0.3" stroke="#2563eb" stroke-opacity="0.3" stroke-width="1"/>
<circle cx="990.6" cy="670.7" r="3" fill="#2563eb" fill-opacity="0.3" stroke="#2563eb" stroke-opacity="0.3" stroke-width="1"/>
<circle cx="994.8" cy="666.0" r="3" fill="#2563eb" fill-opacity="0.3" stroke="#2563eb" stroke-opacity="0.3" stroke-width="1"/>
<circle cx="997.7" cy="669.5" r="3" fill="#2563eb" fill-opacity="0.3" stroke="#2563eb" stroke-opacity="0.3" stroke-width="1"/>
<circle cx="1000.1" cy="673.0" r="3" fill="#2563eb" fill-opacity="0.3" stroke="#2563eb" stroke-opacity="0.3" stroke-width="1"/>
<circle cx="1010.1" cy="667.1" r="3" fill="#2563eb" fill-opacity="0.3" stroke="#2563eb" stroke-opacity="0.3" stroke-width="1"/>
<circle cx="1013.0" cy="673.6" r="3" fill="#2563eb" fill-opacity="0.3" stroke="#2563eb" stroke-opacity="0.3" stroke-width="1"/>
<circle cx="1016.6" cy="675.4" r="3" fill="#2563eb" fill-opacity="0.3" stroke="#2563eb" stroke-opacity="0.3" stroke-width="1"/>
<circle cx="1022.4" cy="668.3" r="3" fill="#2563eb" fill-opacity="0.3" stroke="#2563eb" stroke-opacity="0.3" stroke-width="1"/>
<circle cx="1023.6" cy="673.0" r="3" fill="#2563eb" fill-opacity="0.3" stroke="#2563eb" stroke-opacity="0.3" stroke-width="1"/>
<circle cx="1023.6" cy="675.4" r="3" fill="#2563eb" fill-opacity="0.3" stroke="#2563eb" stroke-opacity="0.3" stroke-width="1"/>
<circle cx="975.3" cy="675.4" r="3" fill="#2563eb" fill-opacity="0.3" stroke="#2563eb" stroke-opacity="0.3" stroke-width="1"/>
<circle cx="977.7" cy="677.7" r="3" fill="#2563eb" fill-opacity="0.3" stroke="#2563eb" stroke-opacity="0.3" stroke-width="1"/>
<circle cx="983.0" cy="673.6" r="3" fill="#2563eb" fill-opacity="0.3" stroke="#2563eb" stroke-opacity="0.3" stroke-width="1"/>
<circle cx="985.3" cy="678.9" r="3" fill="#2563eb" fill-opacity="0.3" stroke="#2563eb" stroke-opacity="0.3" stroke-width="1"/>
<circle cx="993.6" cy="677.7" r="3" fill="#2563eb" fill-opacity="0.3" stroke="#2563eb" stroke-opacity="0.3" stroke-width="1"/>
<circle cx="1004.2" cy="680.1" r="3" fill="#2563eb" fill-opacity="0.3" stroke="#2563eb" stroke-opacity="0.3" stroke-width="1"/>
<circle cx="996.5" cy="676.6" r="3" fill="#2563eb" fill-opacity="0.3" stroke="#2563eb" stroke-opacity="0.3" stroke-width="1"/>
<circle cx="991.7" cy="555.8" r="3" fill="#2563eb" fill-opacity="0.3" stroke="#2563eb" stroke-opacity="0.3" stroke-width="1"/>
<circle cx="1004.9" cy="565.6" r="3" fill="#2563eb" fill-opacity="0.3" stroke="#2563eb" stroke-opacity="0.3" stroke-width="1"/>
<circle cx="1010.3" cy="586.3" r="3" fill="#2563eb" fill-opacity="0.3" stroke="#2563eb" stroke-opacity="0.3" stroke-width="1"/>
<circle cx="987.7" cy="564.4" r="3" fill="#2563eb" fill-opacity="0.3" stroke="#2563eb" stroke-opacity="0.3" stroke-width="1"/>
<circle cx="1012.3" cy="563.6" r="3" fill="#2563eb" fill-opacity="0.3" stroke="#2563eb" stroke-opacity="0.3" stroke-width="1"/>
<circle cx="1016.9" cy="578.7" r="3" fill="#2563eb" fill-opacity="0.3" stroke="#2563eb" stroke-opacity="0.3" stroke-width="1"/>
<circle cx="985.2" cy="581.9" r="3" fill="#2563eb" fill-opacity="0.3" stroke="#2563eb" stroke-opacity="0.3" stroke-width="1"/>
<circle cx="996.7" cy="595.7" r="3" fill="#2563eb" fill-opacity="0.3" stroke="#2563eb" stroke-opacity="0.3" stroke-width="1"/>
<circle cx="997.5" cy="560.9" r="3" fill="#2563eb" fill-opacity="0.3" stroke="#2563eb" stroke-opacity="0.3" stroke-width="1"/>
<circle cx="1010.6" cy="567.9" r="3" fill="#2563eb" fill-opacity="0.3" stroke="#2563eb" stroke-opacity="0.3" stroke-width="1"/>
<circle cx="980.3" cy="532.4" r="3" fill="#2563eb" fill-opacity="0.3" stroke="#2563eb" stroke-opacity="0.3" stroke-width="1"/>
<circle cx="997.5" cy="585.8" r="3" fill="#2563eb" fill-opacity="0.3" stroke="#2563eb" stroke-opacity="0.3" stroke-width="1"/>
<circle cx="1002.3" cy="565.7" r="3" fill="#2563eb" fill-opacity="0.3" stroke="#2563eb" stroke-opacity="0.3" stroke-width="1"/>
<circle cx="1014.6" cy="586.9" r="3" fill="#2563eb" fill-opacity="0.3" stroke="#2563eb" stroke-opacity="0.3" stroke-width="1"/>
<circle cx="1020.6" cy="579.7" r="3" fill="#2563eb" fill-opacity="0.3" stroke="#2563eb" stroke-opacity="0.3" stroke-width="1"/>
<circle cx="998.8" cy="551.7" r="3" fill="#2563eb" fill-opacity="0.3" stroke="#2563eb" stroke-opacity="0.3" stroke-width="1"/>
<circle cx="983.9" cy="556.3" r="3" fill="#2563eb" fill-opacity="0.3" stroke="#2563eb" stroke-opacity="0.3" stroke-width="1"/>
<circle cx="1015.1" cy="590.7" r="3" fill="#2563eb" fill-opacity="0.3" stroke="#2563eb" stroke-opacity="0.3" stroke-width="1"/>
<circle cx="984.9" cy="543.5" r="3" fill="#2563eb" fill-opacity="0.3" stroke="#2563eb" stroke-opacity="0.3" stroke-width="1"/>
<circle cx="1015.4" cy="558.5" r="3" fill="#2563eb" fill-opacity="0.3" stroke="#2563eb" stroke-opacity="0.3" stroke-width="1"/>
<circle cx="980.8" cy="557.1" r="3" fill="#2563eb" fill-opacity="0.3" stroke="#2563eb" stroke-opacity="0.3" stroke-width="1"/>
<circle cx="982.8" cy="557.5" r="3" fill="#2563eb" fill-opacity="0.3" stroke="#2563eb" stroke-opacity="0.3" stroke-width="1"/>
<circle cx="1001.3" cy="572.1" r="3" fill="#2563eb" fill-opacity="0.3" stroke="#2563eb" stroke-opacity="0.3" stroke-width="1"/>
<circle cx="1019.7" cy="544.3" r="3" fill="#2563eb" fill-opacity="0.3" stroke="#2563eb" stroke-opacity="0.3" stroke-width="1"/>
<circle cx="992.6" cy="591.1" r="3" fill="#2563eb" fill-opacity="0.3" stroke="#2563eb" stroke-opacity="0.3" stroke-width="1"/>
<circle cx="1019.3" cy="568.4" r="3" fill="#2563eb" fill-opacity="0.3" stroke="#2563eb" stroke-opacity="0.3" stroke-width="1"/>
<circle cx="997.1" cy="595.1" r="3" fill="#2563eb" fill-opacity="0.3" stroke="#2563eb" stroke-opacity="0.3" stroke-width="1"/>
<circle cx="1020.3" cy="563.9" r="3" fill="#2563eb" fill-opacity="0.3" stroke="#2563eb" stroke-opacity="0.3" stroke-width="1"/>
<circle cx="993.9" cy="540.3" r="3" fill="#2563eb" fill-opacity="0.3" stroke="#2563eb" stroke-opacity="0.3" stroke-width="1"/>
<circle cx="975.9" cy="550.3" r="3" fill="#2563eb" fill-opacity="0.3" stroke="#2563eb" stroke-opacity="0.3" stroke-width="1"/>
<circle cx="974.5" cy="588.5" r="3" fill="#2563eb" fill-opacity="0.3" stroke="#2563eb" stroke-opacity="0.3" stroke-width="1"/>
<circle cx="991.3" cy="547.9" r="3" fill="#2563eb" fill-opacity="0.3" stroke="#2563eb" stroke-opacity="0.3" stroke-width="1"/>
<circle cx="980.2" cy="537.1" r="3" fill="#2563eb" fill-opacity="0.3" stroke="#2563eb" stroke-opacity="0.3" stroke-width="1"/>
<circle cx="1020.7" cy="589.3" r="3" fill="#2563eb" fill-opacity="0.3" stroke="#2563eb" stroke-opacity="0.3" stroke-width="1"/>
<circle cx="979.7" cy="590.9" r="3" fill="#2563eb" fill-opacity="0.3" stroke="#2563eb" stroke-opacity="0.3" stroke-width="1"/>
<circle cx="1011.4" cy="575.4" r="3" fill="#2563eb" fill-opacity="0.3" stroke="#2563eb" stroke-opacity="0.3" stroke-width="1"/>
<circle cx="992.3" cy="575.2" r="3" fill="#2563eb" fill-opacity="0.3" stroke="#2563eb" stroke-opacity="0.3" stroke-width="1"/>
<circle cx="979.8" cy="541.0" r="3" fill="#2563eb" fill-opacity="0.3" stroke="#2563eb" stroke-opacity="0.3" stroke-width="1"/>
<circle cx="1003.1" cy="579.6" r="3" fill="#2563eb" fill-opacity="0.3" stroke="#2563eb" stroke-opacity="0.3" stroke-width="1"/>
<circle cx="1022.9" cy="584.1" r="3" fill="#2563eb" fill-opacity="0.3" stroke="#2563eb" stroke-opacity="0.3" stroke-width="1"/>
<circle cx="1019.6" cy="570.4" r="3" fill="#2563eb" fill-opacity="0.3" stroke="#2563eb" stroke-opacity="0.3" stroke-width="1"/>
<circle cx="1015.6" cy="570.7" r="3" fill="#2563eb" fill-opacity="0.3" stroke="#2563eb" stroke-opacity="0.3" stroke-width="1"/>
<circle cx="1014.9" cy="565.5" r="3" fill="#2563eb" fill-opacity="0.3" stroke="#2563eb" stroke-opacity="0.3" stroke-width="1"/>
<circle cx="1008.5" cy="537.6" r="3" fill="#2563eb" fill-opacity="0.3" stroke="#2563eb" stroke-opacity="0.3" stroke-width="1"/>
<circle cx="990.9" cy="543.2" r="3" fill="#2563eb" fill-opacity="0.3" stroke="#2563eb" stroke-opacity="0.3" stroke-width="1"/>
<circle cx="1010.7" cy="564.3" r="3" fill="#2563eb" fill-opacity="0.3" stroke="#2563eb" stroke-opacity="0.3" stroke-width="1"/>
<circle cx="990.0" cy="597.4" r="3" fill="#2563eb" fill-opacity="0.3" stroke="#2563eb" stroke-opacity="0.3" stroke-width="1"/>
<circle cx="1003.2" cy="541.5" r="3" fill="#2563eb" fill-opacity="0.3" stroke="#2563eb" stroke-opacity="0.3" stroke-width="1"/>
<circle cx="1017.8" cy="574.3" r="3" fill="#2563eb" fill-opacity="0.3" stroke="#2563eb" stroke-opacity="0.3" stroke-width="1"/>
<circle cx="978.9" cy="532.2" r="3" fill="#2563eb" fill-opacity="0.3" stroke="#2563eb" stroke-opacity="0.3" stroke-width="1"/>
<circle cx="1008.4" cy="582.9" r="3" fill="#2563eb" fill-opacity="0.3" stroke="#2563eb" stroke-opacity="0.3" stroke-width="1"/>
<circle cx="987.1" cy="559.6" r="3" fill="#2563eb" fill-opacity="0.3" stroke="#2563eb" stroke-opacity="0.3" stroke-width="1"/>
<circle cx="1023.5" cy="635.6" r="3" fill="#2563eb" fill-opacity="0.3" stroke="#2563eb" stroke-opacity="0.3" stroke-width="1"/>
<circle cx="985.4" cy="626.0" r="3" fill="#2563eb" fill-opacity="0.3" stroke="#2563eb" stroke-opacity="0.3" stroke-width="1"/>
<circle cx="989.1" cy="635.3" r="3" fill="#2563eb" fill-opacity="0.3" stroke="#2563eb" stroke-opacity="0.3" stroke-width="1"/>
<circle cx="996.3" cy="615.1" r="3" fill="#2563eb" fill-opacity="0.3" stroke="#2563eb" stroke-opacity="0.3" stroke-width="1"/>
<circle cx="980.6" cy="608.3" r="3" fill="#2563eb" fill-opacity="0.3" stroke="#2563eb" stroke-opacity="0.3" stroke-width="1"/>
<circle cx="1002.5" cy="633.0" r="3" fill="#2563eb" fill-opacity="0.3" stroke="#2563eb" stroke-opacity="0.3" stroke-width="1"/>
<circle cx="979.5" cy="636.3" r="3" fill="#2563eb" fill-opacity="0.3" stroke="#2563eb" stroke-opacity="0.3" stroke-width="1"/>
<circle cx="981.8" cy="616.4" r="3" fill="#2563eb" fill-opacity="0.3" stroke="#2563eb" stroke-opacity="0.3" stroke-width="1"/>
<circle cx="1010.3" cy="618.0" r="3" fill="#2563eb" fill-opacity="0.3" stroke="#2563eb" stroke-opacity="0.3" stroke-width="1"/>
<circle cx="999.4" cy="635.3" r="3" fill="#2563eb" fill-opacity="0.3" stroke="#2563eb" stroke-opacity="0.3" stroke-width="1"/>
<circle cx="983.7" cy="630.8" r="3" fill="#2563eb" fill-opacity="0.3" stroke="#2563eb" stroke-opacity="0.3" stroke-width="1"/>
<circle cx="998.3" cy="613.9" r="3" fill="#2563eb" fill-opacity="0.3" stroke="#2563eb" stroke-opacity="0.3" stroke-width="1"/>
<circle cx="1022.6" cy="634.6" r="3" fill="#2563eb" fill-opacity="0.3" stroke="#2563eb" stroke-opacity="0.3" stroke-width="1"/>
<circle cx="1020.5" cy="612.6" r="3" fill="#2563eb" fill-opacity="0.3" stroke="#2563eb" stroke-opacity="0.3" stroke-width="1"/>
<circle cx="1018.5" cy="607.6" r="3" fill="#2563eb" fill-opacity="0.3" stroke="#2563eb" stroke-opacity="0.3" stroke-width="1"/>
<circle cx="983.6" cy="610.2" r="3" fill="#2563eb" fill-opacity="0.3" stroke="#2563eb" stroke-opacity="0.3" stroke-width="1"/>
<circle cx="984.4" cy="607.4" r="3" fill="#2563eb" fill-opacity="0.3" stroke="#2563eb" stroke-opacity="0.3" stroke-width="1"/>
<circle cx="1016.8" cy="620.4" r="3" fill="#2563eb" fill-opacity="0.3" stroke="#2563eb" stroke-opacity="0.3" stroke-width="1"/>
<circle cx="1013.4" cy="635.1" r="3" fill="#2563eb" fill-opacity="0.3" stroke="#2563eb" stroke-opacity="0.3" stroke-width="1"/>
<circle cx="1017.1" cy="607.6" r="3" fill="#2563eb" fill-opacity="0.3" stroke="#2563eb" stroke-opacity="0.3" stroke-width="1"/>
<circle cx="986.1" cy="641.2" r="3" fill="#2563eb" fill-opacity="0.3" stroke="#2563eb" stroke-opacity="0.3" stroke-width="1"/>
<circle cx="1015.9" cy="606.3" r="3" fill="#2563eb" fill-opacity="0.3" stroke="#2563eb" stroke-opacity="0.3" stroke-width="1"/>
<circle cx="990.4" cy="609.3" r="3" fill="#2563eb" fill-opacity="0.3" stroke="#2563eb" stroke-opacity="0.3" stroke-width="1"/>
<circle cx="979.3" cy="641.5" r="3" fill="#2563eb" fill-opacity="0.3" stroke="#2563eb" stroke-opacity="0.3" stroke-width="1"/>
<circle cx="989.8" cy="604.6" r="3" fill="#2563eb" fill-opacity="0.3" stroke="#2563eb" stroke-opacity="0.3" stroke-width="1"/>
<circle cx="997.4" cy="616.9" r="3" fill="#2563eb" fill-opacity="0.3" stroke="#2563eb" stroke-opacity="0.3" stroke-width="1"/>
<circle cx="1017.6" cy="628.2" r="3" fill="#2563eb" fill-opacity="0.3" stroke="#2563eb" stroke-opacity="0.3" stroke-width="1"/>
<circle cx="1016.0" cy="627.8" r="3" fill="#2563eb" fill-opacity="0.3" stroke="#2563eb" stroke-opacity="0.3" stroke-width="1"/>
<circle cx="1013.5" cy="608.1" r="3" fill="#2563eb" fill-opacity="0.3" stroke="#2563eb" stroke-opacity="0.3" stroke-width="1"/>
<circle cx="981.3" cy="607.7" r="3" fill="#2563eb" fill-opacity="0.3" stroke="#2563eb" stroke-opacity="0.3" stroke-width="1"/>
<circle cx="1006.7" cy="602.3" r="3" fill="#2563eb" fill-opacity="0.3" stroke="#2563eb" stroke-opacity="0.3" stroke-width="1"/>
<circle cx="994.3" cy="632.8" r="3" fill="#2563eb" fill-opacity="0.3" stroke="#2563eb" stroke-opacity="0.3" stroke-width="1"/>
<circle cx="1017.3" cy="603.3" r="3" fill="#2563eb" fill-opacity="0.3" stroke="#2563eb" stroke-opacity="0.3" stroke-width="1"/>
<circle cx="1008.0" cy="604.1" r="3" fill="#2563eb" fill-opacity="0.3" stroke="#2563eb" stroke-opacity="0.3" stroke-width="1"/>
<circle cx="980.7" cy="602.6" r="3" fill="#2563eb" fill-opacity="0.3" stroke="#2563eb" stroke-opacity="0.3" stroke-width="1"/>
<circle cx="1018.9" cy="622.6" r="3" fill="#2563eb" fill-opacity="0.3" stroke="#2563eb" stroke-opacity="0.3" stroke-width="1"/>
<circle cx="1017.3" cy="634.8" r="3" fill="#2563eb" fill-opacity="0.3" stroke="#2563eb" stroke-opacity="0.3" stroke-width="1"/>
<circle cx="981.6" cy="635.8" r="3" fill="#2563eb" fill-opacity="0.3" stroke="#2563eb" stroke-opacity="0.3" stroke-width="1"/>
<circle cx="1017.7" cy="614.5" r="3" fill="#2563eb" fill-opacity="0.3" stroke="#2563eb" stroke-opacity="0.3" stroke-width="1"/>
<circle cx="1013.4" cy="632.4" r="3" fill="#2563eb" fill-opacity="0.3" stroke="#2563eb" stroke-opacity="0.3" stroke-width="1"/>
<circle cx="1023.3" cy="639.2" r="3" fill="#2563eb" fill-opacity="0.3" stroke="#2563eb" stroke-opacity="0.3" stroke-width="1"/>
<circle cx="998.2" cy="613.8" r="3" fill="#2563eb" fill-opacity="0.3" stroke="#2563eb" stroke-opacity="0.3" stroke-width="1"/>
<circle cx="986.9" cy="625.9" r="3" fill="#2563eb" fill-opacity="0.3" stroke="#2563eb" stroke-opacity="0.3" stroke-width="1"/>
<circle cx="991.9" cy="640.9" r="3" fill="#2563eb" fill-opacity="0.3" stroke="#2563eb" stroke-opacity="0.3" stroke-width="1"/>
<circle cx="1007.2" cy="621.0" r="3" fill="#2563eb" fill-opacity="0.3" stroke="#2563eb" stroke-opacity="0.3" stroke-width="1"/>
<circle cx="989.5" cy="600.6" r="3" fill="#2563eb" fill-opacity="0.3" stroke="#2563eb" stroke-opacity="0.3" stroke-width="1"/>
<circle cx="995.3" cy="605.8" r="3" fill="#2563eb" fill-opacity="0.3" stroke="#2563eb" stroke-opacity="0.3" stroke-width="1"/>
<circle cx="1008.6" cy="601.6" r="3" fill="#2563eb" fill-opacity="0.3" stroke="#2563eb" stroke-opacity="0.3" stroke-width="1"/>
<circle cx="1023.4" cy="636.1" r="3" fill="#2563eb" fill-opacity="0.3" stroke="#2563eb" stroke-opacity="0.3" stroke-width="1"/>
<circle cx="1015.2" cy="616.2" r="3" fill="#2563eb" fill-opacity="0.3" stroke="#2563eb" stroke-opacity="0.3" stroke-width="1"/>
<circle cx="991.2" cy="636.9" r="3" fill="#2563eb" fill-opacity="0.3" stroke="#2563eb" stroke-opacity="0.3" stroke-width="1"/>
<circle cx="1015.8" cy="632.0" r="3" fill="#2563eb" fill-opacity="0.3" stroke="#2563eb" stroke-opacity="0.3" stroke-width="1"/>
<circle cx="1019.9" cy="643.3" r="3" fill="#2563eb" fill-opacity="0.3" stroke="#2563eb" stroke-opacity="0.3" stroke-width="1"/>
<circle cx="1013.3" cy="679.3" r="3" fill="#2563eb" fill-opacity="0.3" stroke="#2563eb" stroke-opacity="0.3" stroke-width="1"/>
<circle cx="982.0" cy="655.2" r="3" fill="#2563eb" fill-opacity="0.3" stroke="#2563eb" stroke-opacity="0.3" stroke-width="1"/>
<circle cx="992.6" cy="643.4" r="3" fill="#2563eb" fill-opacity="0.3" stroke="#2563eb" stroke-opacity="0.3" stroke-width="1"/>
<circle cx="1013.8" cy="667.4" r="3" fill="#2563eb" fill-opacity="0.3" stroke="#2563eb" stroke-opacity="0.3" stroke-width="1"/>
<circle cx="1011.4" cy="672.1" r="3" fill="#2563eb" fill-opacity="0.3" stroke="#2563eb" stroke-opacity="0.3" stroke-width="1"/>
<circle cx="996.9" cy="674.7" r="3" fill="#2563eb" fill-opacity="0.3" stroke="#2563eb" stroke-opacity="0.3" stroke-width="1"/>
<circle cx="982.5" cy="654.0" r="3" fill="#2563eb" fill-opacity="0.3" stroke="#2563eb" stroke-opacity="0.3" stroke-width="1"/>
<circle cx="1170.3" cy="118.3" r="3" fill="#2563eb" fill-opacity="0.3" stroke="#2563eb" stroke-opacity="0.3" stroke-width="1"/>
<circle cx="1156.4" cy="264.4" r="3" fill="#2563eb" fill-opacity="0.3" stroke="#2563eb" stroke-opacity="0.3" stroke-width="1"/>
<circle cx="1186.3" cy="390.4" r="3" fill="#2563eb" fill-opacity="0.3" stroke="#2563eb" stroke-opacity="0.3" stroke-width="1"/>
<circle cx="1169.4" cy="397.1" r="3" fill="#2563eb" fill-opacity="0.3" stroke="#2563eb" stroke-opacity="0.3" stroke-width="1"/>
<circle cx="1158.3" cy="443.1" r="3" fill="#2563eb" fill-opacity="0.3" stroke="#2563eb" stroke-opacity="0.3" stroke-width="1"/>
<circle cx="1163.0" cy="447.2" r="3" fill="#2563eb" fill-opacity="0.3" stroke="#2563eb" stroke-opacity="0.3" stroke-width="1"/>
<circle cx="1144.3" cy="455.2" r="3" fill="#2563eb" fill-opacity="0.3" stroke="#2563eb" stroke-opacity="0.3" stroke-width="1"/>
<circle cx="1177.4" cy="452.3" r="3" fill="#2563eb" fill-opacity="0.3" stroke="#2563eb" stroke-opacity="0.3" stroke-width="1"/>
<circle cx="1187.4" cy="461.4" r="3" fill="#2563eb" fill-opacity="0.3" stroke="#2563eb" stroke-opacity="0.3" stroke-width="1"/>
<circle cx="1188.4" cy="466.3" r="3" fill="#2563eb" fill-opacity="0.3" stroke="#2563eb" stroke-opacity="0.3" stroke-width="1"/>
<circle cx="1178.9" cy="468.0" r="3" fill="#2563eb" fill-opacity="0.3" stroke="#2563eb" stroke-opacity="0.3" stroke-width="1"/>
<circle cx="1181.0" cy="467.1" r="3" fill="#2563eb" fill-opacity="0.3" stroke="#2563eb" stroke-opacity="0.3" stroke-width="1"/>
<circle cx="1174.2" cy="472.4" r="3" fill="#2563eb" fill-opacity="0.3" stroke="#2563eb" stroke-opacity="0.3" stroke-width="1"/>
<circle cx="1146.5" cy="472.0" r="3" fill="#2563eb" fill-opacity="0.3" stroke="#2563eb" stroke-opacity="0.3" stroke-width="1"/>
<circle cx="1145.6" cy="474.3" r="3" fill="#2563eb" fill-opacity="0.3" stroke="#2563eb" stroke-opacity="0.3" stroke-width="1"/>
<circle cx="1166.2" cy="478.3" r="3" fill="#2563eb" fill-opacity="0.3" stroke="#2563eb" stroke-opacity="0.3" stroke-width="1"/>
<circle cx="1188.4" cy="477.1" r="3" fill="#2563eb" fill-opacity="0.3" stroke="#2563eb" stroke-opacity="0.3" stroke-width="1"/>
<circle cx="1182.5" cy="480.0" r="3" fill="#2563eb" fill-opacity="0.3" stroke="#2563eb" stroke-opacity="0.3" stroke-width="1"/>
<circle cx="1177.4" cy="483.2" r="3" fill="#2563eb" fill-opacity="0.3" stroke="#2563eb" stroke-opacity="0.3" stroke-width="1"/>
<circle cx="1147.3" cy="487.0" r="3" fill="#2563eb" fill-opacity="0.3" stroke="#2563eb" stroke-opacity="0.3" stroke-width="1"/>
<circle cx="1153.3" cy="493.2" r="3" fill="#2563eb" fill-opacity="0.3" stroke="#2563eb" stroke-opacity="0.3" stroke-width="1"/>
<circle cx="1160.5" cy="492.1" r="3" fill="#2563eb" fill-opacity="0.3" stroke="#2563eb" stroke-opacity="0.3" stroke-width="1"/>
<circle cx="1168.5" cy="500.2" r="3" fill="#2563eb" fill-opacity="0.3" stroke="#2563eb" stroke-opacity="0.3" stroke-width="1"/>
<circle cx="1181.4" cy="499.1" r="3" fill="#2563eb" fill-opacity="0.3" stroke="#2563eb" stroke-opacity="0.3" stroke-width="1"/>
<circle cx="1175.3" cy="502.1" r="3" fill="#2563eb" fill-opacity="0.3" stroke="#2563eb" stroke-opacity="0.3" stroke-width="1"/>
<circle cx="1141.4" cy="506.1" r="3" fill="#2563eb" fill-opacity="0.3" stroke="#2563eb" stroke-opacity="0.3" stroke-width="1"/>
<circle cx="1153.3" cy="505.1" r="3" fill="#2563eb" fill-opacity="0.3" stroke="#2563eb" stroke-opacity="0.3" stroke-width="1"/>
<circle cx="1160.9" cy="505.1" r="3" fill="#2563eb" fill-opacity="0.3" stroke="#2563eb" stroke-opacity="0.3" stroke-width="1"/>
<circle cx="1163.9" cy="505.1" r="3" fill="#2563eb" fill-opacity="0.3" stroke="#2563eb" stroke-opacity="0.3" stroke-width="1"/>
<circle cx="1178.3" cy="508.2" r="3" fill="#2563eb" fill-opacity="0.3" stroke="#2563eb" stroke-opacity="0.3" stroke-width="1"/>
<circle cx="1147.3" cy="516.1" r="3" fill="#2563eb" fill-opacity="0.3" stroke="#2563eb" stroke-opacity="0.3" stroke-width="1"/>
<circle cx="1150.3" cy="519.0" r="3" fill="#2563eb" fill-opacity="0.3" stroke="#2563eb" stroke-opacity="0.3" stroke-width="1"/>
<circle cx="1158.3" cy="520.1" r="3" fill="#2563eb" fill-opacity="0.3" stroke="#2563eb" stroke-opacity="0.3" stroke-width="1"/>
<circle cx="1168.5" cy="518.4" r="3" fill="#2563eb" fill-opacity="0.3" stroke="#2563eb" stroke-opacity="0.3" stroke-width="1"/>
<circle cx="1168.9" cy="520.1" r="3" fill="#2563eb" fill-opacity="0.3" stroke="#2563eb" stroke-opacity="0.3" stroke-width="1"/>
<circle cx="1181.0" cy="516.1" r="3" fill="#2563eb" fill-opacity="0.3" stroke="#2563eb" stroke-opacity="0.3" stroke-width="1"/>
<circle cx="1180.4" cy="518.4" r="3" fill="#2563eb" fill-opacity="0.3" stroke="#2563eb" stroke-opacity="0.3" stroke-width="1"/>
<circle cx="1192.5" cy="517.1" r="3" fill="#2563eb" fill-opacity="0.3" stroke="#2563eb" stroke-opacity="0.3" stroke-width="1"/>
<circle cx="1151.8" cy="523.1" r="3" fill="#2563eb" fill-opacity="0.3" stroke="#2563eb" stroke-opacity="0.3" stroke-width="1"/>
<circle cx="1161.5" cy="525.2" r="3" fill="#2563eb" fill-opacity="0.3" stroke="#2563eb" stroke-opacity="0.3" stroke-width="1"/>
<circle cx="1150.3" cy="528.2" r="3" fill="#2563eb" fill-opacity="0.3" stroke="#2563eb" stroke-opacity="0.3" stroke-width="1"/>
<circle cx="1142.9" cy="530.3" r="3" fill="#2563eb" fill-opacity="0.3" stroke="#2563eb" stroke-opacity="0.3" stroke-width="1"/>
<circle cx="1171.5" cy="529.2" r="3" fill="#2563eb" fill-opacity="0.3" stroke="#2563eb" stroke-opacity="0.3" stroke-width="1"/>
<circle cx="1185.3" cy="526.3" r="3" fill="#2563eb" fill-opacity="0.3" stroke="#2563eb" stroke-opacity="0.3" stroke-width="1"/>
<circle cx="1148.2" cy="533.3" r="3" fill="#2563eb" fill-opacity="0.3" stroke="#2563eb" stroke-opacity="0.3" stroke-width="1"/>
<circle cx="1185.3" cy="532.2" r="3" fill="#2563eb" fill-opacity="0.3" stroke="#2563eb" stroke-opacity="0.3" stroke-width="1"/>
<circle cx="1151.8" cy="537.5" r="3" fill="#2563eb" fill-opacity="0.3" stroke="#2563eb" stroke-opacity="0.3" stroke-width="1"/>
<circle cx="1159.2" cy="540.0" r="3" fill="#2563eb" fill-opacity="0.3" stroke="#2563eb" stroke-opacity="0.3" stroke-width="1"/>
<circle cx="1166.8" cy="538.1" r="3" fill="#2563eb" fill-opacity="0.3" stroke="#2563eb" stroke-opacity="0.3" stroke-width="1"/>
<circle cx="1177.4" cy="538.1" r="3" fill="#2563eb" fill-opacity="0.3" stroke="#2563eb" stroke-opacity="0.3" stroke-width="1"/>
<circle cx="1172.5" cy="535.8" r="3" fill="#2563eb" fill-opacity="0.3" stroke="#2563eb" stroke-opacity="0.3" stroke-width="1"/>
<circle cx="1152.4" cy="543.9" r="3" fill="#2563eb" fill-opacity="0.3" stroke="#2563eb" stroke-opacity="0.3" stroke-width="1"/>
<circle cx="1175.3" cy="544.3" r="3" fill="#2563eb" fill-opacity="0.3" stroke="#2563eb" stroke-opacity="0.3" stroke-width="1"/>
<circle cx="1182.5" cy="543.9" r="3" fill="#2563eb" fill-opacity="0.3" stroke="#2563eb" stroke-opacity="0.3" stroke-width="1"/>
<circle cx="1157.7" cy="570.8" r="3" fill="#2563eb" fill-opacity="0.3" stroke="#2563eb" stroke-opacity="0.3" stroke-width="1"/>
<circle cx="1184.7" cy="565.9" r="3" fill="#2563eb" fill-opacity="0.3" stroke="#2563eb" stroke-opacity="0.3" stroke-width="1"/>
<circle cx="1183.9" cy="547.7" r="3" fill="#2563eb" fill-opacity="0.3" stroke="#2563eb" stroke-opacity="0.3" stroke-width="1"/>
<circle cx="1183.8" cy="586.8" r="3" fill="#2563eb" fill-opacity="0.3" stroke="#2563eb" stroke-opacity="0.3" stroke-width="1"/>
<circle cx="1150.6" cy="549.3" r="3" fill="#2563eb" fill-opacity="0.3" stroke="#2563eb" stroke-opacity="0.3" stroke-width="1"/>
<circle cx="1148.7" cy="579.3" r="3" fill="#2563eb" fill-opacity="0.3" stroke="#2563eb" stroke-opacity="0.3" stroke-width="1"/>
<circle cx="1161.0" cy="559.6" r="3" fill="#2563eb" fill-opacity="0.3" stroke="#2563eb" stroke-opacity="0.3" stroke-width="1"/>
<circle cx="1171.0" cy="566.0" r="3" fill="#2563eb" fill-opacity="0.3" stroke="#2563eb" stroke-opacity="0.3" stroke-width="1"/>
<circle cx="1155.4" cy="561.4" r="3" fill="#2563eb" fill-opacity="0.3" stroke="#2563eb" stroke-opacity="0.3" stroke-width="1"/>
<circle cx="1155.9" cy="560.1" r="3" fill="#2563eb" fill-opacity="0.3" stroke="#2563eb" stroke-opacity="0.3" stroke-width="1"/>
<circle cx="1153.6" cy="582.3" r="3" fill="#2563eb" fill-opacity="0.3" stroke="#2563eb" stroke-opacity="0.3" stroke-width="1"/>
<circle cx="1180.0" cy="558.0" r="3" fill="#2563eb" fill-opacity="0.3" stroke="#2563eb" stroke-opacity="0.3" stroke-width="1"/>
<circle cx="1169.6" cy="578.7" r="3" fill="#2563eb" fill-opacity="0.3" stroke="#2563eb" stroke-opacity="0.3" stroke-width="1"/>
<circle cx="1166.1" cy="585.7" r="3" fill="#2563eb" fill-opacity="0.3" stroke="#2563eb" stroke-opacity="0.3" stroke-width="1"/>
<circle cx="1167.6" cy="560.9" r="3" fill="#2563eb" fill-opacity="0.3" stroke="#2563eb" stroke-opacity="0.3" stroke-width="1"/>
<circle cx="1189.2" cy="568.9" r="3" fill="#2563eb" fill-opacity="0.3" stroke="#2563eb" stroke-opacity="0.3" stroke-width="1"/>
<circle cx="1170.5" cy="585.7" r="3" fill="#2563eb" fill-opacity="0.3" stroke="#2563eb" stroke-opacity="0.3" stroke-width="1"/>
<circle cx="1156.5" cy="554.8" r="3" fill="#2563eb" fill-opacity="0.3" stroke="#2563eb" stroke-opacity="0.3" stroke-width="1"/>
<circle cx="1173.3" cy="551.9" r="3" fill="#2563eb" fill-opacity="0.3" stroke="#2563eb" stroke-opacity="0.3" stroke-width="1"/>
<circle cx="1168.7" cy="560.2" r="3" fill="#2563eb" fill-opacity="0.3" stroke="#2563eb" stroke-opacity="0.3" stroke-width="1"/>
<circle cx="1190.7" cy="576.6" r="3" fill="#2563eb" fill-opacity="0.3" stroke="#2563eb" stroke-opacity="0.3" stroke-width="1"/>
<circle cx="1160.4" cy="558.6" r="3" fill="#2563eb" fill-opacity="0.3" stroke="#2563eb" stroke-opacity="0.3" stroke-width="1"/>
<circle cx="1148.7" cy="585.4" r="3" fill="#2563eb" fill-opacity="0.3" stroke="#2563eb" stroke-opacity="0.3" stroke-width="1"/>
<circle cx="1152.1" cy="573.6" r="3" fill="#2563eb" fill-opacity="0.3" stroke="#2563eb" stroke-opacity="0.3" stroke-width="1"/>
<circle cx="1178.3" cy="562.7" r="3" fill="#2563eb" fill-opacity="0.3" stroke="#2563eb" stroke-opacity="0.3" stroke-width="1"/>
<circle cx="1182.2" cy="586.9" r="3" fill="#2563eb" fill-opacity="0.3" stroke="#2563eb" stroke-opacity="0.3" stroke-width="1"/>
<circle cx="1168.3" cy="572.0" r="3" fill="#2563eb" fill-opacity="0.3" stroke="#2563eb" stroke-opacity="0.3" stroke-width="1"/>
<circle cx="1155.6" cy="569.4" r="3" fill="#2563eb" fill-opacity="0.3" stroke="#2563eb" stroke-opacity="0.3" stroke-width="1"/>
<circle cx="1177.4" cy="570.3" r="3" fill="#2563eb" fill-opacity="0.3" stroke="#2563eb" stroke-opacity="0.3" stroke-width="1"/>
<circle cx="1191.0" cy="585.1" r="3" fill="#2563eb" fill-opacity="0.3" stroke="#2563eb" stroke-opacity="0.3" stroke-width="1"/>
<circle cx="1186.4" cy="558.8" r="3" fill="#2563eb" fill-opacity="0.3" stroke="#2563eb" stroke-opacity="0.3" stroke-width="1"/>
<circle cx="1144.9" cy="570.2" r="3" fill="#2563eb" fill-opacity="0.3" stroke="#2563eb" stroke-opacity="0.3" stroke-width="1"/>
<circle cx="1144.2" cy="558.3" r="3" fill="#2563eb" fill-opacity="0.3" stroke="#2563eb" stroke-opacity="0.3" stroke-width="1"/>
<circle cx="1185.9" cy="581.8" r="3" fill="#2563eb" fill-opacity="0.3" stroke="#2563eb" stroke-opacity="0.3" stroke-width="1"/>
<circle cx="1153.4" cy="578.9" r="3" fill="#2563eb" fill-opacity="0.3" stroke="#2563eb" stroke-opacity="0.3" stroke-width="1"/>
<circle cx="1158.1" cy="586.2" r="3" fill="#2563eb" fill-opacity="0.3" stroke="#2563eb" stroke-opacity="0.3" stroke-width="1"/>
<circle cx="1171.8" cy="547.4" r="3" fill="#2563eb" fill-opacity="0.3" stroke="#2563eb" stroke-opacity="0.3" stroke-width="1"/>
<circle cx="1169.8" cy="562.8" r="3" fill="#2563eb" fill-opacity="0.3" stroke="#2563eb" stroke-opacity="0.3" stroke-width="1"/>
<circle cx="1169.1" cy="583.6" r="3" fill="#2563eb" fill-opacity="0.3" stroke="#2563eb" stroke-opacity="0.3" stroke-width="1"/>
<circle cx="1156.4" cy="557.2" r="3" fill="#2563eb" fill-opacity="0.3" stroke="#2563eb" stroke-opacity="0.3" stroke-width="1"/>
<circle cx="1182.4" cy="588.9" r="3" fill="#2563eb" fill-opacity="0.3" stroke="#2563eb" stroke-opacity="0.3" stroke-width="1"/>
<circle cx="1176.6" cy="548.8" r="3" fill="#2563eb" fill-opacity="0.3" stroke="#2563eb" stroke-opacity="0.3" stroke-width="1"/>
<circle cx="1165.0" cy="586.6" r="3" fill="#2563eb" fill-opacity="0.3" stroke="#2563eb" stroke-opacity="0.3" stroke-width="1"/>
<circle cx="1190.0" cy="547.4" r="3" fill="#2563eb" fill-opacity="0.3" stroke="#2563eb" stroke-opacity="0.3" stroke-width="1"/>
<circle cx="1168.2" cy="559.1" r="3" fill="#2563eb" fill-opacity="0.3" stroke="#2563eb" stroke-opacity="0.3" stroke-width="1"/>
<circle cx="1144.1" cy="589.6" r="3" fill="#2563eb" fill-opacity="0.3" stroke="#2563eb" stroke-opacity="0.3" stroke-width="1"/>
<circle cx="1149.2" cy="545.7" r="3" fill="#2563eb" fill-opacity="0.3" stroke="#2563eb" stroke-opacity="0.3" stroke-width="1"/>
<circle cx="1166.1" cy="565.2" r="3" fill="#2563eb" fill-opacity="0.3" stroke="#2563eb" stroke-opacity="0.3" stroke-width="1"/>
<circle cx="1175.6" cy="574.8" r="3" fill="#2563eb" fill-opacity="0.3" stroke="#2563eb" stroke-opacity="0.3" stroke-width="1"/>
<circle cx="1153.4" cy="580.8" r="3" fill="#2563eb" fill-opacity="0.3" stroke="#2563eb" stroke-opacity="0.3" stroke-width="1"/>
<circle cx="1166.1" cy="557.8" r="3" fill="#2563eb" fill-opacity="0.3" stroke="#2563eb" stroke-opacity="0.3" stroke-width="1"/>
<circle cx="1151.1" cy="553.2" r="3" fill="#2563eb" fill-opacity="0.3" stroke="#2563eb" stroke-opacity="0.3" stroke-width="1"/>
<circle cx="1164.4" cy="585.7" r="3" fill="#2563eb" fill-opacity="0.3" stroke="#2563eb" stroke-opacity="0.3" stroke-width="1"/>
<circle cx="1164.4" cy="575.9" r="3" fill="#2563eb" fill-opacity="0.3" stroke="#2563eb" stroke-opacity="0.3" stroke-width="1"/>
<circle cx="1182.3" cy="596.7" r="3" fill="#2563eb" fill-opacity="0.3" stroke="#2563eb" stroke-opacity="0.3" stroke-width="1"/>
<circle cx="1186.5" cy="615.4" r="3" fill="#2563eb" fill-opacity="0.3" stroke="#2563eb" stroke-opacity="0.3" stroke-width="1"/>
<circle cx="1187.0" cy="600.5" r="3" fill="#2563eb" fill-opacity="0.3" stroke="#2563eb" stroke-opacity="0.3" stroke-width="1"/>
<circle cx="1147.1" cy="601.5" r="3" fill="#2563eb" fill-opacity="0.3" stroke="#2563eb" stroke-opacity="0.3" stroke-width="1"/>
<circle cx="1173.8" cy="604.9" r="3" fill="#2563eb" fill-opacity="0.3" stroke="#2563eb" stroke-opacity="0.3" stroke-width="1"/>
<circle cx="1158.4" cy="609.4" r="3" fill="#2563eb" fill-opacity="0.3" stroke="#2563eb" stroke-opacity="0.3" stroke-width="1"/>
<circle cx="1167.7" cy="614.8" r="3" fill="#2563eb" fill-opacity="0.3" stroke="#2563eb" stroke-opacity="0.3" stroke-width="1"/>
<circle cx="1169.7" cy="616.6" r="3" fill="#2563eb" fill-opacity="0.3" stroke="#2563eb" stroke-opacity="0.3" stroke-width="1"/>
<circle cx="1190.5" cy="614.6" r="3" fill="#2563eb" fill-opacity="0.3" stroke="#2563eb" stroke-opacity="0.3" stroke-width="1"/>
<circle cx="1186.3" cy="615.1" r="3" fill="#2563eb" fill-opacity="0.3" stroke="#2563eb" stroke-opacity="0.3" stroke-width="1"/>
<circle cx="1178.0" cy="609.6" r="3" fill="#2563eb" fill-opacity="0.3" stroke="#2563eb" stroke-opacity="0.3" stroke-width="1"/>
<circle cx="1179.8" cy="592.0" r="3" fill="#2563eb" fill-opacity="0.3" stroke="#2563eb" stroke-opacity="0.3" stroke-width="1"/>
<circle cx="1145.6" cy="608.0" r="3" fill="#2563eb" fill-opacity="0.3" stroke="#2563eb" stroke-opacity="0.3" stroke-width="1"/>
<circle cx="1179.3" cy="598.2" r="3" fill="#2563eb" fill-opacity="0.3" stroke="#2563eb" stroke-opacity="0.3" stroke-width="1"/>
<circle cx="1162.3" cy="592.2" r="3" fill="#2563eb" fill-opacity="0.3" stroke="#2563eb" stroke-opacity="0.3" stroke-width="1"/>
<circle cx="1182.0" cy="614.4" r="3" fill="#2563eb" fill-opacity="0.3" stroke="#2563eb" stroke-opacity="0.3" stroke-width="1"/>
<circle cx="1180.3" cy="611.5" r="3" fill="#2563eb" fill-opacity="0.3" stroke="#2563eb" stroke-opacity="0.3" stroke-width="1"/>
<circle cx="1178.8" cy="614.5" r="3" fill="#2563eb" fill-opacity="0.3" stroke="#2563eb" stroke-opacity="0.3" stroke-width="1"/>
<circle cx="1142.5" cy="601.0" r="3" fill="#2563eb" fill-opacity="0.3" stroke="#2563eb" stroke-opacity="0.3" stroke-width="1"/>
<circle cx="1165.7" cy="604.5" r="3" fill="#2563eb" fill-opacity="0.3" stroke="#2563eb" stroke-opacity="0.3" stroke-width="1"/>
<circle cx="1186.1" cy="604.8" r="3" fill="#2563eb" fill-opacity="0.3" stroke="#2563eb" stroke-opacity="0.3" stroke-width="1"/>
<circle cx="1148.3" cy="609.5" r="3" fill="#2563eb" fill-opacity="0.3" stroke="#2563eb" stroke-opacity="0.3" stroke-width="1"/>
<circle cx="1151.3" cy="593.7" r="3" fill="#2563eb" fill-opacity="0.3" stroke="#2563eb" stroke-opacity="0.3" stroke-width="1"/>
<circle cx="1159.2" cy="606.8" r="3" fill="#2563eb" fill-opacity="0.3" stroke="#2563eb" stroke-opacity="0.3" stroke-width="1"/>
<circle cx="1150.5" cy="600.5" r="3" fill="#2563eb" fill-opacity="0.3" stroke="#2563eb" stroke-opacity="0.3" stroke-width="1"/>
<circle cx="1151.0" cy="595.6" r="3" fill="#2563eb" fill-opacity="0.3" stroke="#2563eb" stroke-opacity="0.3" stroke-width="1"/>
<circle cx="1144.7" cy="595.0" r="3" fill="#2563eb" fill-opacity="0.3" stroke="#2563eb" stroke-opacity="0.3" stroke-width="1"/>
<circle cx="1156.6" cy="590.4" r="3" fill="#2563eb" fill-opacity="0.3" stroke="#2563eb" stroke-opacity="0.3" stroke-width="1"/>
<circle cx="1159.2" cy="591.2" r="3" fill="#2563eb" fill-opacity="0.3" stroke="#2563eb" stroke-opacity="0.3" stroke-width="1"/>
<circle cx="1155.0" cy="620.2" r="3" fill="#2563eb" fill-opacity="0.3" stroke="#2563eb" stroke-opacity="0.3" stroke-width="1"/>
<circle cx="1155.8" cy="597.8" r="3" fill="#2563eb" fill-opacity="0.3" stroke="#2563eb" stroke-opacity="0.3" stroke-width="1"/>
<circle cx="1172.1" cy="607.2" r="3" fill="#2563eb" fill-opacity="0.3" stroke="#2563eb" stroke-opacity="0.3" stroke-width="1"/>
<circle cx="1159.2" cy="591.5" r="3" fill="#2563eb" fill-opacity="0.3" stroke="#2563eb" stroke-opacity="0.3" stroke-width="1"/>
<circle cx="1160.8" cy="606.2" r="3" fill="#2563eb" fill-opacity="0.3" stroke="#2563eb" stroke-opacity="0.3" stroke-width="1"/>
<circle cx="1179.0" cy="603.3" r="3" fill="#2563eb" fill-opacity="0.3" stroke="#2563eb" stroke-opacity="0.3" stroke-width="1"/>
<circle cx="1185.2" cy="610.3" r="3" fill="#2563eb" fill-opacity="0.3" stroke="#2563eb" stroke-opacity="0.3" stroke-width="1"/>
<circle cx="1148.0" cy="607.6" r="3" fill="#2563eb" fill-opacity="0.3" stroke="#2563eb" stroke-opacity="0.3" stroke-width="1"/>
<circle cx="1172.9" cy="619.5" r="3" fill="#2563eb" fill-opacity="0.3" stroke="#2563eb" stroke-opacity="0.3" stroke-width="1"/>
<circle cx="1158.8" cy="601.3" r="3" fill="#2563eb" fill-opacity="0.3" stroke="#2563eb" stroke-opacity="0.3" stroke-width="1"/>
<circle cx="1164.7" cy="606.8" r="3" fill="#2563eb" fill-opacity="0.3" stroke="#2563eb" stroke-opacity="0.3" stroke-width="1"/>
<circle cx="1166.2" cy="610.6" r="3" fill="#2563eb" fill-opacity="0.3" stroke="#2563eb" stroke-opacity="0.3" stroke-width="1"/>
<circle cx="1164.9" cy="607.4" r="3" fill="#2563eb" fill-opacity="0.3" stroke="#2563eb" stroke-opacity="0.3" stroke-width="1"/>
<circle cx="1178.7" cy="605.4" r="3" fill="#2563eb" fill-opacity="0.3" stroke="#2563eb" stroke-opacity="0.3" stroke-width="1"/>
<circle cx="1153.5" cy="599.5" r="3" fill="#2563eb" fill-opacity="0.3" stroke="#2563eb" stroke-opacity="0.3" stroke-width="1"/>
<circle cx="1185.0" cy="616.0" r="3" fill="#2563eb" fill-opacity="0.3" stroke="#2563eb" stroke-opacity="0.3" stroke-width="1"/>
<circle cx="1171.9" cy="603.4" r="3" fill="#2563eb" fill-opacity="0.3" stroke="#2563eb" stroke-opacity="0.3" stroke-width="1"/>
<circle cx="1143.7" cy="602.9" r="3" fill="#2563eb" fill-opacity="0.3" stroke="#2563eb" stroke-opacity="0.3" stroke-width="1"/>
<circle cx="1173.9" cy="617.3" r="3" fill="#2563eb" fill-opacity="0.3" stroke="#2563eb" stroke-opacity="0.3" stroke-width="1"/>
<circle cx="1186.5" cy="600.1" r="3" fill="#2563eb" fill-opacity="0.3" stroke="#2563eb" stroke-opacity="0.3" stroke-width="1"/>
<circle cx="1168.2" cy="594.5" r="3" fill="#2563eb" fill-opacity="0.3" stroke="#2563eb" stroke-opacity="0.3" stroke-width="1"/>
<circle cx="1171.3" cy="618.0" r="3" fill="#2563eb" fill-opacity="0.3" stroke="#2563eb" stroke-opacity="0.3" stroke-width="1"/>
<circle cx="1188.5" cy="594.8" r="3" fill="#2563eb" fill-opacity="0.3" stroke="#2563eb" stroke-opacity="0.3" stroke-width="1"/>
<circle cx="1155.2" cy="606.4" r="3" fill="#2563eb" fill-opacity="0.3" stroke="#2563eb" stroke-opacity="0.3" stroke-width="1"/>
<circle cx="1165.1" cy="605.5" r="3" fill="#2563eb" fill-opacity="0.3" stroke="#2563eb" stroke-opacity="0.3" stroke-width="1"/>
<circle cx="1146.3" cy="654.2" r="3" fill="#2563eb" fill-opacity="0.3" stroke="#2563eb" stroke-opacity="0.3" stroke-width="1"/>
<circle cx="1176.9" cy="675.8" r="3" fill="#2563eb" fill-opacity="0.3" stroke="#2563eb" stroke-opacity="0.3" stroke-width="1"/>
<circle cx="1153.6" cy="639.9" r="3" fill="#2563eb" fill-opacity="0.3" stroke="#2563eb" stroke-opacity="0.3" stroke-width="1"/>
<circle cx="1174.5" cy="631.7" r="3" fill="#2563eb" fill-opacity="0.3" stroke="#2563eb" stroke-opacity="0.3" stroke-width="1"/>
<circle cx="1175.5" cy="657.4" r="3" fill="#2563eb" fill-opacity="0.3" stroke="#2563eb" stroke-opacity="0.3" stroke-width="1"/>
<circle cx="1145.6" cy="645.3" r="3" fill="#2563eb" fill-opacity="0.3" stroke="#2563eb" stroke-opacity="0.3" stroke-width="1"/>
<circle cx="1190.8" cy="657.4" r="3" fill="#2563eb" fill-opacity="0.3" stroke="#2563eb" stroke-opacity="0.3" stroke-width="1"/>
<circle cx="1183.4" cy="622.7" r="3" fill="#2563eb" fill-opacity="0.3" stroke="#2563eb" stroke-opacity="0.3" stroke-width="1"/>
<circle cx="1161.4" cy="672.3" r="3" fill="#2563eb" fill-opacity="0.3" stroke="#2563eb" stroke-opacity="0.3" stroke-width="1"/>
<circle cx="1184.6" cy="670.7" r="3" fill="#2563eb" fill-opacity="0.3" stroke="#2563eb" stroke-opacity="0.3" stroke-width="1"/>
<circle cx="1173.2" cy="622.2" r="3" fill="#2563eb" fill-opacity="0.3" stroke="#2563eb" stroke-opacity="0.3" stroke-width="1"/>
<circle cx="1172.1" cy="622.7" r="3" fill="#2563eb" fill-opacity="0.3" stroke="#2563eb" stroke-opacity="0.3" stroke-width="1"/>
<circle cx="1176.7" cy="659.1" r="3" fill="#2563eb" fill-opacity="0.3" stroke="#2563eb" stroke-opacity="0.3" stroke-width="1"/>
<circle cx="1180.9" cy="666.3" r="3" fill="#2563eb" fill-opacity="0.3" stroke="#2563eb" stroke-opacity="0.3" stroke-width="1"/>
<circle cx="1162.9" cy="622.5" r="3" fill="#2563eb" fill-opacity="0.3" stroke="#2563eb" stroke-opacity="0.3" stroke-width="1"/>
<circle cx="1142.5" cy="656.5" r="3" fill="#2563eb" fill-opacity="0.3" stroke="#2563eb" stroke-opacity="0.3" stroke-width="1"/>
<circle cx="1149.9" cy="633.9" r="3" fill="#2563eb" fill-opacity="0.3" stroke="#2563eb" stroke-opacity="0.3" stroke-width="1"/>
<circle cx="1156.3" cy="629.9" r="3" fill="#2563eb" fill-opacity="0.3" stroke="#2563eb" stroke-opacity="0.3" stroke-width="1"/>
<circle cx="1189.0" cy="678.7" r="3" fill="#2563eb" fill-opacity="0.3" stroke="#2563eb" stroke-opacity="0.3" stroke-width="1"/>
<circle cx="1177.2" cy="662.5" r="3" fill="#2563eb" fill-opacity="0.3" stroke="#2563eb" stroke-opacity="0.3" stroke-width="1"/>
<circle cx="1181.6" cy="628.7" r="3" fill="#2563eb" fill-opacity="0.3" stroke="#2563eb" stroke-opacity="0.3" stroke-width="1"/>
<circle cx="1174.3" cy="629.7" r="3" fill="#2563eb" fill-opacity="0.3" stroke="#2563eb" stroke-opacity="0.3" stroke-width="1"/>
<circle cx="1163.0" cy="626.0" r="3" fill="#2563eb" fill-opacity="0.3" stroke="#2563eb" stroke-opacity="0.3" stroke-width="1"/>
<circle cx="1181.6" cy="673.1" r="3" fill="#2563eb" fill-opacity="0.3" stroke="#2563eb" stroke-opacity="0.3" stroke-width="1"/>
<circle cx="1191.0" cy="630.5" r="3" fill="#2563eb" fill-opacity="0.3" stroke="#2563eb" stroke-opacity="0.3" stroke-width="1"/>
<circle cx="1176.7" cy="642.2" r="3" fill="#2563eb" fill-opacity="0.3" stroke="#2563eb" stroke-opacity="0.3" stroke-width="1"/>
<circle cx="1148.4" cy="671.2" r="3" fill="#2563eb" fill-opacity="0.3" stroke="#2563eb" stroke-opacity="0.3" stroke-width="1"/>
<circle cx="1188.6" cy="657.1" r="3" fill="#2563eb" fill-opacity="0.3" stroke="#2563eb" stroke-opacity="0.3" stroke-width="1"/>
<circle cx="1160.6" cy="641.3" r="3" fill="#2563eb" fill-opacity="0.3" stroke="#2563eb" stroke-opacity="0.3" stroke-width="1"/>
<circle cx="1178.6" cy="646.3" r="3" fill="#2563eb" fill-opacity="0.3" stroke="#2563eb" stroke-opacity="0.3" stroke-width="1"/>
<circle cx="1155.2" cy="639.8" r="3" fill="#2563eb" fill-opacity="0.3" stroke="#2563eb" stroke-opacity="0.3" stroke-width="1"/>
<circle cx="1153.1" cy="674.7" r="3" fill="#2563eb" fill-opacity="0.3" stroke="#2563eb" stroke-opacity="0.3" stroke-width="1"/>
<circle cx="1185.6" cy="650.0" r="3" fill="#2563eb" fill-opacity="0.3" stroke="#2563eb" stroke-opacity="0.3" stroke-width="1"/>
<circle cx="1184.8" cy="641.5" r="3" fill="#2563eb" fill-opacity="0.3" stroke="#2563eb" stroke-opacity="0.3" stroke-width="1"/>
<circle cx="1163.2" cy="642.4" r="3" fill="#2563eb" fill-opacity="0.3" stroke="#2563eb" stroke-opacity="0.3" stroke-width="1"/>
<circle cx="1179.0" cy="651.5" r="3" fill="#2563eb" fill-opacity="0.3" stroke="#2563eb" stroke-opacity="0.3" stroke-width="1"/>
<circle cx="1147.7" cy="644.0" r="3" fill="#2563eb" fill-opacity="0.3" stroke="#2563eb" stroke-opacity="0.3" stroke-width="1"/>
<circle cx="1181.4" cy="630.0" r="3" fill="#2563eb" fill-opacity="0.3" stroke="#2563eb" stroke-opacity="0.3" stroke-width="1"/>
<circle cx="1164.2" cy="629.3" r="3" fill="#2563eb" fill-opacity="0.3" stroke="#2563eb" stroke-opacity="0.3" stroke-width="1"/>
<circle cx="1191.7" cy="640.0" r="3" fill="#2563eb" fill-opacity="0.3" stroke="#2563eb" stroke-opacity="0.3" stroke-width="1"/>
<circle cx="1178.3" cy="639.5" r="3" fill="#2563eb" fill-opacity="0.3" stroke="#2563eb" stroke-opacity="0.3" stroke-width="1"/>
<circle cx="1157.8" cy="645.2" r="3" fill="#2563eb" fill-opacity="0.3" stroke="#2563eb" stroke-opacity="0.3" stroke-width="1"/>
<circle cx="1167.9" cy="643.1" r="3" fill="#2563eb" fill-opacity="0.3" stroke="#2563eb" stroke-opacity="0.3" stroke-width="1"/>
<circle cx="1173.3" cy="667.5" r="3" fill="#2563eb" fill-opacity="0.3" stroke="#2563eb" stroke-opacity="0.3" stroke-width="1"/>
<circle cx="1150.7" cy="636.6" r="3" fill="#2563eb" fill-opacity="0.3" stroke="#2563eb" stroke-opacity="0.3" stroke-width="1"/>
<circle cx="1174.0" cy="643.5" r="3" fill="#2563eb" fill-opacity="0.3" stroke="#2563eb" stroke-opacity="0.3" stroke-width="1"/>
<circle cx="1191.9" cy="667.7" r="3" fill="#2563eb" fill-opacity="0.3" stroke="#2563eb" stroke-opacity="0.3" stroke-width="1"/>
<circle cx="1165.4" cy="638.6" r="3" fill="#2563eb" fill-opacity="0.3" stroke="#2563eb" stroke-opacity="0.3" stroke-width="1"/>
<circle cx="1149.1" cy="627.7" r="3" fill="#2563eb" fill-opacity="0.3" stroke="#2563eb" stroke-opacity="0.3" stroke-width="1"/>
<circle cx="1163.8" cy="634.5" r="3" fill="#2563eb" fill-opacity="0.3" stroke="#2563eb" stroke-opacity="0.3" stroke-width="1"/>
<circle cx="1181.4" cy="669.7" r="3" fill="#2563eb" fill-opacity="0.3" stroke="#2563eb" stroke-opacity="0.3" stroke-width="1"/>
<circle cx="1182.2" cy="673.7" r="3" fill="#2563eb" fill-opacity="0.3" stroke="#2563eb" stroke-opacity="0.3" stroke-width="1"/>
<circle cx="1189.9" cy="665.6" r="3" fill="#2563eb" fill-opacity="0.3" stroke="#2563eb" stroke-opacity="0.3" stroke-width="1"/>
<circle cx="1152.7" cy="630.1" r="3" fill="#2563eb" fill-opacity="0.3" stroke="#2563eb" stroke-opacity="0.3" stroke-width="1"/>
<circle cx="1352.4" cy="129.3" r="3" fill="#2563eb" fill-opacity="0.3" stroke="#2563eb" stroke-opacity="0.3" stroke-width="1"/>
<circle cx="1320.3" cy="191.3" r="3" fill="#2563eb" fill-opacity="0.3" stroke="#2563eb" stroke-opacity="0.3" stroke-width="1"/>
<circle cx="1343.4" cy="215.4" r="3" fill="#2563eb" fill-opacity="0.3" stroke="#2563eb" stroke-opacity="0.3" stroke-width="1"/>
<circle cx="1327.4" cy="308.0" r="3" fill="#2563eb" fill-opacity="0.3" stroke="#2563eb" stroke-opacity="0.3" stroke-width="1"/>
<circle cx="1312.2" cy="373.4" r="3" fill="#2563eb" fill-opacity="0.3" stroke="#2563eb" stroke-opacity="0.3" stroke-width="1"/>
<circle cx="1322.4" cy="379.3" r="3" fill="#2563eb" fill-opacity="0.3" stroke="#2563eb" stroke-opacity="0.3" stroke-width="1"/>
<circle cx="1331.1" cy="404.3" r="3" fill="#2563eb" fill-opacity="0.3" stroke="#2563eb" stroke-opacity="0.3" stroke-width="1"/>
<circle cx="1321.3" cy="409.4" r="3" fill="#2563eb" fill-opacity="0.3" stroke="#2563eb" stroke-opacity="0.3" stroke-width="1"/>
<circle cx="1333.2" cy="418.3" r="3" fill="#2563eb" fill-opacity="0.3" stroke="#2563eb" stroke-opacity="0.3" stroke-width="1"/>
<circle cx="1350.4" cy="416.2" r="3" fill="#2563eb" fill-opacity="0.3" stroke="#2563eb" stroke-opacity="0.3" stroke-width="1"/>
<circle cx="1351.4" cy="422.3" r="3" fill="#2563eb" fill-opacity="0.3" stroke="#2563eb" stroke-opacity="0.3" stroke-width="1"/>
<circle cx="1321.3" cy="423.2" r="3" fill="#2563eb" fill-opacity="0.3" stroke="#2563eb" stroke-opacity="0.3" stroke-width="1"/>
<circle cx="1318.4" cy="429.1" r="3" fill="#2563eb" fill-opacity="0.3" stroke="#2563eb" stroke-opacity="0.3" stroke-width="1"/>
<circle cx="1313.3" cy="439.3" r="3" fill="#2563eb" fill-opacity="0.3" stroke="#2563eb" stroke-opacity="0.3" stroke-width="1"/>
<circle cx="1344.2" cy="443.3" r="3" fill="#2563eb" fill-opacity="0.3" stroke="#2563eb" stroke-opacity="0.3" stroke-width="1"/>
<circle cx="1355.3" cy="447.1" r="3" fill="#2563eb" fill-opacity="0.3" stroke="#2563eb" stroke-opacity="0.3" stroke-width="1"/>
<circle cx="1311.2" cy="472.2" r="3" fill="#2563eb" fill-opacity="0.3" stroke="#2563eb" stroke-opacity="0.3" stroke-width="1"/>
<circle cx="1322.4" cy="475.1" r="3" fill="#2563eb" fill-opacity="0.3" stroke="#2563eb" stroke-opacity="0.3" stroke-width="1"/>
<circle cx="1347.2" cy="473.2" r="3" fill="#2563eb" fill-opacity="0.3" stroke="#2563eb" stroke-opacity="0.3" stroke-width="1"/>
<circle cx="1310.4" cy="486.4" r="3" fill="#2563eb" fill-opacity="0.3" stroke="#2563eb" stroke-opacity="0.3" stroke-width="1"/>
<circle cx="1334.2" cy="486.8" r="3" fill="#2563eb" fill-opacity="0.3" stroke="#2563eb" stroke-opacity="0.3" stroke-width="1"/>
<circle cx="1341.7" cy="489.4" r="3" fill="#2563eb" fill-opacity="0.3" stroke="#2563eb" stroke-opacity="0.3" stroke-width="1"/>
<circle cx="1342.5" cy="492.5" r="3" fill="#2563eb" fill-opacity="0.3" stroke="#2563eb" stroke-opacity="0.3" stroke-width="1"/>
<circle cx="1354.2" cy="493.2" r="3" fill="#2563eb" fill-opacity="0.3" stroke="#2563eb" stroke-opacity="0.3" stroke-width="1"/>
<circle cx="1330.4" cy="496.2" r="3" fill="#2563eb" fill-opacity="0.3" stroke="#2563eb" stroke-opacity="0.3" stroke-width="1"/>
<circle cx="1357.9" cy="500.0" r="3" fill="#2563eb" fill-opacity="0.3" stroke="#2563eb" stroke-opacity="0.3" stroke-width="1"/>
<circle cx="1313.4" cy="505.3" r="3" fill="#2563eb" fill-opacity="0.3" stroke="#2563eb" stroke-opacity="0.3" stroke-width="1"/>
<circle cx="1320.9" cy="506.0" r="3" fill="#2563eb" fill-opacity="0.3" stroke="#2563eb" stroke-opacity="0.3" stroke-width="1"/>
<circle cx="1330.4" cy="503.8" r="3" fill="#2563eb" fill-opacity="0.3" stroke="#2563eb" stroke-opacity="0.3" stroke-width="1"/>
<circle cx="1339.8" cy="504.5" r="3" fill="#2563eb" fill-opacity="0.3" stroke="#2563eb" stroke-opacity="0.3" stroke-width="1"/>
<circle cx="1345.5" cy="505.3" r="3" fill="#2563eb" fill-opacity="0.3" stroke="#2563eb" stroke-opacity="0.3" stroke-width="1"/>
<circle cx="1328.5" cy="514.0" r="3" fill="#2563eb" fill-opacity="0.3" stroke="#2563eb" stroke-opacity="0.3" stroke-width="1"/>
<circle cx="1331.1" cy="516.6" r="3" fill="#2563eb" fill-opacity="0.3" stroke="#2563eb" stroke-opacity="0.3" stroke-width="1"/>
<circle cx="1311.5" cy="515.1" r="3" fill="#2563eb" fill-opacity="0.3" stroke="#2563eb" stroke-opacity="0.3" stroke-width="1"/>
<circle cx="1353.0" cy="514.0" r="3" fill="#2563eb" fill-opacity="0.3" stroke="#2563eb" stroke-opacity="0.3" stroke-width="1"/>
<circle cx="1359.4" cy="515.8" r="3" fill="#2563eb" fill-opacity="0.3" stroke="#2563eb" stroke-opacity="0.3" stroke-width="1"/>
<circle cx="1310.8" cy="519.6" r="3" fill="#2563eb" fill-opacity="0.3" stroke="#2563eb" stroke-opacity="0.3" stroke-width="1"/>
<circle cx="1317.2" cy="522.6" r="3" fill="#2563eb" fill-opacity="0.3" stroke="#2563eb" stroke-opacity="0.3" stroke-width="1"/>
<circle cx="1339.0" cy="526.4" r="3" fill="#2563eb" fill-opacity="0.3" stroke="#2563eb" stroke-opacity="0.3" stroke-width="1"/>
<circle cx="1345.5" cy="521.5" r="3" fill="#2563eb" fill-opacity="0.3" stroke="#2563eb" stroke-opacity="0.3" stroke-width="1"/>
<circle cx="1358.7" cy="525.3" r="3" fill="#2563eb" fill-opacity="0.3" stroke="#2563eb" stroke-opacity="0.3" stroke-width="1"/>
<circle cx="1309.6" cy="530.9" r="3" fill="#2563eb" fill-opacity="0.3" stroke="#2563eb" stroke-opacity="0.3" stroke-width="1"/>
<circle cx="1319.1" cy="529.1" r="3" fill="#2563eb" fill-opacity="0.3" stroke="#2563eb" stroke-opacity="0.3" stroke-width="1"/>
<circle cx="1326.6" cy="532.8" r="3" fill="#2563eb" fill-opacity="0.3" stroke="#2563eb" stroke-opacity="0.3" stroke-width="1"/>
<circle cx="1349.2" cy="530.9" r="3" fill="#2563eb" fill-opacity="0.3" stroke="#2563eb" stroke-opacity="0.3" stroke-width="1"/>
<circle cx="1354.9" cy="528.3" r="3" fill="#2563eb" fill-opacity="0.3" stroke="#2563eb" stroke-opacity="0.3" stroke-width="1"/>
<circle cx="1350.8" cy="533.2" r="3" fill="#2563eb" fill-opacity="0.3" stroke="#2563eb" stroke-opacity="0.3" stroke-width="1"/>
<circle cx="1347.8" cy="533.1" r="3" fill="#2563eb" fill-opacity="0.3" stroke="#2563eb" stroke-opacity="0.3" stroke-width="1"/>
<circle cx="1339.5" cy="580.3" r="3" fill="#2563eb" fill-opacity="0.3" stroke="#2563eb" stroke-opacity="0.3" stroke-width="1"/>
<circle cx="1353.7" cy="539.6" r="3" fill="#2563eb" fill-opacity="0.3" stroke="#2563eb" stroke-opacity="0.3" stroke-width="1"/>
<circle cx="1356.2" cy="573.2" r="3" fill="#2563eb" fill-opacity="0.3" stroke="#2563eb" stroke-opacity="0.3" stroke-width="1"/>
<circle cx="1352.7" cy="577.6" r="3" fill="#2563eb" fill-opacity="0.3" stroke="#2563eb" stroke-opacity="0.3" stroke-width="1"/>
<circle cx="1336.2" cy="559.8" r="3" fill="#2563eb" fill-opacity="0.3" stroke="#2563eb" stroke-opacity="0.3" stroke-width="1"/>
<circle cx="1322.0" cy="545.1" r="3" fill="#2563eb" fill-opacity="0.3" stroke="#2563eb" stroke-opacity="0.3" stroke-width="1"/>
<circle cx="1314.9" cy="544.9" r="3" fill="#2563eb" fill-opacity="0.3" stroke="#2563eb" stroke-opacity="0.3" stroke-width="1"/>
<circle cx="1359.6" cy="578.3" r="3" fill="#2563eb" fill-opacity="0.3" stroke="#2563eb" stroke-opacity="0.3" stroke-width="1"/>
<circle cx="1318.4" cy="535.4" r="3" fill="#2563eb" fill-opacity="0.3" stroke="#2563eb" stroke-opacity="0.3" stroke-width="1"/>
<circle cx="1348.1" cy="567.7" r="3" fill="#2563eb" fill-opacity="0.3" stroke="#2563eb" stroke-opacity="0.3" stroke-width="1"/>
<circle cx="1324.9" cy="537.7" r="3" fill="#2563eb" fill-opacity="0.3" stroke="#2563eb" stroke-opacity="0.3" stroke-width="1"/>
<circle cx="1349.6" cy="545.9" r="3" fill="#2563eb" fill-opacity="0.3" stroke="#2563eb" stroke-opacity="0.3" stroke-width="1"/>
<circle cx="1325.7" cy="542.8" r="3" fill="#2563eb" fill-opacity="0.3" stroke="#2563eb" stroke-opacity="0.3" stroke-width="1"/>
<circle cx="1323.3" cy="545.4" r="3" fill="#2563eb" fill-opacity="0.3" stroke="#2563eb" stroke-opacity="0.3" stroke-width="1"/>
<circle cx="1316.5" cy="555.0" r="3" fill="#2563eb" fill-opacity="0.3" stroke="#2563eb" stroke-opacity="0.3" stroke-width="1"/>
<circle cx="1353.1" cy="577.3" r="3" fill="#2563eb" fill-opacity="0.3" stroke="#2563eb" stroke-opacity="0.3" stroke-width="1"/>
<circle cx="1334.3" cy="544.0" r="3" fill="#2563eb" fill-opacity="0.3" stroke="#2563eb" stroke-opacity="0.3" stroke-width="1"/>
<circle cx="1346.4" cy="578.5" r="3" fill="#2563eb" fill-opacity="0.3" stroke="#2563eb" stroke-opacity="0.3" stroke-width="1"/>
<circle cx="1335.9" cy="578.9" r="3" fill="#2563eb" fill-opacity="0.3" stroke="#2563eb" stroke-opacity="0.3" stroke-width="1"/>
<circle cx="1346.5" cy="557.7" r="3" fill="#2563eb" fill-opacity="0.3" stroke="#2563eb" stroke-opacity="0.3" stroke-width="1"/>
<circle cx="1354.9" cy="533.8" r="3" fill="#2563eb" fill-opacity="0.3" stroke="#2563eb" stroke-opacity="0.3" stroke-width="1"/>
<circle cx="1324.2" cy="541.0" r="3" fill="#2563eb" fill-opacity="0.3" stroke="#2563eb" stroke-opacity="0.3" stroke-width="1"/>
<circle cx="1354.3" cy="541.2" r="3" fill="#2563eb" fill-opacity="0.3" stroke="#2563eb" stroke-opacity="0.3" stroke-width="1"/>
<circle cx="1347.3" cy="543.4" r="3" fill="#2563eb" fill-opacity="0.3" stroke="#2563eb" stroke-opacity="0.3" stroke-width="1"/>
<circle cx="1350.3" cy="549.6" r="3" fill="#2563eb" fill-opacity="0.3" stroke="#2563eb" stroke-opacity="0.3" stroke-width="1"/>
<circle cx="1339.0" cy="560.9" r="3" fill="#2563eb" fill-opacity="0.3" stroke="#2563eb" stroke-opacity="0.3" stroke-width="1"/>
<circle cx="1313.3" cy="574.8" r="3" fill="#2563eb" fill-opacity="0.3" stroke="#2563eb" stroke-opacity="0.3" stroke-width="1"/>
<circle cx="1312.8" cy="540.2" r="3" fill="#2563eb" fill-opacity="0.3" stroke="#2563eb" stroke-opacity="0.3" stroke-width="1"/>
<circle cx="1335.4" cy="553.9" r="3" fill="#2563eb" fill-opacity="0.3" stroke="#2563eb" stroke-opacity="0.3" stroke-width="1"/>
<circle cx="1360.0" cy="571.3" r="3" fill="#2563eb" fill-opacity="0.3" stroke="#2563eb" stroke-opacity="0.3" stroke-width="1"/>
<circle cx="1358.8" cy="579.0" r="3" fill="#2563eb" fill-opacity="0.3" stroke="#2563eb" stroke-opacity="0.3" stroke-width="1"/>
<circle cx="1319.3" cy="565.8" r="3" fill="#2563eb" fill-opacity="0.3" stroke="#2563eb" stroke-opacity="0.3" stroke-width="1"/>
<circle cx="1321.7" cy="544.9" r="3" fill="#2563eb" fill-opacity="0.3" stroke="#2563eb" stroke-opacity="0.3" stroke-width="1"/>
<circle cx="1323.8" cy="548.3" r="3" fill="#2563eb" fill-opacity="0.3" stroke="#2563eb" stroke-opacity="0.3" stroke-width="1"/>
<circle cx="1325.8" cy="576.9" r="3" fill="#2563eb" fill-opacity="0.3" stroke="#2563eb" stroke-opacity="0.3" stroke-width="1"/>
<circle cx="1354.4" cy="555.6" r="3" fill="#2563eb" fill-opacity="0.3" stroke="#2563eb" stroke-opacity="0.3" stroke-width="1"/>
<circle cx="1349.1" cy="540.2" r="3" fill="#2563eb" fill-opacity="0.3" stroke="#2563eb" stroke-opacity="0.3" stroke-width="1"/>
<circle cx="1355.2" cy="539.2" r="3" fill="#2563eb" fill-opacity="0.3" stroke="#2563eb" stroke-opacity="0.3" stroke-width="1"/>
<circle cx="1329.0" cy="549.2" r="3" fill="#2563eb" fill-opacity="0.3" stroke="#2563eb" stroke-opacity="0.3" stroke-width="1"/>
<circle cx="1342.7" cy="556.0" r="3" fill="#2563eb" fill-opacity="0.3" stroke="#2563eb" stroke-opacity="0.3" stroke-width="1"/>
<circle cx="1332.2" cy="567.3" r="3" fill="#2563eb" fill-opacity="0.3" stroke="#2563eb" stroke-opacity="0.3" stroke-width="1"/>
<circle cx="1357.9" cy="577.8" r="3" fill="#2563eb" fill-opacity="0.3" stroke="#2563eb" stroke-opacity="0.3" stroke-width="1"/>
<circle cx="1330.4" cy="539.1" r="3" fill="#2563eb" fill-opacity="0.3" stroke="#2563eb" stroke-opacity="0.3" stroke-width="1"/>
<circle cx="1338.1" cy="577.8" r="3" fill="#2563eb" fill-opacity="0.3" stroke="#2563eb" stroke-opacity="0.3" stroke-width="1"/>
<circle cx="1329.2" cy="555.2" r="3" fill="#2563eb" fill-opacity="0.3" stroke="#2563eb" stroke-opacity="0.3" stroke-width="1"/>
<circle cx="1332.5" cy="553.1" r="3" fill="#2563eb" fill-opacity="0.3" stroke="#2563eb" stroke-opacity="0.3" stroke-width="1"/>
<circle cx="1358.7" cy="578.3" r="3" fill="#2563eb" fill-opacity="0.3" stroke="#2563eb" stroke-opacity="0.3" stroke-width="1"/>
<circle cx="1328.6" cy="547.3" r="3" fill="#2563eb" fill-opacity="0.3" stroke="#2563eb" stroke-opacity="0.3" stroke-width="1"/>
<circle cx="1327.2" cy="606.3" r="3" fill="#2563eb" fill-opacity="0.3" stroke="#2563eb" stroke-opacity="0.3" stroke-width="1"/>
<circle cx="1349.5" cy="618.4" r="3" fill="#2563eb" fill-opacity="0.3" stroke="#2563eb" stroke-opacity="0.3" stroke-width="1"/>
<circle cx="1348.1" cy="591.0" r="3" fill="#2563eb" fill-opacity="0.3" stroke="#2563eb" stroke-opacity="0.3" stroke-width="1"/>
<circle cx="1312.5" cy="616.1" r="3" fill="#2563eb" fill-opacity="0.3" stroke="#2563eb" stroke-opacity="0.3" stroke-width="1"/>
<circle cx="1324.4" cy="606.8" r="3" fill="#2563eb" fill-opacity="0.3" stroke="#2563eb" stroke-opacity="0.3" stroke-width="1"/>
<circle cx="1341.0" cy="582.1" r="3" fill="#2563eb" fill-opacity="0.3" stroke="#2563eb" stroke-opacity="0.3" stroke-width="1"/>
<circle cx="1312.2" cy="601.3" r="3" fill="#2563eb" fill-opacity="0.3" stroke="#2563eb" stroke-opacity="0.3" stroke-width="1"/>
<circle cx="1346.3" cy="621.2" r="3" fill="#2563eb" fill-opacity="0.3" stroke="#2563eb" stroke-opacity="0.3" stroke-width="1"/>
<circle cx="1353.7" cy="618.3" r="3" fill="#2563eb" fill-opacity="0.3" stroke="#2563eb" stroke-opacity="0.3" stroke-width="1"/>
<circle cx="1320.8" cy="598.1" r="3" fill="#2563eb" fill-opacity="0.3" stroke="#2563eb" stroke-opacity="0.3" stroke-width="1"/>
<circle cx="1342.3" cy="598.4" r="3" fill="#2563eb" fill-opacity="0.3" stroke="#2563eb" stroke-opacity="0.3" stroke-width="1"/>
<circle cx="1314.7" cy="603.5" r="3" fill="#2563eb" fill-opacity="0.3" stroke="#2563eb" stroke-opacity="0.3" stroke-width="1"/>
<circle cx="1354.9" cy="611.3" r="3" fill="#2563eb" fill-opacity="0.3" stroke="#2563eb" stroke-opacity="0.3" stroke-width="1"/>
<circle cx="1352.8" cy="593.8" r="3" fill="#2563eb" fill-opacity="0.3" stroke="#2563eb" stroke-opacity="0.3" stroke-width="1"/>
<circle cx="1324.7" cy="588.3" r="3" fill="#2563eb" fill-opacity="0.3" stroke="#2563eb" stroke-opacity="0.3" stroke-width="1"/>
<circle cx="1313.4" cy="592.3" r="3" fill="#2563eb" fill-opacity="0.3" stroke="#2563eb" stroke-opacity="0.3" stroke-width="1"/>
<circle cx="1341.9" cy="600.7" r="3" fill="#2563eb" fill-opacity="0.3" stroke="#2563eb" stroke-opacity="0.3" stroke-width="1"/>
<circle cx="1341.5" cy="606.9" r="3" fill="#2563eb" fill-opacity="0.3" stroke="#2563eb" stroke-opacity="0.3" stroke-width="1"/>
<circle cx="1321.4" cy="591.8" r="3" fill="#2563eb" fill-opacity="0.3" stroke="#2563eb" stroke-opacity="0.3" stroke-width="1"/>
<circle cx="1349.6" cy="599.9" r="3" fill="#2563eb" fill-opacity="0.3" stroke="#2563eb" stroke-opacity="0.3" stroke-width="1"/>
<circle cx="1317.8" cy="616.5" r="3" fill="#2563eb" fill-opacity="0.3" stroke="#2563eb" stroke-opacity="0.3" stroke-width="1"/>
<circle cx="1341.0" cy="605.2" r="3" fill="#2563eb" fill-opacity="0.3" stroke="#2563eb" stroke-opacity="0.3" stroke-width="1"/>
<circle cx="1314.5" cy="617.2" r="3" fill="#2563eb" fill-opacity="0.3" stroke="#2563eb" stroke-opacity="0.3" stroke-width="1"/>
<circle cx="1323.5" cy="590.0" r="3" fill="#2563eb" fill-opacity="0.3" stroke="#2563eb" stroke-opacity="0.3" stroke-width="1"/>
<circle cx="1324.9" cy="609.2" r="3" fill="#2563eb" fill-opacity="0.3" stroke="#2563eb" stroke-opacity="0.3" stroke-width="1"/>
<circle cx="1311.1" cy="613.5" r="3" fill="#2563eb" fill-opacity="0.3" stroke="#2563eb" stroke-opacity="0.3" stroke-width="1"/>
<circle cx="1312.1" cy="587.4" r="3" fill="#2563eb" fill-opacity="0.3" stroke="#2563eb" stroke-opacity="0.3" stroke-width="1"/>
<circle cx="1350.6" cy="596.7" r="3" fill="#2563eb" fill-opacity="0.3" stroke="#2563eb" stroke-opacity="0.3" stroke-width="1"/>
<circle cx="1359.6" cy="608.8" r="3" fill="#2563eb" fill-opacity="0.3" stroke="#2563eb" stroke-opacity="0.3" stroke-width="1"/>
<circle cx="1350.9" cy="590.2" r="3" fill="#2563eb" fill-opacity="0.3" stroke="#2563eb" stroke-opacity="0.3" stroke-width="1"/>
<circle cx="1318.4" cy="622.2" r="3" fill="#2563eb" fill-opacity="0.3" stroke="#2563eb" stroke-opacity="0.3" stroke-width="1"/>
<circle cx="1344.0" cy="612.7" r="3" fill="#2563eb" fill-opacity="0.3" stroke="#2563eb" stroke-opacity="0.3" stroke-width="1"/>
<circle cx="1327.5" cy="620.6" r="3" fill="#2563eb" fill-opacity="0.3" stroke="#2563eb" stroke-opacity="0.3" stroke-width="1"/>
<circle cx="1334.4" cy="594.1" r="3" fill="#2563eb" fill-opacity="0.3" stroke="#2563eb" stroke-opacity="0.3" stroke-width="1"/>
<circle cx="1332.6" cy="621.2" r="3" fill="#2563eb" fill-opacity="0.3" stroke="#2563eb" stroke-opacity="0.3" stroke-width="1"/>
<circle cx="1354.6" cy="583.7" r="3" fill="#2563eb" fill-opacity="0.3" stroke="#2563eb" stroke-opacity="0.3" stroke-width="1"/>
<circle cx="1352.1" cy="619.7" r="3" fill="#2563eb" fill-opacity="0.3" stroke="#2563eb" stroke-opacity="0.3" stroke-width="1"/>
<circle cx="1346.8" cy="617.9" r="3" fill="#2563eb" fill-opacity="0.3" stroke="#2563eb" stroke-opacity="0.3" stroke-width="1"/>
<circle cx="1357.0" cy="602.9" r="3" fill="#2563eb" fill-opacity="0.3" stroke="#2563eb" stroke-opacity="0.3" stroke-width="1"/>
<circle cx="1327.2" cy="599.6" r="3" fill="#2563eb" fill-opacity="0.3" stroke="#2563eb" stroke-opacity="0.3" stroke-width="1"/>
<circle cx="1311.3" cy="618.5" r="3" fill="#2563eb" fill-opacity="0.3" stroke="#2563eb" stroke-opacity="0.3" stroke-width="1"/>
<circle cx="1321.1" cy="588.5" r="3" fill="#2563eb" fill-opacity="0.3" stroke="#2563eb" stroke-opacity="0.3" stroke-width="1"/>
<circle cx="1327.5" cy="585.7" r="3" fill="#2563eb" fill-opacity="0.3" stroke="#2563eb" stroke-opacity="0.3" stroke-width="1"/>
<circle cx="1359.0" cy="596.8" r="3" fill="#2563eb" fill-opacity="0.3" stroke="#2563eb" stroke-opacity="0.3" stroke-width="1"/>
<circle cx="1333.0" cy="621.3" r="3" fill="#2563eb" fill-opacity="0.3" stroke="#2563eb" stroke-opacity="0.3" stroke-width="1"/>
<circle cx="1322.6" cy="601.8" r="3" fill="#2563eb" fill-opacity="0.3" stroke="#2563eb" stroke-opacity="0.3" stroke-width="1"/>
<circle cx="1338.2" cy="582.7" r="3" fill="#2563eb" fill-opacity="0.3" stroke="#2563eb" stroke-opacity="0.3" stroke-width="1"/>
<circle cx="1316.1" cy="602.6" r="3" fill="#2563eb" fill-opacity="0.3" stroke="#2563eb" stroke-opacity="0.3" stroke-width="1"/>
<circle cx="1331.6" cy="648.1" r="3" fill="#2563eb" fill-opacity="0.3" stroke="#2563eb" stroke-opacity="0.3" stroke-width="1"/>
<circle cx="1355.1" cy="654.2" r="3" fill="#2563eb" fill-opacity="0.3" stroke="#2563eb" stroke-opacity="0.3" stroke-width="1"/>
<circle cx="1336.3" cy="627.0" r="3" fill="#2563eb" fill-opacity="0.3" stroke="#2563eb" stroke-opacity="0.3" stroke-width="1"/>
<circle cx="1322.0" cy="629.1" r="3" fill="#2563eb" fill-opacity="0.3" stroke="#2563eb" stroke-opacity="0.3" stroke-width="1"/>
<circle cx="1358.4" cy="641.7" r="3" fill="#2563eb" fill-opacity="0.3" stroke="#2563eb" stroke-opacity="0.3" stroke-width="1"/>
<circle cx="1340.5" cy="651.2" r="3" fill="#2563eb" fill-opacity="0.3" stroke="#2563eb" stroke-opacity="0.3" stroke-width="1"/>
<circle cx="1339.8" cy="622.9" r="3" fill="#2563eb" fill-opacity="0.3" stroke="#2563eb" stroke-opacity="0.3" stroke-width="1"/>
<circle cx="1316.5" cy="628.1" r="3" fill="#2563eb" fill-opacity="0.3" stroke="#2563eb" stroke-opacity="0.3" stroke-width="1"/>
<circle cx="1330.4" cy="671.7" r="3" fill="#2563eb" fill-opacity="0.3" stroke="#2563eb" stroke-opacity="0.3" stroke-width="1"/>
<circle cx="1337.7" cy="626.5" r="3" fill="#2563eb" fill-opacity="0.3" stroke="#2563eb" stroke-opacity="0.3" stroke-width="1"/>
<circle cx="1335.7" cy="625.9" r="3" fill="#2563eb" fill-opacity="0.3" stroke="#2563eb" stroke-opacity="0.3" stroke-width="1"/>
<circle cx="1356.3" cy="645.6" r="3" fill="#2563eb" fill-opacity="0.3" stroke="#2563eb" stroke-opacity="0.3" stroke-width="1"/>
<circle cx="1324.1" cy="651.0" r="3" fill="#2563eb" fill-opacity="0.3" stroke="#2563eb" stroke-opacity="0.3" stroke-width="1"/>
<circle cx="1326.9" cy="669.6" r="3" fill="#2563eb" fill-opacity="0.3" stroke="#2563eb" stroke-opacity="0.3" stroke-width="1"/>
<circle cx="1359.4" cy="665.8" r="3" fill="#2563eb" fill-opacity="0.3" stroke="#2563eb" stroke-opacity="0.3" stroke-width="1"/>
<circle cx="1334.5" cy="632.9" r="3" fill="#2563eb" fill-opacity="0.3" stroke="#2563eb" stroke-opacity="0.3" stroke-width="1"/>
<circle cx="1320.3" cy="635.0" r="3" fill="#2563eb" fill-opacity="0.3" stroke="#2563eb" stroke-opacity="0.3" stroke-width="1"/>
<circle cx="1352.3" cy="680.5" r="3" fill="#2563eb" fill-opacity="0.3" stroke="#2563eb" stroke-opacity="0.3" stroke-width="1"/>
<circle cx="1351.2" cy="640.1" r="3" fill="#2563eb" fill-opacity="0.3" stroke="#2563eb" stroke-opacity="0.3" stroke-width="1"/>
<circle cx="1343.2" cy="654.9" r="3" fill="#2563eb" fill-opacity="0.3" stroke="#2563eb" stroke-opacity="0.3" stroke-width="1"/>
<circle cx="1332.5" cy="676.4" r="3" fill="#2563eb" fill-opacity="0.3" stroke="#2563eb" stroke-opacity="0.3" stroke-width="1"/>
<circle cx="1317.5" cy="639.0" r="3" fill="#2563eb" fill-opacity="0.3" stroke="#2563eb" stroke-opacity="0.3" stroke-width="1"/>
<circle cx="1329.0" cy="646.9" r="3" fill="#2563eb" fill-opacity="0.3" stroke="#2563eb" stroke-opacity="0.3" stroke-width="1"/>
<circle cx="1329.9" cy="634.8" r="3" fill="#2563eb" fill-opacity="0.3" stroke="#2563eb" stroke-opacity="0.3" stroke-width="1"/>
<circle cx="1345.5" cy="648.9" r="3" fill="#2563eb" fill-opacity="0.3" stroke="#2563eb" stroke-opacity="0.3" stroke-width="1"/>
<circle cx="1318.7" cy="629.2" r="3" fill="#2563eb" fill-opacity="0.3" stroke="#2563eb" stroke-opacity="0.3" stroke-width="1"/>
<circle cx="1345.1" cy="654.0" r="3" fill="#2563eb" fill-opacity="0.3" stroke="#2563eb" stroke-opacity="0.3" stroke-width="1"/>
<circle cx="1333.5" cy="630.0" r="3" fill="#2563eb" fill-opacity="0.3" stroke="#2563eb" stroke-opacity="0.3" stroke-width="1"/>
<circle cx="1320.7" cy="645.5" r="3" fill="#2563eb" fill-opacity="0.3" stroke="#2563eb" stroke-opacity="0.3" stroke-width="1"/>
<circle cx="1313.9" cy="622.6" r="3" fill="#2563eb" fill-opacity="0.3" stroke="#2563eb" stroke-opacity="0.3" stroke-width="1"/>
<circle cx="1332.1" cy="653.6" r="3" fill="#2563eb" fill-opacity="0.3" stroke="#2563eb" stroke-opacity="0.3" stroke-width="1"/>
<circle cx="1339.3" cy="645.1" r="3" fill="#2563eb" fill-opacity="0.3" stroke="#2563eb" stroke-opacity="0.3" stroke-width="1"/>
<circle cx="1355.6" cy="653.8" r="3" fill="#2563eb" fill-opacity="0.3" stroke="#2563eb" stroke-opacity="0.3" stroke-width="1"/>
<circle cx="1323.4" cy="626.6" r="3" fill="#2563eb" fill-opacity="0.3" stroke="#2563eb" stroke-opacity="0.3" stroke-width="1"/>
<circle cx="1351.0" cy="640.4" r="3" fill="#2563eb" fill-opacity="0.3" stroke="#2563eb" stroke-opacity="0.3" stroke-width="1"/>
<circle cx="1336.8" cy="635.1" r="3" fill="#2563eb" fill-opacity="0.3" stroke="#2563eb" stroke-opacity="0.3" stroke-width="1"/>
<circle cx="1329.3" cy="649.3" r="3" fill="#2563eb" fill-opacity="0.3" stroke="#2563eb" stroke-opacity="0.3" stroke-width="1"/>
<circle cx="1312.7" cy="622.7" r="3" fill="#2563eb" fill-opacity="0.3" stroke="#2563eb" stroke-opacity="0.3" stroke-width="1"/>
<circle cx="1315.1" cy="632.3" r="3" fill="#2563eb" fill-opacity="0.3" stroke="#2563eb" stroke-opacity="0.3" stroke-width="1"/>
<circle cx="1316.0" cy="677.1" r="3" fill="#2563eb" fill-opacity="0.3" stroke="#2563eb" stroke-opacity="0.3" stroke-width="1"/>
<circle cx="1331.5" cy="631.2" r="3" fill="#2563eb" fill-opacity="0.3" stroke="#2563eb" stroke-opacity="0.3" stroke-width="1"/>
<circle cx="1350.2" cy="670.0" r="3" fill="#2563eb" fill-opacity="0.3" stroke="#2563eb" stroke-opacity="0.3" stroke-width="1"/>
<circle cx="1325.7" cy="653.1" r="3" fill="#2563eb" fill-opacity="0.3" stroke="#2563eb" stroke-opacity="0.3" stroke-width="1"/>
<circle cx="1319.1" cy="649.8" r="3" fill="#2563eb" fill-opacity="0.3" stroke="#2563eb" stroke-opacity="0.3" stroke-width="1"/>
<circle cx="1344.4" cy="650.8" r="3" fill="#2563eb" fill-opacity="0.3" stroke="#2563eb" stroke-opacity="0.3" stroke-width="1"/>
<circle cx="1310.8" cy="672.1" r="3" fill="#2563eb" fill-opacity="0.3" stroke="#2563eb" stroke-opacity="0.3" stroke-width="1"/>
<circle cx="1356.4" cy="649.1" r="3" fill="#2563eb" fill-opacity="0.3" stroke="#2563eb" stroke-opacity="0.3" stroke-width="1"/>
<circle cx="1335.3" cy="628.2" r="3" fill="#2563eb" fill-opacity="0.3" stroke="#2563eb" stroke-opacity="0.3" stroke-width="1"/>
<circle cx="1488.4" cy="183.3" r="3" fill="#2563eb" fill-opacity="0.3" stroke="#2563eb" stroke-opacity="0.3" stroke-width="1"/>
<circle cx="1484.4" cy="278.3" r="3" fill="#2563eb" fill-opacity="0.3" stroke="#2563eb" stroke-opacity="0.3" stroke-width="1"/>
<circle cx="1514.4" cy="337.5" r="3" fill="#2563eb" fill-opacity="0.3" stroke="#2563eb" stroke-opacity="0.3" stroke-width="1"/>
<circle cx="1510.4" cy="371.2" r="3" fill="#2563eb" fill-opacity="0.3" stroke="#2563eb" stroke-opacity="0.3" stroke-width="1"/>
<circle cx="1482.2" cy="379.3" r="3" fill="#2563eb" fill-opacity="0.3" stroke="#2563eb" stroke-opacity="0.3" stroke-width="1"/>
<circle cx="1492.4" cy="378.2" r="3" fill="#2563eb" fill-opacity="0.3" stroke="#2563eb" stroke-opacity="0.3" stroke-width="1"/>
<circle cx="1511.3" cy="383.3" r="3" fill="#2563eb" fill-opacity="0.3" stroke="#2563eb" stroke-opacity="0.3" stroke-width="1"/>
<circle cx="1518.3" cy="396.2" r="3" fill="#2563eb" fill-opacity="0.3" stroke="#2563eb" stroke-opacity="0.3" stroke-width="1"/>
<circle cx="1492.4" cy="413.2" r="3" fill="#2563eb" fill-opacity="0.3" stroke="#2563eb" stroke-opacity="0.3" stroke-width="1"/>
<circle cx="1512.3" cy="416.1" r="3" fill="#2563eb" fill-opacity="0.3" stroke="#2563eb" stroke-opacity="0.3" stroke-width="1"/>
<circle cx="1515.3" cy="416.1" r="3" fill="#2563eb" fill-opacity="0.3" stroke="#2563eb" stroke-opacity="0.3" stroke-width="1"/>
<circle cx="1516.6" cy="418.3" r="3" fill="#2563eb" fill-opacity="0.3" stroke="#2563eb" stroke-opacity="0.3" stroke-width="1"/>
<circle cx="1500.2" cy="424.2" r="3" fill="#2563eb" fill-opacity="0.3" stroke="#2563eb" stroke-opacity="0.3" stroke-width="1"/>
<circle cx="1505.3" cy="425.3" r="3" fill="#2563eb" fill-opacity="0.3" stroke="#2563eb" stroke-opacity="0.3" stroke-width="1"/>
<circle cx="1502.2" cy="439.3" r="3" fill="#2563eb" fill-opacity="0.3" stroke="#2563eb" stroke-opacity="0.3" stroke-width="1"/>
<circle cx="1488.4" cy="442.2" r="3" fill="#2563eb" fill-opacity="0.3" stroke="#2563eb" stroke-opacity="0.3" stroke-width="1"/>
<circle cx="1506.4" cy="442.2" r="3" fill="#2563eb" fill-opacity="0.3" stroke="#2563eb" stroke-opacity="0.3" stroke-width="1"/>
<circle cx="1515.3" cy="441.2" r="3" fill="#2563eb" fill-opacity="0.3" stroke="#2563eb" stroke-opacity="0.3" stroke-width="1"/>
<circle cx="1509.4" cy="447.3" r="3" fill="#2563eb" fill-opacity="0.3" stroke="#2563eb" stroke-opacity="0.3" stroke-width="1"/>
<circle cx="1520.4" cy="449.2" r="3" fill="#2563eb" fill-opacity="0.3" stroke="#2563eb" stroke-opacity="0.3" stroke-width="1"/>
<circle cx="1481.4" cy="457.1" r="3" fill="#2563eb" fill-opacity="0.3" stroke="#2563eb" stroke-opacity="0.3" stroke-width="1"/>
<circle cx="1491.3" cy="459.4" r="3" fill="#2563eb" fill-opacity="0.3" stroke="#2563eb" stroke-opacity="0.3" stroke-width="1"/>
<circle cx="1513.4" cy="457.1" r="3" fill="#2563eb" fill-opacity="0.3" stroke="#2563eb" stroke-opacity="0.3" stroke-width="1"/>
<circle cx="1485.2" cy="469.2" r="3" fill="#2563eb" fill-opacity="0.3" stroke="#2563eb" stroke-opacity="0.3" stroke-width="1"/>
<circle cx="1505.3" cy="472.1" r="3" fill="#2563eb" fill-opacity="0.3" stroke="#2563eb" stroke-opacity="0.3" stroke-width="1"/>
<circle cx="1524.2" cy="480.2" r="3" fill="#2563eb" fill-opacity="0.3" stroke="#2563eb" stroke-opacity="0.3" stroke-width="1"/>
<circle cx="1499.2" cy="481.0" r="3" fill="#2563eb" fill-opacity="0.3" stroke="#2563eb" stroke-opacity="0.3" stroke-width="1"/>
<circle cx="1479.3" cy="487.2" r="3" fill="#2563eb" fill-opacity="0.3" stroke="#2563eb" stroke-opacity="0.3" stroke-width="1"/>
<circle cx="1487.3" cy="486.1" r="3" fill="#2563eb" fill-opacity="0.3" stroke="#2563eb" stroke-opacity="0.3" stroke-width="1"/>
<circle cx="1504.3" cy="489.1" r="3" fill="#2563eb" fill-opacity="0.3" stroke="#2563eb" stroke-opacity="0.3" stroke-width="1"/>
<circle cx="1481.4" cy="493.1" r="3" fill="#2563eb" fill-opacity="0.3" stroke="#2563eb" stroke-opacity="0.3" stroke-width="1"/>
<circle cx="1484.3" cy="493.1" r="3" fill="#2563eb" fill-opacity="0.3" stroke="#2563eb" stroke-opacity="0.3" stroke-width="1"/>
<circle cx="1489.2" cy="505.2" r="3" fill="#2563eb" fill-opacity="0.3" stroke="#2563eb" stroke-opacity="0.3" stroke-width="1"/>
<circle cx="1496.2" cy="506.3" r="3" fill="#2563eb" fill-opacity="0.3" stroke="#2563eb" stroke-opacity="0.3" stroke-width="1"/>
<circle cx="1501.3" cy="507.3" r="3" fill="#2563eb" fill-opacity="0.3" stroke="#2563eb" stroke-opacity="0.3" stroke-width="1"/>
<circle cx="1506.2" cy="506.9" r="3" fill="#2563eb" fill-opacity="0.3" stroke="#2563eb" stroke-opacity="0.3" stroke-width="1"/>
<circle cx="1508.3" cy="503.1" r="3" fill="#2563eb" fill-opacity="0.3" stroke="#2563eb" stroke-opacity="0.3" stroke-width="1"/>
<circle cx="1513.4" cy="509.2" r="3" fill="#2563eb" fill-opacity="0.3" stroke="#2563eb" stroke-opacity="0.3" stroke-width="1"/>
<circle cx="1486.3" cy="517.1" r="3" fill="#2563eb" fill-opacity="0.3" stroke="#2563eb" stroke-opacity="0.3" stroke-width="1"/>
<circle cx="1489.6" cy="522.2" r="3" fill="#2563eb" fill-opacity="0.3" stroke="#2563eb" stroke-opacity="0.3" stroke-width="1"/>
<circle cx="1488.4" cy="526.2" r="3" fill="#2563eb" fill-opacity="0.3" stroke="#2563eb" stroke-opacity="0.3" stroke-width="1"/>
<circle cx="1504.3" cy="519.2" r="3" fill="#2563eb" fill-opacity="0.3" stroke="#2563eb" stroke-opacity="0.3" stroke-width="1"/>
<circle cx="1508.3" cy="514.3" r="3" fill="#2563eb" fill-opacity="0.3" stroke="#2563eb" stroke-opacity="0.3" stroke-width="1"/>
<circle cx="1510.4" cy="520.0" r="3" fill="#2563eb" fill-opacity="0.3" stroke="#2563eb" stroke-opacity="0.3" stroke-width="1"/>
<circle cx="1519.3" cy="515.2" r="3" fill="#2563eb" fill-opacity="0.3" stroke="#2563eb" stroke-opacity="0.3" stroke-width="1"/>
<circle cx="1521.4" cy="513.3" r="3" fill="#2563eb" fill-opacity="0.3" stroke="#2563eb" stroke-opacity="0.3" stroke-width="1"/>
<circle cx="1527.4" cy="516.2" r="3" fill="#2563eb" fill-opacity="0.3" stroke="#2563eb" stroke-opacity="0.3" stroke-width="1"/>
<circle cx="1528.4" cy="523.2" r="3" fill="#2563eb" fill-opacity="0.3" stroke="#2563eb" stroke-opacity="0.3" stroke-width="1"/>
<circle cx="1505.1" cy="526.0" r="3" fill="#2563eb" fill-opacity="0.3" stroke="#2563eb" stroke-opacity="0.3" stroke-width="1"/>
<circle cx="1524.2" cy="529.2" r="3" fill="#2563eb" fill-opacity="0.3" stroke="#2563eb" stroke-opacity="0.3" stroke-width="1"/>
<circle cx="1514.7" cy="542.8" r="3" fill="#2563eb" fill-opacity="0.3" stroke="#2563eb" stroke-opacity="0.3" stroke-width="1"/>
<circle cx="1525.0" cy="532.0" r="3" fill="#2563eb" fill-opacity="0.3" stroke="#2563eb" stroke-opacity="0.3" stroke-width="1"/>
<circle cx="1495.9" cy="547.8" r="3" fill="#2563eb" fill-opacity="0.3" stroke="#2563eb" stroke-opacity="0.3" stroke-width="1"/>
<circle cx="1517.9" cy="568.4" r="3" fill="#2563eb" fill-opacity="0.3" stroke="#2563eb" stroke-opacity="0.3" stroke-width="1"/>
<circle cx="1498.8" cy="570.5" r="3" fill="#2563eb" fill-opacity="0.3" stroke="#2563eb" stroke-opacity="0.3" stroke-width="1"/>
<circle cx="1491.6" cy="561.6" r="3" fill="#2563eb" fill-opacity="0.3" stroke="#2563eb" stroke-opacity="0.3" stroke-width="1"/>
<circle cx="1516.4" cy="567.4" r="3" fill="#2563eb" fill-opacity="0.3" stroke="#2563eb" stroke-opacity="0.3" stroke-width="1"/>
<circle cx="1491.1" cy="542.0" r="3" fill="#2563eb" fill-opacity="0.3" stroke="#2563eb" stroke-opacity="0.3" stroke-width="1"/>
<circle cx="1498.7" cy="549.9" r="3" fill="#2563eb" fill-opacity="0.3" stroke="#2563eb" stroke-opacity="0.3" stroke-width="1"/>
<circle cx="1515.5" cy="558.7" r="3" fill="#2563eb" fill-opacity="0.3" stroke="#2563eb" stroke-opacity="0.3" stroke-width="1"/>
<circle cx="1520.2" cy="570.1" r="3" fill="#2563eb" fill-opacity="0.3" stroke="#2563eb" stroke-opacity="0.3" stroke-width="1"/>
<circle cx="1525.5" cy="534.1" r="3" fill="#2563eb" fill-opacity="0.3" stroke="#2563eb" stroke-opacity="0.3" stroke-width="1"/>
<circle cx="1491.9" cy="561.5" r="3" fill="#2563eb" fill-opacity="0.3" stroke="#2563eb" stroke-opacity="0.3" stroke-width="1"/>
<circle cx="1504.4" cy="575.1" r="3" fill="#2563eb" fill-opacity="0.3" stroke="#2563eb" stroke-opacity="0.3" stroke-width="1"/>
<circle cx="1488.9" cy="553.5" r="3" fill="#2563eb" fill-opacity="0.3" stroke="#2563eb" stroke-opacity="0.3" stroke-width="1"/>
<circle cx="1513.1" cy="558.0" r="3" fill="#2563eb" fill-opacity="0.3" stroke="#2563eb" stroke-opacity="0.3" stroke-width="1"/>
<circle cx="1494.4" cy="545.1" r="3" fill="#2563eb" fill-opacity="0.3" stroke="#2563eb" stroke-opacity="0.3" stroke-width="1"/>
<circle cx="1518.9" cy="541.3" r="3" fill="#2563eb" fill-opacity="0.3" stroke="#2563eb" stroke-opacity="0.3" stroke-width="1"/>
<circle cx="1506.1" cy="534.3" r="3" fill="#2563eb" fill-opacity="0.3" stroke="#2563eb" stroke-opacity="0.3" stroke-width="1"/>
<circle cx="1490.2" cy="537.6" r="3" fill="#2563eb" fill-opacity="0.3" stroke="#2563eb" stroke-opacity="0.3" stroke-width="1"/>
<circle cx="1488.5" cy="567.0" r="3" fill="#2563eb" fill-opacity="0.3" stroke="#2563eb" stroke-opacity="0.3" stroke-width="1"/>
<circle cx="1479.3" cy="564.5" r="3" fill="#2563eb" fill-opacity="0.3" stroke="#2563eb" stroke-opacity="0.3" stroke-width="1"/>
<circle cx="1505.8" cy="556.9" r="3" fill="#2563eb" fill-opacity="0.3" stroke="#2563eb" stroke-opacity="0.3" stroke-width="1"/>
<circle cx="1504.9" cy="556.8" r="3" fill="#2563eb" fill-opacity="0.3" stroke="#2563eb" stroke-opacity="0.3" stroke-width="1"/>
<circle cx="1496.2" cy="534.9" r="3" fill="#2563eb" fill-opacity="0.3" stroke="#2563eb" stroke-opacity="0.3" stroke-width="1"/>
<circle cx="1493.6" cy="538.6" r="3" fill="#2563eb" fill-opacity="0.3" stroke="#2563eb" stroke-opacity="0.3" stroke-width="1"/>
<circle cx="1478.6" cy="561.5" r="3" fill="#2563eb" fill-opacity="0.3" stroke="#2563eb" stroke-opacity="0.3" stroke-width="1"/>
<circle cx="1483.6" cy="563.8" r="3" fill="#2563eb" fill-opacity="0.3" stroke="#2563eb" stroke-opacity="0.3" stroke-width="1"/>
<circle cx="1488.0" cy="538.3" r="3" fill="#2563eb" fill-opacity="0.3" stroke="#2563eb" stroke-opacity="0.3" stroke-width="1"/>
<circle cx="1516.4" cy="573.2" r="3" fill="#2563eb" fill-opacity="0.3" stroke="#2563eb" stroke-opacity="0.3" stroke-width="1"/>
<circle cx="1525.1" cy="532.7" r="3" fill="#2563eb" fill-opacity="0.3" stroke="#2563eb" stroke-opacity="0.3" stroke-width="1"/>
<circle cx="1513.8" cy="539.0" r="3" fill="#2563eb" fill-opacity="0.3" stroke="#2563eb" stroke-opacity="0.3" stroke-width="1"/>
<circle cx="1517.7" cy="556.1" r="3" fill="#2563eb" fill-opacity="0.3" stroke="#2563eb" stroke-opacity="0.3" stroke-width="1"/>
<circle cx="1513.4" cy="531.3" r="3" fill="#2563eb" fill-opacity="0.3" stroke="#2563eb" stroke-opacity="0.3" stroke-width="1"/>
<circle cx="1489.0" cy="572.2" r="3" fill="#2563eb" fill-opacity="0.3" stroke="#2563eb" stroke-opacity="0.3" stroke-width="1"/>
<circle cx="1489.1" cy="567.4" r="3" fill="#2563eb" fill-opacity="0.3" stroke="#2563eb" stroke-opacity="0.3" stroke-width="1"/>
<circle cx="1508.8" cy="537.7" r="3" fill="#2563eb" fill-opacity="0.3" stroke="#2563eb" stroke-opacity="0.3" stroke-width="1"/>
<circle cx="1524.6" cy="547.0" r="3" fill="#2563eb" fill-opacity="0.3" stroke="#2563eb" stroke-opacity="0.3" stroke-width="1"/>
<circle cx="1489.5" cy="531.5" r="3" fill="#2563eb" fill-opacity="0.3" stroke="#2563eb" stroke-opacity="0.3" stroke-width="1"/>
<circle cx="1478.3" cy="545.6" r="3" fill="#2563eb" fill-opacity="0.3" stroke="#2563eb" stroke-opacity="0.3" stroke-width="1"/>
<circle cx="1517.4" cy="545.8" r="3" fill="#2563eb" fill-opacity="0.3" stroke="#2563eb" stroke-opacity="0.3" stroke-width="1"/>
<circle cx="1521.8" cy="547.9" r="3" fill="#2563eb" fill-opacity="0.3" stroke="#2563eb" stroke-opacity="0.3" stroke-width="1"/>
<circle cx="1514.6" cy="535.7" r="3" fill="#2563eb" fill-opacity="0.3" stroke="#2563eb" stroke-opacity="0.3" stroke-width="1"/>
<circle cx="1506.6" cy="544.4" r="3" fill="#2563eb" fill-opacity="0.3" stroke="#2563eb" stroke-opacity="0.3" stroke-width="1"/>
<circle cx="1517.9" cy="548.8" r="3" fill="#2563eb" fill-opacity="0.3" stroke="#2563eb" stroke-opacity="0.3" stroke-width="1"/>
<circle cx="1507.3" cy="554.0" r="3" fill="#2563eb" fill-opacity="0.3" stroke="#2563eb" stroke-opacity="0.3" stroke-width="1"/>
<circle cx="1507.6" cy="564.5" r="3" fill="#2563eb" fill-opacity="0.3" stroke="#2563eb" stroke-opacity="0.3" stroke-width="1"/>
<circle cx="1508.0" cy="534.5" r="3" fill="#2563eb" fill-opacity="0.3" stroke="#2563eb" stroke-opacity="0.3" stroke-width="1"/>
<circle cx="1482.2" cy="553.9" r="3" fill="#2563eb" fill-opacity="0.3" stroke="#2563eb" stroke-opacity="0.3" stroke-width="1"/>
<circle cx="1494.1" cy="558.9" r="3" fill="#2563eb" fill-opacity="0.3" stroke="#2563eb" stroke-opacity="0.3" stroke-width="1"/>
<circle cx="1497.3" cy="594.6" r="3" fill="#2563eb" fill-opacity="0.3" stroke="#2563eb" stroke-opacity="0.3" stroke-width="1"/>
<circle cx="1502.2" cy="593.0" r="3" fill="#2563eb" fill-opacity="0.3" stroke="#2563eb" stroke-opacity="0.3" stroke-width="1"/>
<circle cx="1515.9" cy="597.2" r="3" fill="#2563eb" fill-opacity="0.3" stroke="#2563eb" stroke-opacity="0.3" stroke-width="1"/>
<circle cx="1527.2" cy="578.3" r="3" fill="#2563eb" fill-opacity="0.3" stroke="#2563eb" stroke-opacity="0.3" stroke-width="1"/>
<circle cx="1527.2" cy="599.1" r="3" fill="#2563eb" fill-opacity="0.3" stroke="#2563eb" stroke-opacity="0.3" stroke-width="1"/>
<circle cx="1478.7" cy="585.9" r="3" fill="#2563eb" fill-opacity="0.3" stroke="#2563eb" stroke-opacity="0.3" stroke-width="1"/>
<circle cx="1493.0" cy="584.2" r="3" fill="#2563eb" fill-opacity="0.3" stroke="#2563eb" stroke-opacity="0.3" stroke-width="1"/>
<circle cx="1479.2" cy="610.5" r="3" fill="#2563eb" fill-opacity="0.3" stroke="#2563eb" stroke-opacity="0.3" stroke-width="1"/>
<circle cx="1522.7" cy="589.7" r="3" fill="#2563eb" fill-opacity="0.3" stroke="#2563eb" stroke-opacity="0.3" stroke-width="1"/>
<circle cx="1511.2" cy="609.4" r="3" fill="#2563eb" fill-opacity="0.3" stroke="#2563eb" stroke-opacity="0.3" stroke-width="1"/>
<circle cx="1494.1" cy="582.0" r="3" fill="#2563eb" fill-opacity="0.3" stroke="#2563eb" stroke-opacity="0.3" stroke-width="1"/>
<circle cx="1519.8" cy="599.0" r="3" fill="#2563eb" fill-opacity="0.3" stroke="#2563eb" stroke-opacity="0.3" stroke-width="1"/>
<circle cx="1496.2" cy="612.3" r="3" fill="#2563eb" fill-opacity="0.3" stroke="#2563eb" stroke-opacity="0.3" stroke-width="1"/>
<circle cx="1499.3" cy="609.4" r="3" fill="#2563eb" fill-opacity="0.3" stroke="#2563eb" stroke-opacity="0.3" stroke-width="1"/>
<circle cx="1505.8" cy="591.2" r="3" fill="#2563eb" fill-opacity="0.3" stroke="#2563eb" stroke-opacity="0.3" stroke-width="1"/>
<circle cx="1521.2" cy="577.0" r="3" fill="#2563eb" fill-opacity="0.3" stroke="#2563eb" stroke-opacity="0.3" stroke-width="1"/>
<circle cx="1498.9" cy="590.3" r="3" fill="#2563eb" fill-opacity="0.3" stroke="#2563eb" stroke-opacity="0.3" stroke-width="1"/>
<circle cx="1494.3" cy="613.1" r="3" fill="#2563eb" fill-opacity="0.3" stroke="#2563eb" stroke-opacity="0.3" stroke-width="1"/>
<circle cx="1511.8" cy="608.4" r="3" fill="#2563eb" fill-opacity="0.3" stroke="#2563eb" stroke-opacity="0.3" stroke-width="1"/>
<circle cx="1492.5" cy="609.1" r="3" fill="#2563eb" fill-opacity="0.3" stroke="#2563eb" stroke-opacity="0.3" stroke-width="1"/>
<circle cx="1512.5" cy="595.5" r="3" fill="#2563eb" fill-opacity="0.3" stroke="#2563eb" stroke-opacity="0.3" stroke-width="1"/>
<circle cx="1522.3" cy="588.9" r="3" fill="#2563eb" fill-opacity="0.3" stroke="#2563eb" stroke-opacity="0.3" stroke-width="1"/>
<circle cx="1509.8" cy="583.8" r="3" fill="#2563eb" fill-opacity="0.3" stroke="#2563eb" stroke-opacity="0.3" stroke-width="1"/>
<circle cx="1479.3" cy="611.2" r="3" fill="#2563eb" fill-opacity="0.3" stroke="#2563eb" stroke-opacity="0.3" stroke-width="1"/>
<circle cx="1500.8" cy="609.6" r="3" fill="#2563eb" fill-opacity="0.3" stroke="#2563eb" stroke-opacity="0.3" stroke-width="1"/>
<circle cx="1487.0" cy="610.2" r="3" fill="#2563eb" fill-opacity="0.3" stroke="#2563eb" stroke-opacity="0.3" stroke-width="1"/>
<circle cx="1523.6" cy="583.8" r="3" fill="#2563eb" fill-opacity="0.3" stroke="#2563eb" stroke-opacity="0.3" stroke-width="1"/>
<circle cx="1514.3" cy="579.5" r="3" fill="#2563eb" fill-opacity="0.3" stroke="#2563eb" stroke-opacity="0.3" stroke-width="1"/>
<circle cx="1481.4" cy="609.9" r="3" fill="#2563eb" fill-opacity="0.3" stroke="#2563eb" stroke-opacity="0.3" stroke-width="1"/>
<circle cx="1524.5" cy="576.1" r="3" fill="#2563eb" fill-opacity="0.3" stroke="#2563eb" stroke-opacity="0.3" stroke-width="1"/>
<circle cx="1521.2" cy="596.8" r="3" fill="#2563eb" fill-opacity="0.3" stroke="#2563eb" stroke-opacity="0.3" stroke-width="1"/>
<circle cx="1492.1" cy="589.3" r="3" fill="#2563eb" fill-opacity="0.3" stroke="#2563eb" stroke-opacity="0.3" stroke-width="1"/>
<circle cx="1495.0" cy="611.1" r="3" fill="#2563eb" fill-opacity="0.3" stroke="#2563eb" stroke-opacity="0.3" stroke-width="1"/>
<circle cx="1515.0" cy="608.5" r="3" fill="#2563eb" fill-opacity="0.3" stroke="#2563eb" stroke-opacity="0.3" stroke-width="1"/>
<circle cx="1507.4" cy="612.4" r="3" fill="#2563eb" fill-opacity="0.3" stroke="#2563eb" stroke-opacity="0.3" stroke-width="1"/>
<circle cx="1498.7" cy="610.7" r="3" fill="#2563eb" fill-opacity="0.3" stroke="#2563eb" stroke-opacity="0.3" stroke-width="1"/>
<circle cx="1512.6" cy="592.0" r="3" fill="#2563eb" fill-opacity="0.3" stroke="#2563eb" stroke-opacity="0.3" stroke-width="1"/>
<circle cx="1519.7" cy="607.3" r="3" fill="#2563eb" fill-opacity="0.3" stroke="#2563eb" stroke-opacity="0.3" stroke-width="1"/>
<circle cx="1519.8" cy="597.8" r="3" fill="#2563eb" fill-opacity="0.3" stroke="#2563eb" stroke-opacity="0.3" stroke-width="1"/>
<circle cx="1478.8" cy="586.1" r="3" fill="#2563eb" fill-opacity="0.3" stroke="#2563eb" stroke-opacity="0.3" stroke-width="1"/>
<circle cx="1523.0" cy="576.7" r="3" fill="#2563eb" fill-opacity="0.3" stroke="#2563eb" stroke-opacity="0.3" stroke-width="1"/>
<circle cx="1494.3" cy="575.9" r="3" fill="#2563eb" fill-opacity="0.3" stroke="#2563eb" stroke-opacity="0.3" stroke-width="1"/>
<circle cx="1511.2" cy="596.4" r="3" fill="#2563eb" fill-opacity="0.3" stroke="#2563eb" stroke-opacity="0.3" stroke-width="1"/>
<circle cx="1485.5" cy="605.4" r="3" fill="#2563eb" fill-opacity="0.3" stroke="#2563eb" stroke-opacity="0.3" stroke-width="1"/>
<circle cx="1502.7" cy="591.4" r="3" fill="#2563eb" fill-opacity="0.3" stroke="#2563eb" stroke-opacity="0.3" stroke-width="1"/>
<circle cx="1478.5" cy="577.4" r="3" fill="#2563eb" fill-opacity="0.3" stroke="#2563eb" stroke-opacity="0.3" stroke-width="1"/>
<circle cx="1511.4" cy="582.9" r="3" fill="#2563eb" fill-opacity="0.3" stroke="#2563eb" stroke-opacity="0.3" stroke-width="1"/>
<circle cx="1486.4" cy="583.3" r="3" fill="#2563eb" fill-opacity="0.3" stroke="#2563eb" stroke-opacity="0.3" stroke-width="1"/>
<circle cx="1486.9" cy="578.2" r="3" fill="#2563eb" fill-opacity="0.3" stroke="#2563eb" stroke-opacity="0.3" stroke-width="1"/>
<circle cx="1488.5" cy="588.3" r="3" fill="#2563eb" fill-opacity="0.3" stroke="#2563eb" stroke-opacity="0.3" stroke-width="1"/>
<circle cx="1523.3" cy="636.5" r="3" fill="#2563eb" fill-opacity="0.3" stroke="#2563eb" stroke-opacity="0.3" stroke-width="1"/>
<circle cx="1520.3" cy="629.2" r="3" fill="#2563eb" fill-opacity="0.3" stroke="#2563eb" stroke-opacity="0.3" stroke-width="1"/>
<circle cx="1493.9" cy="638.8" r="3" fill="#2563eb" fill-opacity="0.3" stroke="#2563eb" stroke-opacity="0.3" stroke-width="1"/>
<circle cx="1494.5" cy="649.0" r="3" fill="#2563eb" fill-opacity="0.3" stroke="#2563eb" stroke-opacity="0.3" stroke-width="1"/>
<circle cx="1505.3" cy="677.1" r="3" fill="#2563eb" fill-opacity="0.3" stroke="#2563eb" stroke-opacity="0.3" stroke-width="1"/>
<circle cx="1502.3" cy="623.1" r="3" fill="#2563eb" fill-opacity="0.3" stroke="#2563eb" stroke-opacity="0.3" stroke-width="1"/>
<circle cx="1487.9" cy="657.3" r="3" fill="#2563eb" fill-opacity="0.3" stroke="#2563eb" stroke-opacity="0.3" stroke-width="1"/>
<circle cx="1511.7" cy="624.7" r="3" fill="#2563eb" fill-opacity="0.3" stroke="#2563eb" stroke-opacity="0.3" stroke-width="1"/>
<circle cx="1517.3" cy="633.1" r="3" fill="#2563eb" fill-opacity="0.3" stroke="#2563eb" stroke-opacity="0.3" stroke-width="1"/>
<circle cx="1506.4" cy="669.3" r="3" fill="#2563eb" fill-opacity="0.3" stroke="#2563eb" stroke-opacity="0.3" stroke-width="1"/>
<circle cx="1483.7" cy="644.0" r="3" fill="#2563eb" fill-opacity="0.3" stroke="#2563eb" stroke-opacity="0.3" stroke-width="1"/>
<circle cx="1483.6" cy="634.0" r="3" fill="#2563eb" fill-opacity="0.3" stroke="#2563eb" stroke-opacity="0.3" stroke-width="1"/>
<circle cx="1521.0" cy="616.6" r="3" fill="#2563eb" fill-opacity="0.3" stroke="#2563eb" stroke-opacity="0.3" stroke-width="1"/>
<circle cx="1503.1" cy="616.3" r="3" fill="#2563eb" fill-opacity="0.3" stroke="#2563eb" stroke-opacity="0.3" stroke-width="1"/>
<circle cx="1500.5" cy="616.6" r="3" fill="#2563eb" fill-opacity="0.3" stroke="#2563eb" stroke-opacity="0.3" stroke-width="1"/>
<circle cx="1498.3" cy="650.2" r="3" fill="#2563eb" fill-opacity="0.3" stroke="#2563eb" stroke-opacity="0.3" stroke-width="1"/>
<circle cx="1485.4" cy="662.1" r="3" fill="#2563eb" fill-opacity="0.3" stroke="#2563eb" stroke-opacity="0.3" stroke-width="1"/>
<circle cx="1490.7" cy="635.2" r="3" fill="#2563eb" fill-opacity="0.3" stroke="#2563eb" stroke-opacity="0.3" stroke-width="1"/>
<circle cx="1490.8" cy="657.3" r="3" fill="#2563eb" fill-opacity="0.3" stroke="#2563eb" stroke-opacity="0.3" stroke-width="1"/>
<circle cx="1485.3" cy="665.6" r="3" fill="#2563eb" fill-opacity="0.3" stroke="#2563eb" stroke-opacity="0.3" stroke-width="1"/>
<circle cx="1494.5" cy="621.8" r="3" fill="#2563eb" fill-opacity="0.3" stroke="#2563eb" stroke-opacity="0.3" stroke-width="1"/>
<circle cx="1525.0" cy="646.4" r="3" fill="#2563eb" fill-opacity="0.3" stroke="#2563eb" stroke-opacity="0.3" stroke-width="1"/>
<circle cx="1522.0" cy="632.2" r="3" fill="#2563eb" fill-opacity="0.3" stroke="#2563eb" stroke-opacity="0.3" stroke-width="1"/>
<circle cx="1504.8" cy="662.5" r="3" fill="#2563eb" fill-opacity="0.3" stroke="#2563eb" stroke-opacity="0.3" stroke-width="1"/>
<circle cx="1511.1" cy="628.2" r="3" fill="#2563eb" fill-opacity="0.3" stroke="#2563eb" stroke-opacity="0.3" stroke-width="1"/>
<circle cx="1497.2" cy="666.7" r="3" fill="#2563eb" fill-opacity="0.3" stroke="#2563eb" stroke-opacity="0.3" stroke-width="1"/>
<circle cx="1498.2" cy="639.1" r="3" fill="#2563eb" fill-opacity="0.3" stroke="#2563eb" stroke-opacity="0.3" stroke-width="1"/>
<circle cx="1500.7" cy="665.9" r="3" fill="#2563eb" fill-opacity="0.3" stroke="#2563eb" stroke-opacity="0.3" stroke-width="1"/>
<circle cx="1489.2" cy="618.9" r="3" fill="#2563eb" fill-opacity="0.3" stroke="#2563eb" stroke-opacity="0.3" stroke-width="1"/>
<circle cx="1521.5" cy="634.8" r="3" fill="#2563eb" fill-opacity="0.3" stroke="#2563eb" stroke-opacity="0.3" stroke-width="1"/>
<circle cx="1486.8" cy="628.3" r="3" fill="#2563eb" fill-opacity="0.3" stroke="#2563eb" stroke-opacity="0.3" stroke-width="1"/>
<circle cx="1481.9" cy="629.1" r="3" fill="#2563eb" fill-opacity="0.3" stroke="#2563eb" stroke-opacity="0.3" stroke-width="1"/>
<circle cx="1508.5" cy="670.9" r="3" fill="#2563eb" fill-opacity="0.3" stroke="#2563eb" stroke-opacity="0.3" stroke-width="1"/>
<circle cx="1514.7" cy="615.2" r="3" fill="#2563eb" fill-opacity="0.3" stroke="#2563eb" stroke-opacity="0.3" stroke-width="1"/>
<circle cx="1526.4" cy="634.2" r="3" fill="#2563eb" fill-opacity="0.3" stroke="#2563eb" stroke-opacity="0.3" stroke-width="1"/>
<circle cx="1485.7" cy="633.5" r="3" fill="#2563eb" fill-opacity="0.3" stroke="#2563eb" stroke-opacity="0.3" stroke-width="1"/>
<circle cx="1479.5" cy="631.5" r="3" fill="#2563eb" fill-opacity="0.3" stroke="#2563eb" stroke-opacity="0.3" stroke-width="1"/>
<circle cx="1509.9" cy="617.4" r="3" fill="#2563eb" fill-opacity="0.3" stroke="#2563eb" stroke-opacity="0.3" stroke-width="1"/>
<circle cx="1503.0" cy="639.3" r="3" fill="#2563eb" fill-opacity="0.3" stroke="#2563eb" stroke-opacity="0.3" stroke-width="1"/>
<circle cx="1516.6" cy="645.8" r="3" fill="#2563eb" fill-opacity="0.3" stroke="#2563eb" stroke-opacity="0.3" stroke-width="1"/>
<circle cx="1517.8" cy="616.2" r="3" fill="#2563eb" fill-opacity="0.3" stroke="#2563eb" stroke-opacity="0.3" stroke-width="1"/>
<circle cx="1521.2" cy="666.1" r="3" fill="#2563eb" fill-opacity="0.3" stroke="#2563eb" stroke-opacity="0.3" stroke-width="1"/>
<circle cx="1505.2" cy="661.1" r="3" fill="#2563eb" fill-opacity="0.3" stroke="#2563eb" stroke-opacity="0.3" stroke-width="1"/>
<circle cx="1519.5" cy="628.4" r="3" fill="#2563eb" fill-opacity="0.3" stroke="#2563eb" stroke-opacity="0.3" stroke-width="1"/>
<circle cx="1503.2" cy="623.8" r="3" fill="#2563eb" fill-opacity="0.3" stroke="#2563eb" stroke-opacity="0.3" stroke-width="1"/>
<circle cx="1526.8" cy="616.1" r="3" fill="#2563eb" fill-opacity="0.3" stroke="#2563eb" stroke-opacity="0.3" stroke-width="1"/>
<circle cx="1525.5" cy="626.8" r="3" fill="#2563eb" fill-opacity="0.3" stroke="#2563eb" stroke-opacity="0.3" stroke-width="1"/>
<circle cx="1481.6" cy="650.8" r="3" fill="#2563eb" fill-opacity="0.3" stroke="#2563eb" stroke-opacity="0.3" stroke-width="1"/>
<circle cx="1500.3" cy="650.8" r="3" fill="#2563eb" fill-opacity="0.3" stroke="#2563eb" stroke-opacity="0.3" stroke-width="1"/>
<circle cx="1520.8" cy="653.7" r="3" fill="#2563eb" fill-opacity="0.3" stroke="#2563eb" stroke-opacity="0.3" stroke-width="1"/>
<text x="831.10" y="38.00" text-anchor="middle" font-family="Liberation Sans" font-size="30.05" font-weight="bold" font-style="normal" fill="#000" stroke="#000" stroke-width="0.7" textLength="793.19" lengthAdjust="spacingAndGlyphs">¿Dónde pegan más fuerte las mareas río arriba?</text>
<text x="830.30" y="66.70" text-anchor="middle" font-family="Liberation Sans" font-size="21.45" font-weight="normal" font-style="normal" fill="#666"  textLength="811.24" lengthAdjust="spacingAndGlyphs">Amplitud media por tramo de río (SWOT, 8,421 tramos con señal confirmada)</text>
<text transform="translate(32.1,399.7) rotate(-90)" text-anchor="middle" font-family="Liberation Sans" font-size="23.61" font-weight="normal" font-style="normal" fill="#000"  textLength="267.51" lengthAdjust="spacingAndGlyphs">Amplitud de marea (m)</text>
<text x="85.00" y="830.80" text-anchor="start" font-family="Liberation Sans" font-size="16.09" font-weight="normal" font-style="italic" fill="#999"  textLength="496.30" lengthAdjust="spacingAndGlyphs">Fuente: Pietsch et al. (2026), Nature | Datos: Zenodo CC BY 4.0</text>
</svg></body></html>
